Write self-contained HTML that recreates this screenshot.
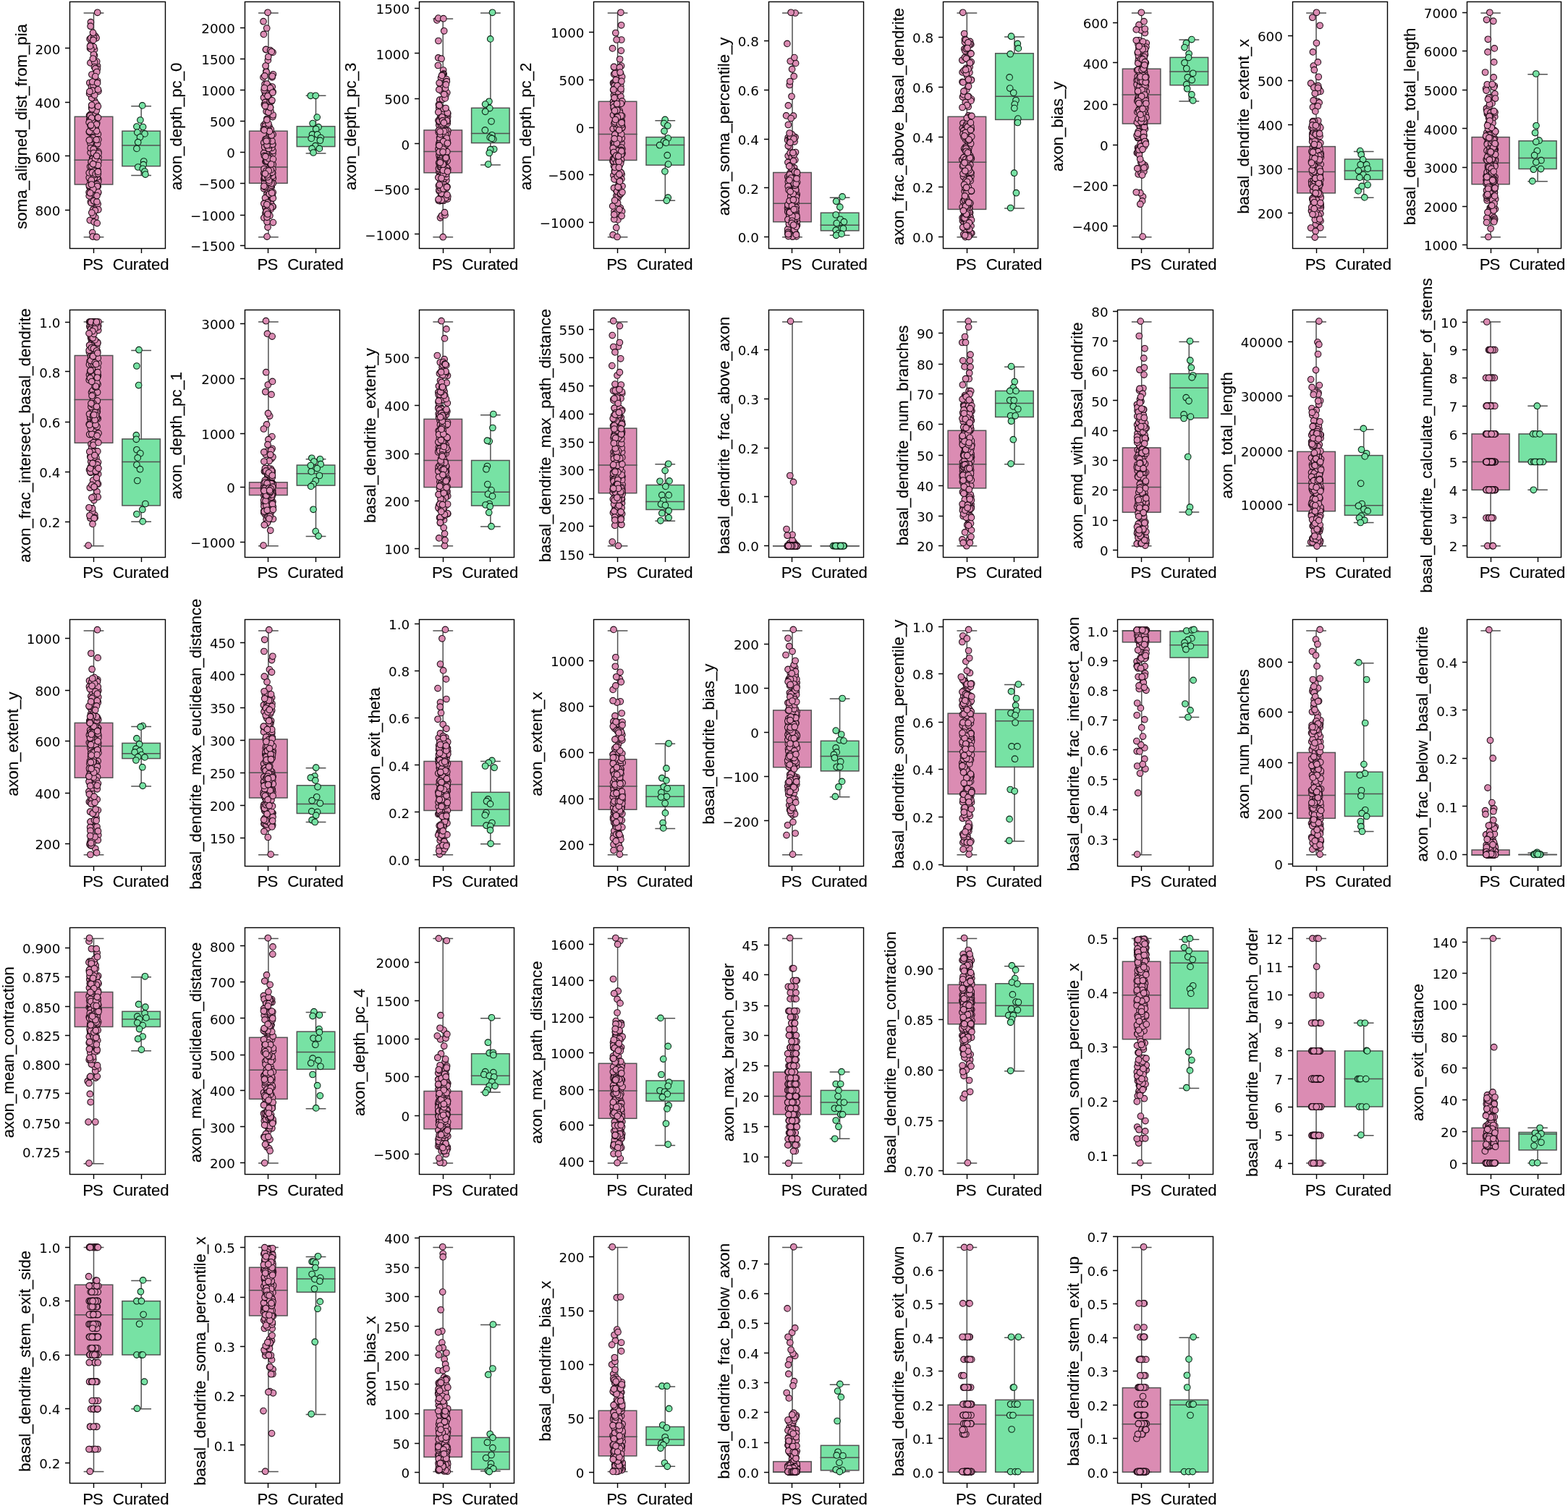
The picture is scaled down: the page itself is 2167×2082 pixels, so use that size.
<!DOCTYPE html><html><head><meta charset="utf-8"><title>Feature comparison: PS vs Curated</title>
<style>html,body{margin:0;padding:0;background:#fff}svg{display:block}.t{font-family:"DejaVu Sans","Liberation Sans",sans-serif;font-size:18.3px;fill:#000;text-anchor:end}.x{font-family:"Liberation Sans",Arial,sans-serif;font-size:22.2px;fill:#000;text-anchor:middle;stroke:#000;stroke-width:.12px}.b{stroke:#525252;stroke-width:1.5;stroke-linecap:square}.s{fill:none;stroke:#000;stroke-width:1.4}.k{stroke:#000;stroke-width:1.4;fill:none}.m{fill:none;stroke:none}.mp{marker-start:url(#mp);marker-mid:url(#mp);marker-end:url(#mp)}.mg{marker-start:url(#mg);marker-mid:url(#mg);marker-end:url(#mg)}</style></head><body>
<svg width="2167" height="2082" viewBox="0 0 2167 2082">
<defs>
<marker id="mp" markerUnits="userSpaceOnUse" markerWidth="12.6" markerHeight="12.6" refX="6.3" refY="6.3" overflow="visible"><circle cx="6.3" cy="6.3" r="4.3" fill="#db8cb3" stroke="#24101a" stroke-width="1.1"/></marker>
<marker id="mg" markerUnits="userSpaceOnUse" markerWidth="12.6" markerHeight="12.6" refX="6.3" refY="6.3" overflow="visible"><circle cx="6.3" cy="6.3" r="4.3" fill="#77e2a4" stroke="#0c2617" stroke-width="1.1"/></marker>
</defs>
<rect width="2167" height="2082" fill="#fff"/>
<g><rect class="b" x="103.3" y="161.3" width="52.5" height="93.7" fill="#db8cb3"/><path class="b" fill="none" d="M103.3 221.2H155.8M129.5 161.3V18M129.5 255V327.7M116.4 18H142.7M116.4 327.7H142.7"/><rect class="b" x="168.9" y="181.2" width="52.5" height="48.5" fill="#77e2a4"/><path class="b" fill="none" d="M168.9 201.1H221.4M195.2 181.2V146.8M195.2 229.7V242.6M182 146.8H208.3M182 242.6H208.3"/><polyline class="m mp" points="125.9,181.1 125.7,249.1 128.6,49.6 126.2,61.8 123.8,114.5 132.9,98.7 127.3,221.8 127.7,218.5 133.6,212.4 136,217.4 125.4,30.7 132.7,257.6 135.8,247.9 133.5,150.6 134.6,91.3 124.9,198.1 128.5,230 126.4,253.1 128,255 123.8,165.1 125.9,61.1 133.3,240 124.9,158.3 134.8,247.7 133.5,286.7 133.5,200.4 124.9,86.9 134.5,111.8 129.8,232.2 125.1,210.9 123.7,258.4 129.9,238.2 135.2,192.9 128.2,118 129,47.6 136,126.1 127.7,321.6 133.5,221.3 128.8,218.6 127.8,177 135.2,282.1 124.7,249.6 132,157.9 129.7,242.3 129,233.2 127.6,268.9 130.5,76.7 128.2,184.8 129.8,174.9 135.3,257.6 131.3,167.5 126.4,224.7 129.3,189.2 127.1,227.8 129.6,263.5 135.9,289.8 130.2,182.3 129.2,227 133.1,171.3 125.1,259.2 134.4,235.9 124.5,183.1 126.9,103 132.1,176.9 126.4,119.4 134.4,95.3 133.8,170.1 124.8,243.5 130.5,139.2 126.7,135.4 123.2,245.6 128.8,252.1 132.4,226.4 135.9,209.9 135.4,185.4 133.7,85 129,268.1 124.9,161.4 123.5,159.8 134.8,198.7 124.5,160.1 124.6,230.3 124.3,304.5 124.3,166.5 132.1,213 131.8,223.7 124.1,53.9 135.7,251.1 132.1,238.5 125.6,256.7 134.9,225.6 127.4,276.6 124.9,168.9 129.6,247.3 135.8,192.9 135.6,266.6 128.2,258.4 126.7,149 124.6,256.9 128.2,219.5 123.2,256.4 128.2,327.1 133.9,254.7 125.9,174.5 125.2,204.7 128.7,239.9 133.2,222.5 125.3,236.1 130.7,85.7 134.5,244.8 131.7,49.9 132.7,210.3 134,258.1 123.6,129.4 128.6,129.9 133,240.2 125.3,279.1 123.3,182.6 126.1,280.6 130.6,68.5 129.2,206.2 132.2,52.7 126.4,181.8 130.3,245.7 130.8,131.6 129.6,273.3 133.6,327.7 127.5,273.9 125.1,266.2 129.6,277.7 128.9,118.3 131.6,166.4 135,235.4 128.8,225.3 129.6,241.9 129.4,234.7 130.7,229.3 130.2,292.5 133.5,181.2 134.5,162.9 125.6,52.6 129.4,64.8 135.1,226.2 135,235.5 130.3,224.8 131.1,110.6 128.5,289.9 134.2,258.1 127.8,125.2 133.1,52.5 129.2,262.9 134.3,257.4 126.8,229.7 131.6,220 127.7,167.4 127.8,113.1 133.2,153 124.5,66.9 135.9,223.4 126.6,229.6 130,236.5 133.9,278.9 127,269 126.3,248.9 126.1,267.5 123.6,181.7 135.5,162.7 123.2,238.9 123.9,126.5 134.3,145 129.3,75.3 134.9,240.9 133.2,193.2 126,67.9 131.8,300.7 126.1,223.6 135.7,265.6 127.1,150.7 134.6,114.7 127.4,238.6 124.9,193 130.1,306.9 132.2,142.4 131.3,290.9 123.2,270.9 128.6,297.6 134.2,308.6 130.4,92.6 123.3,193.8 133.9,270.6 128.4,81.1 131.8,94.7 133.8,99.5 129.3,211.6 126.8,294 126.7,145.3 123.1,265.9 126.6,163 133.3,172 128.8,261.4 129.6,52.4 132.2,240.5 136,212.1 123.1,169.2 127.5,176.4 124.5,63.8 133.3,215.8 135.4,123.8 124.6,266.8 131.7,105.6 126.4,255.1 135.5,228.6 125.1,173.8 131.5,219.4 134.7,17.3 135.4,240.1 128.5,45.2 125.6,173.1 125.1,36.2 133.6,215.5 128.9,55.4 135.4,237.4 128.6,226.7 135.4,147.1"/><polyline class="m mg" points="196.7,145.9 193.9,166 188.9,175.1 197.6,175.5 189.8,183.1 200,184.9 193.5,189.6 190.7,196.7 188.9,205.4 198.7,223 198.1,227.7 190.7,231 197.2,233.3 200,237 200.9,241.1"/><rect class="s" x="96.5" y="2.5" width="132" height="341"/><path class="k" d="M96.5 66.5h-6.5M96.5 141.5h-6.5M96.5 215.5h-6.5M96.5 290.5h-6.5M129.5 343.5v6.5M195.5 343.5v6.5"/><text class="t" x="83.4" y="74.5">200</text><text class="t" x="83.4" y="149.2">400</text><text class="t" x="83.4" y="223.6">600</text><text class="t" x="83.4" y="297.9">800</text><text class="x" style="letter-spacing:-1px" x="128" y="372.5">PS</text><text class="x" style="letter-spacing:-.2px" x="194.6" y="372.5">Curated</text><text class="x" transform="translate(36.5 174.9) rotate(-90)">soma_aligned_dist_from_pia</text></g>
<g><rect class="b" x="344.6" y="181.2" width="52.5" height="72.1" fill="#db8cb3"/><path class="b" fill="none" d="M344.6 231H397.1M370.9 181.2V18M370.9 253.3V327.7M357.8 18H384M357.8 327.7H384"/><rect class="b" x="410.3" y="174.7" width="52.5" height="27.9" fill="#77e2a4"/><path class="b" fill="none" d="M410.3 189.6H462.8M436.5 174.7V132.3M436.5 202.6V211.9M423.4 132.3H449.7M423.4 211.9H449.7"/><polyline class="m mp" points="367.6,281.7 365.8,242.6 377.1,185.9 375.6,227 372.2,221.7 369.1,213.8 366.3,128.3 370.9,249.7 364.7,239.8 376.5,251 372.3,185.8 364.8,197.2 364.5,135 369,327.1 373,279.8 376.9,199.7 366.9,223.4 374,278.8 370.7,255.4 366.1,116.4 370,126.5 375,249.5 376.1,106.9 373.6,148.6 369.2,267.5 369.8,144.7 370,199.4 375.2,248.1 371.9,235.2 365.4,144.4 375.3,140.1 368.1,173.4 368.1,251.9 366.9,192.5 373.4,263.2 368.3,277.9 370.5,272.7 377.2,266 364.7,173 365.7,203.5 372.8,218.3 373.4,137.6 372.9,224.3 368.1,154.1 376.3,270.7 370.3,83.4 376.8,161.6 373.3,223.2 377.2,285.9 367.1,170.4 377.4,307.6 371.2,122.3 374,243.4 367.4,254.3 373.9,203.1 369.1,201.7 367.4,68.6 365.1,248 376.9,212.4 368.9,247.1 364.6,211.7 368.6,239 377.2,208.5 369.1,268.1 373.4,269.9 368.9,164.3 371,150.1 374.7,229.3 373.9,227.9 366.6,174.1 364,29.7 371.9,140.7 372.2,247.2 374.1,289.4 367.7,279.1 370,314.1 377.2,159 365.6,248.5 372.5,119.4 371.2,263.6 369.9,199.3 367.6,218.5 366.9,294.7 366.5,141.4 377.3,246.5 376.8,239.3 366.6,285.5 369.1,262.4 370.8,78.5 375.8,204.3 372.3,188 371,256.6 364.7,260.8 372.7,278.7 364,106.9 367.8,223 374.4,128.6 372.9,280 372.9,148.1 370.9,281.4 376.5,226.3 370,17.3 367.6,234.6 367.2,288.1 372,174.7 374.8,220.1 374.7,282.3 367.3,284.8 370.2,293.5 373.4,261.2 376.6,243.6 371.1,223.6 371.3,205.6 368.8,116 373.6,217.3 377.1,127 376.8,285.5 372.9,298.2 373,140.1 375.2,258.6 377.2,227.4 372.9,200.6 377,233.9 371.3,249.9 366,145.1 376.6,253.3 368.2,220.2 365.4,215.4 369.7,130.5 368.6,234 370.5,216.9 370.6,247.5 376.7,199.6 371.2,192.7 373.7,258.4 370.9,221.3 370,239.7 374.8,256.3 376.2,120 377.2,253.4 374,184.6 366,241.7 371.3,252.7 372.6,240.5 373.9,153.4 367.6,68.4 372.4,195.7 370.8,155.2 367.8,98.8 368.9,283.2 368.2,192.4 373.3,237.9 368.1,99.4 372.3,222.1 365.7,252.6 372,250.8 375,253.6 374.3,178.9 373.5,238.8 365.3,246.4 368.2,238.2 373.5,148.7 371.9,251.9 371.5,269.2 366.5,273.7 368.4,295.2 365,233.5 376,195 374.1,226.5 375.2,187.1 377.3,274 374.9,139 365.8,104.9 370.7,177.7 367,91.1 364.8,301.1 374.4,124.1 369.6,280 372,123.3 367.1,286 367.5,129.8 365.9,245.5 369,306.7 369,200.8 366.2,244.9 373.4,121.7 364.8,281.4 369.8,194.7 374,286.9 371.9,180.6 369.2,290.7 372.2,268.2 372.4,181.6 371.7,249.4 366.2,258.6 373.6,69.6 377,72.4 368.2,236 369.9,132.8 375.9,238.3 375.6,266.7 365.1,124.6 368.1,292.5 377.4,102.8 364.3,178.9 365.4,121.5 369.8,244.7 374.2,235 364.4,47.4 368.1,194.9 364.8,257.3 365.1,179.9 368.4,223.4 369.1,222.6 370.9,218.9 377.4,220.1 366.3,146.5 368.8,282.7 376.8,128 375.2,71.4 375.9,138.8 368.7,39 369.1,242 369,300.3 370.9,170.9 371.2,235.9 376.2,105.3 366.5,240.1 366.9,216.4 368.8,165.7 374.7,227.1 369.9,296"/><polyline class="m mg" points="429.3,132.3 436.2,132.3 438.2,162.1 432.1,170.6 440.1,175.7 436.7,178.4 431.5,185.9 438.6,185.9 430.2,191.4 443.2,190.5 442.3,194.2 435.8,201.7 431.1,205.4 441.4,205.4 433,211"/><rect class="s" x="338.5" y="2.5" width="131" height="341"/><path class="k" d="M338.5 38.5h-6.5M338.5 81.5h-6.5M338.5 124.5h-6.5M338.5 167.5h-6.5M338.5 210.5h-6.5M338.5 253.5h-6.5M338.5 297.5h-6.5M338.5 339.5h-6.5M370.5 343.5v6.5M436.5 343.5v6.5"/><text class="t" x="324.8" y="45.7">2000</text><text class="t" x="324.8" y="89">1500</text><text class="t" x="324.8" y="131.9">1000</text><text class="t" x="324.8" y="175.4">500</text><text class="t" x="324.8" y="218.4">0</text><text class="t" x="324.8" y="260.9">−500</text><text class="t" x="324.8" y="304.6">−1000</text><text class="t" x="324.8" y="347.4">−1500</text><text class="x" style="letter-spacing:-1px" x="369.4" y="372.5">PS</text><text class="x" style="letter-spacing:-.2px" x="435.9" y="372.5">Curated</text><text class="x" transform="translate(250.9 174.9) rotate(-90)">axon_depth_pc_0</text></g>
<g><rect class="b" x="586" y="179.9" width="52.5" height="58.9" fill="#db8cb3"/><path class="b" fill="none" d="M586 209.5H638.5M612.2 179.9V26M612.2 238.8V327.7M599.1 26H625.4M599.1 327.7H625.4"/><rect class="b" x="651.6" y="149.3" width="52.5" height="48.3" fill="#77e2a4"/><path class="b" fill="none" d="M651.6 184.4H704.2M677.9 149.3V18M677.9 197.6V227.9M664.8 18H691M664.8 227.9H691"/><polyline class="m mp" points="610.3,181.8 616.6,219 616,189.8 607.9,199.7 607.5,190.4 607.5,228.8 609.4,271.2 608.5,301.1 608.6,203 609.9,221.3 616.9,249.3 607.5,217.5 610.9,270.1 610.8,186.1 607.9,277.7 617.8,235.2 606.9,237.9 618.2,180.2 608.1,277.4 605.7,79.9 612.8,198.9 615.9,244.6 610.5,275.9 617.8,128.1 612.2,173.9 607.2,179.9 613,193.4 606.8,172.9 612.5,277.2 606.7,145.3 618.5,197.4 607.9,206.1 608.9,218.8 616.8,260.2 618.8,233.7 612.7,193.8 608.9,170.9 610.1,227.8 616.9,216.9 617.1,159.5 618.5,181.4 618.2,170.7 610.1,225.4 615.6,236.2 607.7,138.2 614,220.3 613,182.5 612.6,97 611,239.7 616,238.1 615.2,188.8 614,244.3 612.6,263.9 606.9,168.6 610,81.2 613.2,102.2 612,248.3 605.9,56.5 606.9,214.3 612.8,151.3 608,197.9 616.7,219.7 614,255.4 611.6,268.9 618.1,195.7 607.5,196.5 611.2,264.7 608.5,162.2 613.7,247.1 608.4,116.2 608.3,260.3 609.2,220 603.9,27.9 611.7,217.6 614.9,193.3 606.2,277.2 607.9,166.8 606.8,149.2 618.7,161.3 617.3,231.8 606.5,206.8 608.3,239.1 605.7,25.1 607.2,183.2 610.6,161.2 606.6,225.1 609.6,242.7 608.3,245.7 607.6,167.6 607.9,195.6 608,180.3 613.7,209.1 606.1,205.8 610.9,277 606.3,182.9 609.9,262.7 609.5,107.6 618.8,180.8 607.5,244.2 613.7,42.8 606.9,264 615.9,132.1 612.2,327.7 614.1,194.4 617.1,109.6 612.8,214.5 617.3,112.7 607.9,191.4 612.3,102.6 617.8,164.2 610,173.7 616.5,186.8 617.1,223.3 612.8,206.2 616.8,244.4 606.8,198.5 613.2,235 615.8,201.1 613.7,214.8 614.7,209.8 607.6,210.7 610.2,267.5 606.5,200.5 606.4,233 618.1,185 610.7,243.4 606.9,262.6 605.9,166.6 616,151.9 614,151.5 618.1,222.4 609,216.4 608.4,242.8 610.4,298.3 610.6,126 610.3,241.2 611.3,103.5 610.9,228.5 613,277.2 613.7,197.6 615.1,275.9 618.4,275.1 612.1,121.8 615.9,180.7 614.6,222.7 609.3,211.2 610.5,205.3 618,258.2 608.3,260 613.9,201.5 608.4,231 611.6,137.2 615.2,135.9 611.3,171.7 615,297.4 614.5,293.7 618.3,167.7 606.4,256.7 613.7,222.6 610.5,150 618.8,271.8 614.5,258.5 613.1,227.4 612.8,261.1 613.7,156.1 608.4,221.2 610.7,218.9 609.4,230.5 617.9,236 618.8,157.1 615.4,220.4 616.6,209.1 612.5,223.2 610.2,183.1 616.9,240.3 617.5,166.8 610.7,202.5 613.8,130.4 606.8,123.9 618.1,194.2 608.6,185.6 605.4,90.5 615,215 613,150.4 607.2,167.3 605.8,155 612.6,240.4 615.8,273.7 615.9,186.8 615.5,122.1 614.6,234.9 613.6,181.5 609.1,204.8 611.6,200.6 612.9,210 608.6,249.3 612.3,235.6 611,200 616.3,116.9 608.1,222.4 618.5,237 607.3,255.4 609.9,162.6 610.2,276.5 610.9,161.8 617.6,258.7 614.8,213.4 605.8,245.4 608.6,227.3 606.4,180.3 607,210.1 612.1,227.2 617.2,191 607,224.6 612.8,25.7 611.6,166.9 610,246.3 617.8,269.3 617.8,209.8 612.7,195.4 606.4,144.6 607.1,145.7 612.2,205.9 612,210.1 618.4,198 618.4,155.9 606,275.6 608.1,182 616.2,218.3 616,149.5 613.4,169.7 608.3,224.7 607.1,114.7 607,201.2 610.6,104.4"/><polyline class="m mg" points="680.5,17.3 677.7,53.9 675.9,140.3 670.6,144.1 676.8,149.6 670.6,154.3 679,167.8 670.3,179.9 679.9,186.8 677.2,190 681.8,192.4 679.6,191.4 682.7,206.3 677.7,206.7 676.2,211.5 674.7,227.1"/><rect class="s" x="579.5" y="2.5" width="131" height="341"/><path class="k" d="M579.5 11.5h-6.5M579.5 73.5h-6.5M579.5 136.5h-6.5M579.5 198.5h-6.5M579.5 261.5h-6.5M579.5 323.5h-6.5M612.5 343.5v6.5M677.5 343.5v6.5"/><text class="t" x="566.1" y="19.1">1500</text><text class="t" x="566.1" y="81.6">1000</text><text class="t" x="566.1" y="144.2">500</text><text class="t" x="566.1" y="206.5">0</text><text class="t" x="566.1" y="269.1">−500</text><text class="t" x="566.1" y="331.6">−1000</text><text class="x" style="letter-spacing:-1px" x="610.7" y="372.5">PS</text><text class="x" style="letter-spacing:-.2px" x="677.3" y="372.5">Curated</text><text class="x" transform="translate(492.2 174.9) rotate(-90)">axon_depth_pc_3</text></g>
<g><rect class="b" x="827.3" y="140.3" width="52.5" height="81.2" fill="#db8cb3"/><path class="b" fill="none" d="M827.3 185.5H879.9M853.6 140.3V18M853.6 221.6V327.7M840.5 18H866.7M840.5 327.7H866.7"/><rect class="b" x="893" y="189.6" width="52.5" height="38.7" fill="#77e2a4"/><path class="b" fill="none" d="M893 200.4H945.5M919.3 189.6V166.7M919.3 228.3V277.3M906.1 166.7H932.4M906.1 277.3H932.4"/><polyline class="m mp" points="856.5,189.4 847.4,221.6 848.3,149.7 850.8,196.7 852.1,228.7 855.1,173.8 848.5,123.9 855.3,174.6 857.3,287.4 848.6,220.1 848.2,142.6 855,207.8 851.1,187.4 858.4,190.7 847.5,159.1 848.3,131.8 851.7,263.2 850.7,113.1 847.6,124.4 850.2,114.7 859.1,142.4 847.2,178.1 854.9,199.8 847.5,114.6 847.6,140.3 855.4,191.9 847.9,242.4 852.4,191.4 859.1,167.2 849,292.1 855.3,156.8 847.6,219.7 854.3,245.5 852.7,222.4 855.2,107.6 847.7,219.8 852.6,206.5 849.6,143.9 851,138.5 858.8,55 858.6,91.1 855.1,211 859.7,175 854.3,109.6 851.6,149 860,211.6 852.5,261.1 851.4,247.8 851.3,155.1 851.9,270.7 858.1,222.6 855.7,127.8 853.9,137.4 847.7,199.1 852.9,163 855.6,251.3 859.7,176.8 857.9,191.8 853.3,177.8 852.3,206.3 853.9,171.7 852.4,176.5 857.8,118.8 852.9,97.3 857.9,17.3 853,127.3 856.5,185.2 847.7,144.4 847.9,115.8 852.6,171.9 858.5,220.7 848.5,259.9 855.8,159.5 852.8,161.1 846.5,66.9 851,233.8 851.7,193.4 856.2,153.1 848.4,229.6 852.8,206.1 848.6,102.5 853.1,205.7 853.5,230.4 854.1,140.5 859,198 858.4,205.9 859.6,213.1 849,247.9 850.3,235.7 854.3,273.2 852.7,192.5 847.7,210.5 853.4,185.2 858.6,213.5 859.4,176 847.6,197.3 850.1,147.3 853.9,105.8 848.3,147.9 855,135.4 854.8,169.4 856.3,228.5 859.8,160.3 859.9,206.1 852.7,207.1 848.8,93.2 854.7,256.8 847.1,223.3 847.7,223.1 852.1,55 849.2,116.8 851.2,294.4 852.7,122.4 857.7,101.9 853.9,303.9 852.9,162.1 850.8,45.5 858.9,173.1 850,101.4 850.8,184.7 853,145.2 847.1,324.7 859.6,106.3 851.6,206.3 853.2,212.6 857.8,238.1 853,151.8 858.6,191.7 853.7,163.2 854,270.9 853,327.5 857.8,126.1 855.4,254.5 848.4,92.4 858.3,70.1 856.4,93.2 853.3,131.9 852.7,264.7 848.9,170.6 859.6,292.2 856.8,193.4 857.2,268.8 859.1,240.9 855.9,191.2 851.3,120 849.5,219.8 853.9,226.1 852.7,111.3 855.9,289.4 848.2,199.6 856.6,81.8 852.6,114.1 855.9,135.8 849.6,198 848.7,303 859.7,176.2 859.3,191 851.2,110.5 855,257.9 859.1,298.6 853.8,218.7 849.7,186.1 852,224.6 856.6,155.8 857.7,204.4 852.8,152.2 854.1,123.1 858.7,185.5 849.5,198.5 858.8,204 858.7,172.8 858.9,247.4 852.7,138.7 855,223.2 846.7,284.9 857.1,100.1 857.7,267.7 852.2,123 858.4,207.4 849.5,153.1 857.9,133.5 849.3,236.8 855.6,179.7 860,257.4 857.7,225.8 859.9,265.7 851.7,314.7 853.6,280.7 855.2,259.4 855.4,192.3 858.2,238.7 849.5,277 853.3,208.5 848.7,296.7 858.8,208.9 849.2,118.5 849.8,168.7 847.2,204.7 849.8,237.3 859.8,139.9 858.2,143.3 852.3,198.1 856.4,249.5 855.3,223.5 858.9,112.3 849.1,126.3 851.8,214.1 848.3,210.5 853.2,243.9 856.8,161.3 855.8,241 856.1,168.3 854.1,258.6 858.6,167.9 858.6,34.8 851.9,122.2 849.7,231.4 849.1,191.7 858.3,160 854,126.5 855.3,231.6 856.5,171.5 853.3,161.9 849.7,122.8 856.4,250.7 853.1,118.5 851.5,215.2 858.1,123.1 849,135.2 852.6,143.5 859,169.7 854.6,216.1 850.5,165.4 847.8,123.9"/><polyline class="m mg" points="919.1,165.4 917.6,170.6 922.8,173.8 918,181.2 923.2,191.1 917.6,195.5 920.4,197.4 911.6,200.7 922.2,214.7 923.5,227.1 918.9,237 923.2,273.2 921.3,277.3"/><rect class="s" x="820.5" y="2.5" width="132" height="341"/><path class="k" d="M820.5 44.5h-6.5M820.5 110.5h-6.5M820.5 176.5h-6.5M820.5 241.5h-6.5M820.5 307.5h-6.5M853.5 343.5v6.5M919.5 343.5v6.5"/><text class="t" x="807.5" y="52.2">1000</text><text class="t" x="807.5" y="117.6">500</text><text class="t" x="807.5" y="183.8">0</text><text class="t" x="807.5" y="249.2">−500</text><text class="t" x="807.5" y="315.2">−1000</text><text class="x" style="letter-spacing:-1px" x="852.1" y="372.5">PS</text><text class="x" style="letter-spacing:-.2px" x="918.7" y="372.5">Curated</text><text class="x" transform="translate(733.6 174.9) rotate(-90)">axon_depth_pc_2</text></g>
<g><rect class="b" x="1068.7" y="238.5" width="52.5" height="68.2" fill="#db8cb3"/><path class="b" fill="none" d="M1068.7 281.2H1121.2M1095 238.5V18M1095 306.7V327.7M1081.8 18H1108.1M1081.8 327.7H1108.1"/><rect class="b" x="1134.4" y="294.2" width="52.5" height="24.7" fill="#77e2a4"/><path class="b" fill="none" d="M1134.4 311.3H1186.9M1160.6 294.2V273.2M1160.6 319V325.3M1147.5 273.2H1173.7M1147.5 325.3H1173.7"/><polyline class="m mp" points="1090.6,286.4 1089.4,145.9 1095.3,311.3 1092.9,288.2 1088.9,224.5 1093.8,318 1098,259.1 1097.7,231.9 1090.6,288.3 1093,324.7 1088.5,287.7 1101.5,311.3 1092.2,264 1093.4,313.2 1100.8,270.1 1099.5,210.5 1088.8,244.5 1095.3,320.1 1096.4,263.4 1096.1,214.4 1096,269.9 1096.4,324.6 1097.3,288.9 1100.5,296.9 1099.4,257.3 1090.7,299.4 1100,280.9 1099,237.5 1093.7,228.2 1099.1,189.7 1096.5,310.7 1096.8,215 1089.2,190.3 1090.1,325.3 1089,284.8 1096.8,275 1091.2,117.5 1094.6,95.7 1098.8,294.9 1101.1,240.1 1093.9,191.2 1098.3,296.9 1095.2,299 1099.8,263 1094.3,254.4 1089.5,304.3 1089.2,215.5 1096.8,241.9 1093.5,269.6 1095.9,275.4 1094.8,279.5 1097.5,324.3 1101.3,306.2 1088.7,319.4 1090.2,281.7 1096.1,242.3 1091.9,228.9 1096.5,160.2 1100.6,326.8 1099.6,87.4 1092.2,84.6 1091,298.7 1094.3,306.2 1093.8,286.7 1099.6,302.5 1094.3,297.2 1095.9,299.3 1099.1,18 1101.4,242.8 1097.8,79.6 1100,251.5 1093.4,265.2 1091,312 1089.7,256.5 1092.7,271.5 1093.1,17.3 1098,311.7 1094.9,297.2 1100.1,292.5 1098,312.8 1094.6,312.3 1091.4,203.2 1098.8,221.1 1090.4,246.3 1094.1,286.3 1101.1,268.4 1091.8,247.6 1095.6,241.7 1099.6,262.4 1099.5,237.1 1098.8,289.1 1088.7,292.8 1096.8,239.4 1100.4,301.8 1100.2,270 1086.6,159.9 1088.8,283.1 1093.1,163.6 1093.6,237.9 1098.8,256.3 1096.3,282 1095.9,290.8 1100.5,313.3 1092,211.5 1094.5,235.7 1089.3,251.1 1089.2,257.5 1092,292.7 1093.8,314.6 1096.3,248.9 1097,297.3 1098.9,303.6 1096.7,188.6 1094.8,318.5 1089.3,201.7 1097.7,248.7 1090.7,293.3 1088.6,193.8 1091.4,310.8 1095.1,195.4 1097.8,297.6 1093.6,247.5 1091.6,195.7 1094.1,317.8 1096.5,314.2 1094.6,235.1 1092.5,325.7 1094.9,284.7 1091.6,191.3 1101.1,237.9 1099.2,277.3 1094.3,217.3 1098.9,315.1 1097.7,270 1091.9,239.2 1100.4,272.4 1094,133.3 1097.9,305 1101.6,252.1 1097.1,213.9 1088.7,323.1 1097,280.4 1091.5,302.4 1089.4,172.5 1099.2,299.6 1090.5,317.8 1094.6,281.5 1092.6,321.1 1100.4,297.2 1096.1,268 1098.3,283.4 1097.9,246 1090.1,326.1 1092.4,189.9 1099.2,249.5 1097.4,253.5 1098,195.8 1101,301.8 1092.6,316.7 1087.9,60.4 1096.5,222.4 1094.5,185.9 1095.1,309.3 1094.9,326.6 1095.3,327 1098,308.9 1100.3,323.8 1095.4,320.1 1092.8,189.4 1098.8,313.7 1098.8,291.2 1095.8,324.4 1091.4,241.4 1094.1,309.4 1092.5,296.1 1091.1,297.8 1099.1,322.3 1100.4,239.2 1100.1,254 1091,318.7 1095,317.9 1091.8,112.5 1093.5,232.2 1088.7,316.9 1093.4,303.6 1090.1,262.9 1100.2,286.7 1099.4,289.3 1089.2,321.2 1091.4,324.7 1096.9,192.1 1098.4,237.3 1091.1,277.7 1095.2,327.1 1089.5,326.6 1099.6,311.1 1098.5,318.2 1090.6,323.5 1090.3,309.6 1097.1,304.3 1093.2,246 1100.9,299.3 1089.2,323.7 1090.7,229.8 1092.1,264.7 1088.9,303.5 1101.5,238.4 1094.9,299 1097.2,105.4 1091.9,197.1 1094.4,284.5 1097.9,317.5 1091.4,293.5 1100.4,313.4 1094.5,305.3 1094.2,308.4 1095.8,211.2 1096.7,311 1091.1,184 1100.3,324.4 1099.9,277 1090.9,249.1 1100.9,246.9 1097.2,289.6 1096.3,276.2"/><polyline class="m mg" points="1164.1,271.9 1155.6,278.3 1160.8,286.2 1155.2,297 1161.2,303.3 1156.2,308.6 1166.4,306.7 1162.7,316 1155.2,318.2 1165.4,316 1158.9,322.5 1155.6,325.3 1163,323.4"/><rect class="s" x="1062.5" y="2.5" width="131" height="341"/><path class="k" d="M1062.5 56.5h-6.5M1062.5 124.5h-6.5M1062.5 192.5h-6.5M1062.5 259.5h-6.5M1062.5 327.5h-6.5M1094.5 343.5v6.5M1160.5 343.5v6.5"/><text class="t" x="1048.8" y="63.9">0.8</text><text class="t" x="1048.8" y="131.8">0.6</text><text class="t" x="1048.8" y="199.6">0.4</text><text class="t" x="1048.8" y="267.5">0.2</text><text class="t" x="1048.8" y="335.3">0.0</text><text class="x" style="letter-spacing:-1px" x="1093.5" y="372.5">PS</text><text class="x" style="letter-spacing:-.2px" x="1160" y="372.5">Curated</text><text class="x" transform="translate(1007.7 174.9) rotate(-90)">axon_soma_percentile_y</text></g>
<g><rect class="b" x="1310.1" y="161.3" width="52.5" height="128.1" fill="#db8cb3"/><path class="b" fill="none" d="M1310.1 224.3H1362.6M1336.3 161.3V18M1336.3 289.4V327.7M1323.2 18H1349.5M1323.2 327.7H1349.5"/><rect class="b" x="1375.7" y="73.8" width="52.5" height="91.6" fill="#77e2a4"/><path class="b" fill="none" d="M1375.7 133.3H1428.2M1402 73.8V51.1M1402 165.4V287.9M1388.8 51.1H1415.1M1388.8 287.9H1415.1"/><polyline class="m mp" points="1332.7,295 1332.6,46.5 1342.2,178.9 1330.4,305.3 1338,196.6 1341.9,243.7 1341.7,73.7 1335.1,252.1 1329.8,83.2 1329.8,220.8 1332.8,67.8 1340.9,199.6 1333.8,183.6 1334.3,204.2 1342.5,264.4 1340.4,299 1333.3,54.7 1336,123.4 1340.7,294.1 1336.8,169.2 1338.5,203.8 1340.8,300.2 1331.9,217.7 1339.7,321 1337.9,314.8 1334.5,192.8 1330.9,170.3 1336.5,304.6 1335.8,177.1 1334.5,307.2 1340.6,57.4 1330.3,177.2 1335.3,321.4 1338.7,286.6 1333.4,184 1337.6,310.4 1342.8,322.4 1334.9,265.6 1335.3,273.6 1337.9,195.5 1338.5,159.9 1335.2,275.4 1338.8,231.7 1341.8,61.4 1334.4,301.3 1332,276.9 1335.9,171.6 1339.8,288.5 1340.8,227.8 1338.9,204.4 1342.4,110.3 1330.1,301.1 1336.5,97.4 1331.4,278.9 1332.1,189.3 1333.2,264.5 1335.1,176.8 1338.4,209.2 1339.5,293.3 1337.8,304.2 1332,225.2 1335.8,60.3 1338,110.4 1336.6,105.1 1333.4,58.4 1333.8,225.9 1339.6,286.8 1336.3,317.2 1332.3,308 1337,222.6 1338.3,258.7 1339.7,263.9 1334.8,302.4 1332.8,303.3 1334.7,55.2 1338.1,313.8 1330.4,134.1 1334.2,203.4 1333.1,179.3 1334.6,220.2 1340.2,323.5 1331.7,324 1339.9,100.3 1338.9,181 1338.9,75.6 1340.1,195 1334.9,325.3 1339.1,162.4 1334.7,311.5 1330,113.3 1330.9,113.9 1336.7,298.6 1341.9,175.2 1333.1,237.7 1337.6,285.3 1338.8,231 1333.4,79.3 1331.1,315.1 1337.7,280.4 1334,176.4 1341.2,249.7 1332.6,205.7 1337.2,207.7 1335.4,174 1334.3,303.5 1332.2,243.6 1341.6,198.4 1342.3,110.8 1340.5,61.1 1338.8,63.1 1336.2,163.2 1338.2,147.5 1330.1,286.1 1338.4,302.1 1338.6,263.4 1341.7,322.3 1336.7,81.7 1338.6,133.4 1335.8,326.1 1331.5,244.2 1334,282.7 1334.7,250.8 1331.6,130.9 1342.4,219.3 1335.1,94.4 1330.1,99.9 1335.9,265.7 1335,249.4 1336.8,175.7 1342.5,137.1 1335.5,71.7 1340.7,215.2 1337.9,58.8 1332.2,97.5 1342,312.4 1334.4,316.8 1331.5,180.7 1334.9,209.3 1335.2,299.1 1342.3,263.8 1335.3,101.7 1338.4,110.1 1342.2,85.7 1334.1,327.6 1336.2,303.9 1338.9,193.8 1342,239.2 1332,313.6 1341.7,217.9 1333.5,276.6 1333.9,70.4 1338.8,220.2 1335.3,67.7 1336.6,287.5 1338.8,181.7 1341.3,238.1 1339.2,235 1330.5,229.8 1339.6,325.9 1336.4,276.4 1331.2,228.4 1337,66.5 1332.7,289.9 1333.9,259.7 1336.9,294.3 1342.7,188.8 1335.8,308.6 1330.9,240.1 1331,185.2 1330.7,17.3 1339.6,316.8 1340.1,92.7 1340.6,281.2 1339.4,247.7 1332.3,298.3 1340.5,74.8 1335.4,80.9 1334,297.3 1342.5,304.3 1330.7,314.2 1336.9,175.6 1336.5,251.3 1337.8,279.2 1340.7,280.6 1334.6,183.2 1338.6,327.3 1331.8,301.2 1338.9,192.9 1336.2,284.5 1333.1,301.4 1334,207.5 1336.8,313.3 1335,296 1338.2,232.5 1341.8,139.4 1333.6,325.3 1335.5,296 1342.2,160.6 1339.4,307.9 1332.5,255.3 1340.3,218.3 1341.3,179.7 1338.5,119.3 1335.6,259.2 1333.8,236.3 1334.5,285.1 1334.9,205.5 1332.9,187.8 1331.3,291.3 1334.2,141.6 1336.3,145.4 1335.2,209.3 1340.4,87 1337.4,211.1 1341.9,74.3 1338.1,95.2 1341.4,169.6 1337.7,133.5 1333.4,270.9 1331.9,126.2 1333,224.9 1342.9,160.4 1334.5,96.6 1330,148.5 1336,312 1338.8,280"/><polyline class="m mg" points="1397.5,50.2 1406.3,60.4 1407.4,66.9 1396.2,74.7 1395.1,106.9 1395.7,122.1 1400.7,128.3 1404,138.5 1402.2,144.1 1401.8,149.6 1406.8,164.1 1406.4,169.5 1401.6,239.2 1404.4,266.7 1396.6,287.5"/><rect class="s" x="1303.5" y="2.5" width="131" height="341"/><path class="k" d="M1303.5 51.5h-6.5M1303.5 120.5h-6.5M1303.5 189.5h-6.5M1303.5 258.5h-6.5M1303.5 327.5h-6.5M1336.5 343.5v6.5M1401.5 343.5v6.5"/><text class="t" x="1290.2" y="58.7">0.8</text><text class="t" x="1290.2" y="127.9">0.6</text><text class="t" x="1290.2" y="197">0.4</text><text class="t" x="1290.2" y="266.2">0.2</text><text class="t" x="1290.2" y="335.3">0.0</text><text class="x" style="letter-spacing:-1px" x="1334.8" y="372.5">PS</text><text class="x" style="letter-spacing:-.2px" x="1401.4" y="372.5">Curated</text><text class="x" transform="translate(1249.1 174.9) rotate(-90)">axon_frac_above_basal_dendrite</text></g>
<g><rect class="b" x="1551.4" y="95.2" width="52.5" height="75.8" fill="#db8cb3"/><path class="b" fill="none" d="M1551.4 131H1603.9M1577.7 95.2V18M1577.7 171V327.7M1564.6 18H1590.8M1564.6 327.7H1590.8"/><rect class="b" x="1617.1" y="79.4" width="52.5" height="38.3" fill="#77e2a4"/><path class="b" fill="none" d="M1617.1 98.9H1669.6M1643.3 79.4V55M1643.3 117.7V140.1M1630.2 55H1656.5M1630.2 140.1H1656.5"/><polyline class="m mp" points="1579.1,90.8 1571.3,211.4 1576.8,238.6 1573.6,122.9 1576.7,157 1579.5,271.9 1583.5,107.1 1577,207.5 1572.7,114.7 1581.1,170.7 1581.7,92.2 1572.3,73.2 1580.6,82.9 1576.3,96.5 1580.6,102.8 1572.4,138.2 1573.2,240.9 1574,34.4 1575.8,266.7 1583.1,157.9 1575.1,154.6 1581.3,151.5 1572.5,121.2 1571.1,111.3 1580.1,66.1 1580.7,73.8 1574.2,69 1576.1,166.1 1570.3,265.8 1578,194.1 1574.7,60.1 1576.8,224.4 1581.4,104.8 1580.1,69.9 1579.6,62.3 1572.5,204.3 1577.7,96.3 1577,131.4 1571.1,116.7 1576.9,61.1 1572.8,135.6 1577.6,205.3 1573.4,205.9 1576.5,153.9 1573,61.2 1580.3,171.7 1572.2,210.6 1582.3,45.5 1579.3,173.4 1579.9,159.8 1577.4,134.1 1573.1,209.1 1571.5,97 1580.9,90.4 1575.5,181.4 1575.4,136.9 1578.7,183.6 1574.9,103.9 1578.1,100.1 1578,67.7 1574.5,168 1574.5,150.4 1584.1,162.4 1584.2,126.6 1582.5,120.9 1578.6,277.9 1576.9,108.1 1576.1,198.6 1575.2,99.1 1581.5,171.9 1574.4,214.1 1572.6,127.4 1574,124.7 1582.1,228.4 1575,73.1 1583.2,135.1 1576.5,148.9 1574.4,95.3 1573.1,126.3 1576.8,41.8 1577.1,237.7 1573.1,181.9 1573.9,134.2 1574.1,173.2 1572.2,105.9 1578.1,140.8 1573,165.5 1579.7,175.3 1580.4,200.4 1576.2,133.7 1578.4,225.5 1581,81.1 1578.5,233.6 1581.7,107.5 1578.7,202.4 1581.6,90.2 1581.7,99.8 1582.6,65.4 1578.5,204.1 1573.9,80.2 1572.9,110.8 1576.3,82.9 1579.7,62.5 1582.1,151.9 1576.2,94.1 1576.8,74 1573.2,84.1 1581.9,132.4 1577.3,130.9 1583.4,86.9 1583.8,105.9 1580.8,127.8 1582.5,75.8 1575.8,116.3 1577.6,166.4 1582.4,178.2 1576.9,239 1580.9,139.6 1578,171.1 1581.1,105.6 1572.8,87.4 1575,119.2 1579,70.3 1582.3,69.8 1577.3,62.6 1577.3,113.7 1572.5,190.7 1580,65 1575.7,220 1576.6,165.2 1574.5,125.6 1574,207.1 1574,55.8 1574.3,189.8 1584.3,59.6 1579.3,110.4 1581.6,175.5 1577.3,17.3 1576.8,71.3 1572.9,189.8 1579.2,327.1 1583,149.5 1575.5,95.4 1575.5,169.1 1574.1,65.4 1573.4,77 1575.7,102.5 1574.5,96.2 1581,187.2 1576.7,186.2 1579.5,57.6 1573.6,232.6 1583.9,65 1581.1,98.3 1574.1,67 1581.8,147.6 1581,153.6 1572.3,170 1582.3,104 1580.7,136.4 1583.4,119.1 1580.5,125.1 1571.1,187.2 1582.1,89.8 1575.1,64.4 1575.6,161.4 1583.1,195.7 1580.5,74.4 1581.9,168.3 1571.8,154.9 1578.6,138.7 1581.6,94 1577.4,146 1581,29.7 1575.9,67.3 1573.6,152.5 1583,231 1580.9,167.6 1583.4,139.3 1571.8,232.9 1582.1,74.1 1582.4,67.7 1580.9,237.2 1575.8,282.2 1578.5,242.1 1571.4,169.4 1571.8,139.9 1581.1,78.6 1578.3,81.1 1581.6,202.3 1578.7,111 1572.8,96.4 1582.2,117.4 1582.7,196.2 1576,112.3 1577.6,64.8 1570.3,55.8 1580.5,183.5 1576.7,202.5 1578.1,96.7 1579,206.6 1576.7,159 1577.1,69.7 1576.8,81.4 1578.1,124.3 1581.8,131 1574.9,107.1 1572.6,72 1580.2,94.9 1578.4,112.4 1583.9,143 1577.7,133.2 1578.9,82 1580.1,104.4 1573.2,139.5 1570.3,40.9 1579.2,68 1576.2,106 1580.5,189.7 1582.3,85.7 1579.1,156.7 1574.5,154.6 1583.9,113 1573.1,164.6 1573.8,142.8 1581.9,195.6 1574.1,64 1580.1,164.3 1583.2,113.8 1581.7,89.9 1582.3,40 1577,168.3 1577.7,163.6 1579.1,150.5 1582.9,106.7 1572.4,184.6 1572.6,126.1 1576,158.4 1583.5,199.1 1581,232"/><polyline class="m mg" points="1646.9,54.6 1639.4,59.5 1637,65.6 1643.1,74.3 1642.6,79.6 1637,86.8 1639.8,94.8 1648.7,101.3 1641.3,106.9 1647.2,110.6 1639.8,116.7 1640.7,122.7 1646.9,130.7 1648.7,139"/><rect class="s" x="1544.5" y="2.5" width="132" height="341"/><path class="k" d="M1544.5 31.5h-6.5M1544.5 86.5h-6.5M1544.5 144.5h-6.5M1544.5 200.5h-6.5M1544.5 256.5h-6.5M1544.5 312.5h-6.5M1577.5 343.5v6.5M1643.5 343.5v6.5"/><text class="t" x="1531.6" y="38.6">600</text><text class="t" x="1531.6" y="94.6">400</text><text class="t" x="1531.6" y="151.7">200</text><text class="t" x="1531.6" y="207.8">0</text><text class="t" x="1531.6" y="264.1">−200</text><text class="t" x="1531.6" y="320.4">−400</text><text class="x" style="letter-spacing:-1px" x="1576.2" y="372.5">PS</text><text class="x" style="letter-spacing:-.2px" x="1642.7" y="372.5">Curated</text><text class="x" transform="translate(1469.3 174.9) rotate(-90)">axon_bias_y</text></g>
<g><rect class="b" x="1792.8" y="202.6" width="52.5" height="64.3" fill="#db8cb3"/><path class="b" fill="none" d="M1792.8 237.4H1845.3M1819 202.6V18M1819 266.9V327.7M1805.9 18H1832.2M1805.9 327.7H1832.2"/><rect class="b" x="1858.4" y="220.1" width="52.5" height="28.1" fill="#77e2a4"/><path class="b" fill="none" d="M1858.4 236.1H1911M1884.7 220.1V209.5M1884.7 248.1V273.2M1871.6 209.5H1897.8M1871.6 273.2H1897.8"/><polyline class="m mp" points="1812.6,250.7 1815.6,279.1 1821.5,252.8 1817.8,204.2 1818.4,310 1823.8,235 1825.4,286.5 1820.8,251.7 1817.4,268.8 1822.8,282.5 1816.5,261.8 1823.3,277.4 1824.8,197.7 1816.9,139.6 1823.2,247.8 1815.3,273.2 1825.1,248.3 1823.3,239.6 1819.8,262.6 1823.1,273.9 1823,174.3 1824.8,211.2 1820,191.9 1819.4,219.8 1813.9,191.3 1824.8,176.6 1823.8,241.2 1822.5,260.1 1815.9,198 1823.1,235.8 1821.7,167 1811.6,315.1 1814.5,253.1 1816.5,287 1815.4,206.8 1820.8,274.3 1823.9,240 1825,305.4 1815.3,91.1 1821,140.3 1818.6,211.9 1819.1,238.1 1815.5,274.6 1820.3,186.7 1814.4,148.1 1818.4,245.4 1820.4,248.7 1820.7,259.4 1818,292.7 1823.7,240.7 1821.6,248.4 1821.4,217.3 1817.3,211.5 1814.4,71.9 1815.9,207.5 1813.8,211.7 1815.6,280.7 1822.7,122.8 1824.5,295.1 1815.8,210.8 1824.9,282.2 1821.1,225.1 1819.8,225.4 1816.6,167.6 1816.9,263.9 1820.5,234.4 1819.6,218.2 1822.3,239.7 1820.8,242.6 1824.4,254.8 1812.6,291.3 1814.1,276.3 1823,242.5 1821.2,239.3 1822.4,251.3 1814.4,167.6 1815.8,179.3 1816.5,230.2 1822.2,290.3 1817.6,175.6 1818.2,205 1822.7,256.6 1817.5,278.7 1818.7,232.6 1820,282.4 1818.3,216.4 1817.1,247.7 1814.3,203.6 1815.7,277.4 1824.9,126.2 1815.7,276.1 1815.4,118.9 1818,296.3 1824.8,314.8 1820.4,251.4 1824.9,288.3 1824.9,271.6 1825.2,273.6 1821.4,211.2 1813.9,254.9 1813.9,193.2 1812.5,291.8 1813,256.1 1821.8,280.8 1819.2,198.1 1815.6,261.6 1822.2,106.3 1815.5,173.6 1822.3,305.3 1819.5,276.8 1811.6,115.2 1812.5,223.1 1816.3,96.7 1820.2,202 1818.2,202.3 1824.8,295.5 1825.3,212.9 1818,236.2 1819,301.9 1818.6,189.1 1819.8,240 1823.1,141.9 1817.4,207.3 1812.8,209.5 1815.4,225.8 1814.1,217.4 1815.7,232.5 1821.7,118.7 1821.5,257.3 1813.6,196 1821.5,183.8 1820,179 1819.5,248.5 1824.8,214.9 1813.8,274.4 1819.8,294.3 1821.2,146.8 1822.7,266.1 1824.3,244.2 1825.2,227.1 1817.3,194 1824.3,218 1817.8,153.9 1814.8,279.9 1815.1,138.9 1812.8,253.9 1820.4,175.4 1821.1,127.3 1812.8,176.5 1817.3,303.6 1816.7,296.6 1820.8,187.7 1813.8,184.5 1825,283.9 1814.7,276 1821.4,204.8 1822.1,297.6 1813.7,185.4 1813.7,187.9 1813.8,24.2 1824.1,35.3 1816.6,229.5 1819.3,216.1 1814.9,177.3 1825.4,217.4 1823.8,303.1 1817.6,244 1823.4,255.9 1815.6,183.6 1824.5,282.3 1823.8,241.3 1818.1,319.7 1815.4,249.9 1816.5,237.8 1817.2,266.1 1822.8,218.2 1824.1,268.4 1821.3,85.9 1818,200.6 1818.2,296.1 1814.2,239.3 1821.6,283.4 1819.6,235.1 1818.2,183.9 1814.3,168.8 1817.2,328.1 1823.9,206 1823.7,233.9 1822.2,267.2 1819.4,59.5 1821.6,209.6 1815.2,254.8 1817.5,251.3 1824.8,214.6 1819.4,17.3 1818.7,240.5 1822.4,200.5 1813.7,172.9 1812.8,286.4 1814.7,263.9 1815.9,200.4 1818.5,185.7 1817.2,129.2 1814.9,258.2 1822.9,222.7 1819.7,236 1815.8,121.1 1821.5,121.5 1816.3,279.8 1824.8,280.5 1814,296.2 1822.9,243.2 1823.4,233 1815.6,237.2 1813.3,235 1816.3,199.6 1822.8,215.8 1824,188.4 1819,247.7 1817.5,215.3 1822.4,253.3 1818.4,173.4 1814.4,210.3 1818.2,260.3 1817.8,246.5 1814.4,227.8 1816.2,288.4 1823.5,220.8 1816.9,218.9 1824.7,237 1812.5,225.1 1818.2,266.9 1824.4,245.5 1823.6,184.8"/><polyline class="m mg" points="1879.7,208.6 1881.2,213.8 1883.6,220.6 1880.2,227.7 1888.6,227.7 1890.1,233.3 1877.4,236.1 1884,241.6 1878.9,245.4 1889.5,245.4 1890.1,255.6 1882.1,257.4 1877.1,263.9 1885.8,272.9"/><rect class="s" x="1786.5" y="2.5" width="131" height="341"/><path class="k" d="M1786.5 49.5h-6.5M1786.5 111.5h-6.5M1786.5 172.5h-6.5M1786.5 233.5h-6.5M1786.5 294.5h-6.5M1819.5 343.5v6.5M1884.5 343.5v6.5"/><text class="t" x="1772.9" y="57.4">600</text><text class="t" x="1772.9" y="118.8">500</text><text class="t" x="1772.9" y="179.9">400</text><text class="t" x="1772.9" y="240.9">300</text><text class="t" x="1772.9" y="302.2">200</text><text class="x" style="letter-spacing:-1px" x="1817.5" y="372.5">PS</text><text class="x" style="letter-spacing:-.2px" x="1884.1" y="372.5">Curated</text><text class="x" transform="translate(1726 174.9) rotate(-90)">basal_dendrite_extent_x</text></g>
<g><rect class="b" x="2034.1" y="189.6" width="52" height="65.1" fill="#db8cb3"/><path class="b" fill="none" d="M2034.1 225.3H2086.1M2060.1 189.6V18M2060.1 254.6V327.7M2047.1 18H2073.1M2047.1 327.7H2073.1"/><rect class="b" x="2099.1" y="194.8" width="52" height="38.7" fill="#77e2a4"/><path class="b" fill="none" d="M2099.1 218.6H2151.1M2125.1 194.8V102.8M2125.1 233.5V250.7M2112.1 102.8H2138.1M2112.1 250.7H2138.1"/><polyline class="m mp" points="2062.4,196.9 2058.3,296.4 2053.6,122.5 2065.4,266.1 2062.7,244.6 2065.4,266.4 2054.8,183.5 2063.1,280.4 2062.1,296.2 2061.4,206.3 2058.5,252.6 2065.9,129.8 2054.8,301.5 2062.7,276.3 2058.4,155.5 2064.5,285.7 2061.9,204.1 2062.1,235.9 2064.7,85.9 2055.3,116.8 2058.8,17.3 2062.6,289.6 2055.1,277 2064.9,230.4 2057.9,184.6 2055.2,273.8 2062,259.7 2065.6,191.7 2055.4,240 2056.4,54.3 2065.6,227.2 2063,217.9 2055.7,221.7 2058.7,248.5 2066.3,206.7 2060,139.2 2057.9,135.3 2054.5,151.5 2054.1,243.6 2066.5,220.5 2060.2,247.6 2065.4,206.9 2054.5,149.8 2065,181.7 2056.6,230.7 2059.5,134.7 2062,193.1 2066.4,222.6 2063.8,29.2 2054.1,253.7 2065.8,161.4 2059.7,206.7 2056.6,232.8 2060.7,215.9 2054.1,125.1 2056.5,229.1 2056.4,197.2 2064.8,300.8 2055.1,264.4 2055.1,238.1 2065.2,208.7 2063.8,214.5 2065.3,66.9 2059,244 2066,244.6 2064.7,225.5 2060,232.6 2063.2,286.2 2065.7,303 2066.5,136.1 2058.5,234.7 2059.3,287.3 2059.4,223.6 2058.7,235.7 2055,208.2 2059.6,208.5 2066,155.3 2060.2,286.9 2054,249.1 2055.6,197.8 2062.1,254.5 2063.9,242.5 2065.7,180.6 2065.8,248.9 2060.2,185.8 2057.7,245.3 2058.5,254.1 2063.9,206.1 2061.7,289.7 2057.7,179.6 2054.5,27.3 2065.1,304.8 2063.8,189.8 2054.5,307.6 2056.9,170.4 2056.5,245 2065.3,118.8 2062.8,165 2057.2,171.6 2059.1,205 2058.1,229.4 2064.6,120.5 2066,229.7 2064.2,106.9 2061.4,236.7 2064,184.8 2058.7,290.8 2054.2,220.5 2062.5,183.1 2062.6,251.3 2057.6,135 2062,142.9 2058.1,146.7 2063.9,247.9 2055.5,252.4 2055.4,157.5 2062.7,245.6 2055.6,186.9 2060.5,241.7 2063.4,284.8 2059.4,250.6 2055.8,156.2 2058.6,144.1 2064,255.1 2056.4,247.8 2055.8,191.7 2053.7,189.1 2059.3,264.6 2064.7,306.7 2060.3,230 2061.6,237.9 2058,193.1 2057.7,242.5 2063.1,220.3 2055.2,199.3 2059,204.5 2065.5,201.4 2056.6,271.6 2057.3,173.9 2061.4,285.7 2066.6,182.1 2054.4,270.5 2066.4,289.1 2060.1,316 2056.4,177.8 2065.9,260.5 2063.1,273.3 2062.3,116.5 2065.1,253.2 2052.6,100 2058.9,213.2 2057.6,214 2061.1,259.5 2060.3,210 2066.7,199.3 2061.5,201 2056.5,137.3 2062.1,195.1 2058.2,248.9 2058.3,216.4 2055.9,293.4 2058,231 2057.9,210.1 2060.8,197.9 2055,154.1 2064.1,203.5 2054.6,270.8 2057.6,163.3 2055.2,221.5 2062.8,195.2 2059.6,161.4 2059.8,156.1 2058,214.6 2058.8,160.3 2058.2,161 2061.7,246.2 2063,170.3 2061.3,240.5 2056,71.9 2062.1,219.5 2058,217.4 2064,179.4 2064.5,193.5 2066.7,275.2 2054.4,244.6 2065.3,183.9 2064.5,286.7 2063.9,203.6 2062.6,276.3 2066,198.4 2066.7,181.7 2056.9,327.5 2065.7,271.1 2066.7,257 2064.6,251.3 2066.6,213.5 2065.1,281.5 2054.7,249.4 2064.2,291 2061.1,233.2 2058.2,187.1 2061.8,239.1 2055.1,251.8 2059.4,190.7 2064.6,153.7 2058.8,167 2060.7,210.2 2054,188.6 2055.7,216.7 2053.6,188 2057.1,258.5 2059.5,211.4 2061.3,176.4 2054.5,263 2056,270.5 2065.6,261.2 2056.7,244.7 2058.4,220.9 2056.7,261 2057.9,190.4 2063.7,250.8 2055.6,173.5 2064.2,237.1 2062.7,249.2 2066,260 2054.8,244.8 2054.1,270.1 2060.1,209.9 2061.7,284.2 2055.7,268.8"/><polyline class="m mg" points="2122.8,102 2123,173.8 2121.5,183.6 2127.1,194.2 2122.8,196.1 2124.3,208.6 2120.6,214.7 2129.9,221.7 2122.8,224.3 2129.5,233.6 2119.3,234.2 2117.8,250.4"/><rect class="s" x="2027.5" y="2.5" width="130" height="341"/><path class="k" d="M2027.5 17.5h-6.5M2027.5 70.5h-6.5M2027.5 124.5h-6.5M2027.5 177.5h-6.5M2027.5 231.5h-6.5M2027.5 285.5h-6.5M2027.5 338.5h-6.5M2060.5 343.5v6.5M2125.5 343.5v6.5"/><text class="t" x="2014.3" y="24.7">7000</text><text class="t" x="2014.3" y="78.4">6000</text><text class="t" x="2014.3" y="131.9">5000</text><text class="t" x="2014.3" y="185.5">4000</text><text class="t" x="2014.3" y="239.2">3000</text><text class="t" x="2014.3" y="292.7">2000</text><text class="t" x="2014.3" y="346.3">1000</text><text class="x" style="letter-spacing:-1px" x="2058.6" y="372.5">PS</text><text class="x" style="letter-spacing:-.2px" x="2124.5" y="372.5">Curated</text><text class="x" transform="translate(1955.7 174.9) rotate(-90)">basal_dendrite_total_length</text></g>
<g><rect class="b" x="103.3" y="491.5" width="52.5" height="120.8" fill="#db8cb3"/><path class="b" fill="none" d="M103.3 552.5H155.8M129.5 491.5V445M129.5 612.3V754.7M116.4 445H142.7M116.4 754.7H142.7"/><rect class="b" x="168.9" y="606.9" width="52.5" height="92" fill="#77e2a4"/><path class="b" fill="none" d="M168.9 638.5H221.4M195.2 606.9V484.6M195.2 698.9V721.2M182 484.6H208.3M182 721.2H208.3"/><polyline class="m mp" points="135.1,531.2 129.9,572.4 135.4,519.1 132,576.3 129.9,551.6 126.4,445 130.8,711.9 126.5,470.9 129.4,558.7 130.8,445 125.6,494 123.5,649.6 133.1,542.2 134.6,485.7 135.6,669.1 126.5,542.4 135.3,578.7 131,627.5 132.7,627.3 131.6,520.8 129.8,691.5 124.9,579.3 123.6,445 133,445 132.3,562.6 124.6,587.5 124,499.4 123.5,518.3 126.1,499.1 128.3,445 133.2,523.7 133.7,448.7 133.6,637.1 125.2,653.4 127.8,445 124.8,600.7 128.4,621.2 123.9,451.7 124.6,477.4 134.1,577.6 136.1,445 131,515.2 135,507.7 134.4,642.7 132.9,632.8 132.1,528.8 131.4,603.4 126.1,520.2 135.8,501.9 125.9,459.8 129.4,518.4 134.7,521.2 127.8,706.9 129.8,445 123.2,586.4 132,502.5 134.5,564.6 131.4,588.1 127.3,563.2 126.7,485.8 127,505.6 124.6,576.3 133.6,664.7 133.8,554.9 134.8,623.9 132.8,541.6 134,679.7 133.3,578 135.2,687 127.1,636.5 135.6,639.1 134.1,649.9 133.4,445 136.1,598.9 133.3,495 134.4,569.1 134.4,655 132.2,572.9 127.7,646.2 130,574.8 135.3,495.1 126.7,474.6 128.1,540.1 130.3,475 128.2,556.8 132.6,532.6 129.8,582.2 126.4,466.7 128.8,445 123.6,477.3 128.1,452 125.8,498.6 131.2,715.9 124.5,449.2 123.2,525.3 126.7,519 125.6,454.8 126.1,492.3 127.3,510 124.5,522.8 123.4,487.1 132.4,503.1 133.7,570.4 125.7,467.4 126.7,563.4 127.8,593.5 130.4,528.6 123.2,484.3 131.6,535 123.4,504 128.4,566.6 135,514.7 124.8,716.2 133.9,475.1 133.6,479.9 134.1,554.7 131.1,563.7 126.5,448 125.7,638.2 134.1,668.7 123.7,600.5 128.1,494.8 124.6,513.5 129.3,687 129.9,592.4 128.7,553.1 125.9,613.9 135.7,655.4 125.8,463.9 134.6,542.3 129.2,559.4 123.5,572.4 125.5,492.7 126.4,480.8 131,533.9 128.6,576.3 134,529.3 128.6,574.3 134.2,642.4 130.1,445 126.8,600 132.9,450.9 134.1,589.8 129.5,469.7 131.1,457.8 125.4,645.5 126.9,688.1 126.2,587.5 125.4,466.1 124.7,445 127.5,493.2 128.6,664.1 134.6,473.2 135.8,450.6 130.5,447.7 135.8,456.6 135,452 133.1,535 126.8,619.2 129.4,611.7 126.8,527.5 134.7,475 131.5,488.9 124.9,652.5 134.4,554.1 125.3,592.3 126.8,445 128.9,615.3 128.7,585.5 127.6,702.9 123.9,712.8 125.4,631.2 125.1,512.3 123.7,587.3 124.3,674.2 132.1,587.3 134.4,649.9 126.9,503.7 132.6,652.6 128,624.4 132.5,445 129.5,503.7 131.3,570.3 125.7,445 129.3,557.9 132.5,574 130.3,632.1 133.4,660.4 132.6,447.5 129.3,481.8 125.9,562.4 134.8,473.9 128.2,546 132.4,534.1 132.1,651.3 131.1,580.5 129.8,573.5 124.8,631.3 130.1,716.5 131.2,469.9 128.5,559.7 131,454.6 125.9,557.7 123,701.8 123.8,624.5 133.5,562.1 125.3,498.6 126.7,466.6 128.2,467.2 134.4,522 128.5,492.6 129.8,461.6 133.5,485 133.4,445 135.9,611.9 128,724.4 127.8,457.8 134.1,602.4 124.7,647.4 128,640.5 127.1,547.2 126.9,670.4 131.1,501.6 136,647.4 130.4,673.2 130.1,673 123,460.9 134.8,488.1 132.7,503.5 122.1,754.1 125.2,632.3 130.8,629.4"/><polyline class="m mg" points="192,483.7 188.9,506 191.6,532.6 188.3,601.7 188.3,607.3 188.9,621.8 193.9,626.8 190.2,632.9 188.9,642.6 193.5,648.7 189.8,664.5 200.9,696.5 196.8,704.5 188.9,710.8 197.2,720.9"/><rect class="s" x="96.5" y="428.5" width="132" height="342"/><path class="k" d="M96.5 445.5h-6.5M96.5 513.5h-6.5M96.5 583.5h-6.5M96.5 652.5h-6.5M96.5 721.5h-6.5M129.5 770.5v6.5M195.5 770.5v6.5"/><text class="t" x="83.4" y="452.6">1.0</text><text class="t" x="83.4" y="521.6">0.8</text><text class="t" x="83.4" y="590.7">0.6</text><text class="t" x="83.4" y="659.9">0.4</text><text class="t" x="83.4" y="728.8">0.2</text><text class="x" style="letter-spacing:-1px" x="128" y="799.4">PS</text><text class="x" style="letter-spacing:-.2px" x="194.6" y="799.4">Curated</text><text class="x" transform="translate(42.3 602) rotate(-90)">axon_frac_intersect_basal_dendrite</text></g>
<g><rect class="b" x="344.6" y="666.8" width="52.5" height="17.7" fill="#db8cb3"/><path class="b" fill="none" d="M344.6 674.8H397.1M370.9 666.8V445M370.9 684.4V754.7M357.8 445H384M357.8 754.7H384"/><rect class="b" x="410.3" y="643" width="52.5" height="28.1" fill="#77e2a4"/><path class="b" fill="none" d="M410.3 654.7H462.8M436.5 643V634.8M436.5 671.1V741.5M423.4 634.8H449.7M423.4 741.5H449.7"/><polyline class="m mp" points="365.9,681.2 364.9,673 364.9,695.9 371,712.6 368.9,671.6 373.4,700.2 364.9,674.5 372.6,655.2 372.1,671.6 373,681.9 376.1,620.3 365.7,624.9 375.9,603.6 377.1,683.3 374.1,681 370.3,532 371.6,716 376.5,680.3 368.6,706.7 373.2,674 366.9,693.4 367.8,679.4 373.7,668.8 372.5,687 376.2,653.3 373.9,669.5 370.8,701.9 368.8,624.3 366.8,541.7 365.7,688.8 374.4,652.8 370.2,655.3 376,667.2 376.8,669.4 367.2,628.3 364.5,677.6 370.6,672.3 367.1,677.1 369.8,658.1 366.7,672.9 370.4,656.3 372.5,666.9 374.1,676.4 374.5,648.4 366.2,664.1 373.9,664.5 375.2,634.1 366.9,711.8 369.3,667.9 368.3,670.9 376.7,678 367.3,677.8 364.8,708.9 372.2,711.5 368.5,586.9 364.9,700.1 369.9,706.7 368.6,689.8 367.5,443.7 369.6,673.3 376.7,682.8 373.9,676.7 373.6,694.5 376.9,631.7 368.6,670.3 364,754.1 369.9,668.1 369.9,675.3 366.2,679.1 366.5,670.7 373.2,657.9 375.6,681 367,667.8 372.8,680.7 365.1,706.5 368.9,651 376,679.9 377.2,669 376.9,693.7 375.9,697.1 364.5,674 373.3,713.2 371.6,692.1 376.2,651.3 365.4,651.7 373.5,682.5 366.5,675 374,708.6 373.4,677 374.6,717.2 367.8,671.4 369.8,683.6 368.8,709.3 374.7,622.4 369.6,667.6 368,668.9 364.9,685.2 373.6,679.3 372.6,709.4 364.7,706.9 376.3,679.3 369.4,461.4 369.5,669.3 371.2,674.1 368.9,691.1 376.5,527.4 374,672.6 370,675 371.6,718.6 369.6,721.7 366.2,651.3 370.9,676.3 372.6,696.9 365.3,692.4 376.1,704.7 371.6,672.3 369.3,693.1 369.6,692 367.4,668.4 369.2,704.5 377.4,717.5 373.1,676.5 375.4,668.4 372.1,683.1 366.7,674.3 365.8,669.1 370,682.9 365.2,707.1 364.9,668 370.3,681.3 374.1,709.2 372.1,637.3 373.6,682.9 377.3,700.8 368.4,676.2 366.4,684 366.6,689 373.7,733.3 375,545.4 364.4,593 376.2,695.2 371.2,668.7 366.5,688.5 367.7,514.7 372.6,708 370.3,655.3 367.4,676.6 372.6,667 370.9,647.5 370.9,607.7 367.9,698.8 374.8,672.3 371.7,682.1 375.8,686.9 374.9,687.3 368,681.4 368.1,718.3 376.3,659.8 369.2,705.3 372.7,575.1 375.5,667.8 374,674.9 373.8,667.5 377.3,672.4 364.9,638 374.6,673.2 373.3,670.9 376.1,465.1 364.6,691.6 370.3,679.4 367,679.6 372.7,684.7 367.8,668.5 377.3,670.1 369.7,669.3 374.4,681.8 368.4,680.1 370.2,677.6 376.5,696.9 366.4,647.4 373.6,628.5 368,686.1 369.5,722.6 374.4,668.1 376,680.9 375,667.9 369.9,677.8 370.5,571.4 369.8,683.4 375.2,651 374.3,676.6 366.3,667.1 370,676.7 367,692.4 370.4,714.7 373,713.9 366.2,674.4 367.6,650.9 375.6,683.9 370.7,667.2 367.6,672.1 373.1,672.5 371.9,717 364.8,625 370.9,669.2 374.9,668.7 371.4,653.6 376.3,657.3 372.1,682.2 369.1,668.2 366,675.2 368,685 377.4,704.5 372.2,679.9 370,614.7 374,680.2 371.9,674.6 376.7,673.2 374.1,675.7 364.9,678.4 373.3,679.5 372.6,677.9 365.3,725.7"/><polyline class="m mg" points="430.8,633.3 442.3,634.8 433.9,638 429.3,643.5 443.2,641.7 438.2,647.6 430.2,651.9 441.4,657.5 436.3,664.5 433,669.6 429.7,672.4 433,704.3 436.2,734.6 440.1,741.1"/><rect class="s" x="338.5" y="428.5" width="131" height="342"/><path class="k" d="M338.5 447.5h-6.5M338.5 523.5h-6.5M338.5 599.5h-6.5M338.5 673.5h-6.5M338.5 749.5h-6.5M370.5 770.5v6.5M436.5 770.5v6.5"/><text class="t" x="324.8" y="455">3000</text><text class="t" x="324.8" y="530.9">2000</text><text class="t" x="324.8" y="606.9">1000</text><text class="t" x="324.8" y="681.3">0</text><text class="t" x="324.8" y="756.7">−1000</text><text class="x" style="letter-spacing:-1px" x="369.4" y="799.4">PS</text><text class="x" style="letter-spacing:-.2px" x="435.9" y="799.4">Curated</text><text class="x" transform="translate(250.9 602) rotate(-90)">axon_depth_pc_1</text></g>
<g><rect class="b" x="586" y="579.4" width="52.5" height="94.2" fill="#db8cb3"/><path class="b" fill="none" d="M586 636.5H638.5M612.2 579.4V445M612.2 673.7V754.7M599.1 445H625.4M599.1 754.7H625.4"/><rect class="b" x="651.6" y="636.5" width="52.5" height="62.6" fill="#77e2a4"/><path class="b" fill="none" d="M651.6 680.2H704.2M677.9 636.5V573.8M677.9 699.1V728.1M664.8 573.8H691M664.8 728.1H691"/><polyline class="m mp" points="606.1,648.8 618.3,710.5 616.8,645.3 607,703.2 606.2,595.5 618.5,519.3 614,672 606.7,698.8 609.5,669.8 606.1,563 611.6,649.3 610.5,585.7 612.2,595.5 616.7,651.4 605.8,542.3 608.5,723 614.4,609.7 608.6,682 608.5,684.2 616.3,665.9 607.8,675.1 606.4,683.6 616.4,516.1 614.1,541.2 608,581.5 615.3,708.6 612.6,536 609.4,586 616.9,679.3 614.1,667.8 611.1,507.7 614.7,669.3 611.5,666.1 605.8,564.6 617.7,681.1 609.5,653.1 606.3,618.6 617.2,529.2 610.5,659 607.4,516.4 616.4,584 606.9,574.9 615.8,699.4 609.8,564.4 611,565.7 609.5,596.8 610.3,626.3 607.8,666.2 611.9,580.2 615.7,572.6 607.5,548.9 614.4,575.7 615,638 618.5,584 607.5,715.7 609.8,703 613.5,718.9 614.5,518.9 606.4,533.8 612.8,537.3 612.4,644.7 609.4,693.8 608.4,587.4 610.9,658.6 607.4,650.6 612.1,673.7 609.1,613.2 606.3,623 607.4,675.6 616.2,615.3 606.1,545.6 609.2,654.5 609.7,633.6 618.3,557.2 615.2,712.4 615.1,671.5 612.2,552.6 618.4,662.2 606.5,576.9 606.1,645.2 608.5,526 611,648.9 608.7,617 614.1,496.7 616.6,573.2 616.2,626.9 614.5,754.5 618.7,685.8 615.8,646.3 608.1,545.5 610,443.7 609.7,637.9 614.8,546.8 614.6,648.5 612.7,671.4 607.4,567 610.1,528.6 615.9,687.4 609.3,716.1 613.5,627.2 616.9,454.9 617.9,605.5 618.8,710.4 615.4,679.6 608.8,671.9 610.5,690.1 616.4,551.4 615.6,684.2 616.6,588 611.4,653.1 616.5,644 615.6,604.1 618,679.2 609.5,595.8 607.3,605.8 609.2,514.1 617.9,568.7 613.7,546.8 613,613.4 612.6,680.2 615.9,709.5 613.3,683.4 618.6,697 607.7,620.4 606.1,555.7 618.4,709.8 609.8,591.6 609.9,542.1 614.6,658.3 605.7,625 612.9,633.7 610.6,714.7 610.3,596.7 616.9,660.1 611.9,640 618.2,586.6 606.4,556.8 607.9,643.1 604.3,491.5 607.6,623.5 612.5,663.6 616.7,567.7 617.2,620.4 609.7,667.8 611.9,712.4 610,599.9 608.7,541.7 616.3,653.7 613,642.9 608.3,501 614.5,737.8 615.9,514.5 611.9,610.6 611,661.4 615.7,687.4 607.2,596 615,673.7 612.1,504.5 612.3,659.4 612.9,623 605.9,651.7 605.8,611.2 611.6,587.4 611.6,709.6 605.9,702 613.5,569.2 615,639.4 618.1,672.9 615.4,618.1 615.5,568.8 614.5,467.9 608.5,715.1 618.4,621.2 606.6,600.5 616.3,678.8 609.5,689.6 610.7,591.5 609.6,639.2 606.2,572.3 613.7,620.5 612.5,500.6 616.7,663.4 617.5,663.7 616.2,603.5 609.5,647.2 610.9,692.7 606.7,743.9 607.5,573.9 609,636.9 611.7,691.4 611.2,582 612,670.6 611.8,518.4 610.1,703.6 610.7,535.4 609,689.7 616,513.5 614.2,679.7 606.6,659.4 606.1,683.5 611.6,535 615,746.7 615.3,651.8 608.5,671 609.6,514.4 612.5,703.1 616.7,618.9 611.8,623 613.4,617.4 608.4,722.4 611.7,649.2 610,571.2 612.8,575.1 609.4,608.6 613.2,729.6 616.8,504.9 610.9,628.9 607.8,696.8 612.1,674.4 613.3,649.2 611.2,630.9 611.3,574.4 613.2,681.8 614.4,711.2 609.7,707.3 617.9,604.7 611.5,697.7 611.9,656.4 617,673.9 616.9,566.1 616.3,665.1 612.7,599.9 606.2,554.2 614.8,502.9 615.5,503.7 608.6,576.7 609.9,593.4 607.7,672.2"/><polyline class="m mg" points="681.8,572.5 680.9,591.5 676.2,610.1 673.4,609.2 673.4,644.5 671.9,648.7 673.8,669.6 679,677.6 674.4,683.1 680.5,685.9 676.2,696.5 671,698 677.2,700.2 675.7,708.6 679,727.7"/><rect class="s" x="579.5" y="428.5" width="131" height="342"/><path class="k" d="M579.5 494.5h-6.5M579.5 560.5h-6.5M579.5 627.5h-6.5M579.5 692.5h-6.5M579.5 758.5h-6.5M612.5 770.5v6.5M677.5 770.5v6.5"/><text class="t" x="566.1" y="501.7">500</text><text class="t" x="566.1" y="568.1">400</text><text class="t" x="566.1" y="634.8">300</text><text class="t" x="566.1" y="700">200</text><text class="t" x="566.1" y="766">100</text><text class="x" style="letter-spacing:-1px" x="610.7" y="799.4">PS</text><text class="x" style="letter-spacing:-.2px" x="677.3" y="799.4">Curated</text><text class="x" transform="translate(519.2 602) rotate(-90)">basal_dendrite_extent_y</text></g>
<g><rect class="b" x="827.3" y="592.1" width="52.5" height="89.6" fill="#db8cb3"/><path class="b" fill="none" d="M827.3 643H879.9M853.6 592.1V445M853.6 681.6V754.7M840.5 445H866.7M840.5 754.7H866.7"/><rect class="b" x="893" y="670.5" width="52.5" height="34" fill="#77e2a4"/><path class="b" fill="none" d="M893 693.4H945.5M919.3 670.5V641.7M919.3 704.5V720.3M906.1 641.7H932.4M906.1 720.3H932.4"/><polyline class="m mp" points="858.7,598.9 855,626.9 855.9,653.5 852.6,681.4 845.8,505.6 858.5,541.8 847.6,653.3 853.9,681.1 848.1,625.3 851.4,678.4 851.7,662 859.5,652.1 859.8,632.4 851.1,617.2 849.4,541 854.4,621.8 856.9,595.8 849.2,564.3 850.6,695.5 858.6,725.1 859.4,583.3 851,601.3 850.3,672.7 847.8,552.3 849.9,584.5 853,539.7 853.8,607.5 850.4,701.7 853.3,547.4 853.5,554.6 849.9,531.1 850.3,601.8 852,676.9 847.9,644.4 859.7,543.9 857.4,592 854,543.2 853,519 848.6,688.5 854.7,614.6 850.8,692.5 848.2,630.4 859.5,690.1 848.5,574.5 854.5,577.6 854,608.2 851,642.7 859.6,597.2 855.4,551.4 853.7,568.5 851.5,702.4 852.8,567.1 850,592.7 849.9,599 849.2,564.2 852.6,685.8 856.2,723.3 854.9,663.4 851.7,721.1 859.9,658.9 852.9,539.4 851.2,663.1 859.6,624.9 859.6,710.2 854.2,540.2 859.2,619.2 859.9,586.8 858.3,577.1 854.3,658.9 855.4,682.9 858.4,701.5 848.4,580.1 854,552.9 858.5,586 859.8,677 859.3,682.4 856.6,574.7 850.8,570.8 848.7,601.9 854.5,479 852.6,617.4 855.3,575 856.9,708.6 858.8,585.1 856.5,611.6 860,681.5 855.1,712.5 855.9,686.5 847.4,708.9 852.2,722.1 857.5,662.3 854.5,603.3 849.6,658.4 849.7,726.4 851.2,705.2 850.9,599.9 859.8,566.9 853,647.3 850.8,675.2 847.4,658.9 856,612.5 852.5,694.7 858.8,613.3 858.3,532 852.4,706.2 847.6,540.1 857.3,647.4 856.4,450.6 854.5,754.5 851.3,709.1 848.1,553.4 855.1,662.4 858.9,606.7 847.5,663 852.8,696.3 848.1,605.6 846.2,749.1 855,690.4 859.5,695.8 853.6,626.4 850.3,625.7 847.2,680.9 851.3,691.5 847.8,654.5 850.2,703.3 851.2,660.6 852,632.4 857.2,684.3 854.6,592 848.2,590.5 858.8,594.3 859.5,658.4 856.5,686 848.6,663.4 860.1,669.9 856.4,514.7 847.7,673 859.3,689.9 857.7,495.8 858.8,725.3 850.1,590.4 853.8,601 854.7,680.7 855,604 848.8,706.7 852.6,699.8 858,550.9 847.7,443.7 848.4,634.2 859,688.7 853.3,553 856.6,699.4 859.7,663.4 858,718.2 848.1,665.5 852.7,550.1 854.6,623.6 849.3,688.1 859.7,674.1 858.4,716.7 851.5,649.4 854.6,660.5 856.4,473.5 856.6,564.4 848.5,697.1 853.5,629.1 859,568.2 859.1,656.6 847.7,479.6 848.7,603.6 859.3,599.8 853.8,578.8 854.1,700.8 851,623.2 846.2,463.6 850.9,640.3 855.5,718.2 858.1,676.2 858.4,674.9 859.1,702.2 854.2,674.1 847.5,588.7 853.9,652.7 851.9,582.2 855.4,698.9 851.3,670.6 853.8,663.5 853.4,643.4 854.1,557.6 858,707.7 854.7,690 847.3,690.1 851.8,669.8 859.2,586.4 854.8,691.1 849.6,715 857.2,602.4 860,683.6 849,579 853.7,674.2 850.4,680.4 853.1,596.4 852.7,669.4 852,624.7 859.5,679.1 850.3,619.9 849.7,718.9 849.1,691.6 858.1,718.1 857.1,682.7 856.8,633.7 847.2,676.6 850,652.2 849.9,486.9 847.7,642.6 854.2,595.6 856.7,592 854.9,605.1 848.8,588.3 850.6,605.6 847.2,578.7 854.5,573.6 859.8,641.8 848.9,550.9 853.5,669.5 850.2,573.2 855.4,570.2 848.3,612.8 858.5,600.2 857.6,680.1 858.3,592.7 848.8,593.1 854.5,675.3 850.2,539.9 852.8,688 847.7,675.2 852.5,632.4 859.4,541.6 855.9,538.5"/><polyline class="m mg" points="923.7,641.3 919.1,650.6 912,665.3 925,664.9 919.8,672.4 914.8,684.4 924.1,684.4 916.7,691.9 913.5,697.1 919.4,698.4 924.1,706.2 914.8,709.5 924.1,715.7 912.9,719.8"/><rect class="s" x="820.5" y="428.5" width="132" height="342"/><path class="k" d="M820.5 455.5h-6.5M820.5 494.5h-6.5M820.5 533.5h-6.5M820.5 572.5h-6.5M820.5 611.5h-6.5M820.5 649.5h-6.5M820.5 689.5h-6.5M820.5 727.5h-6.5M820.5 766.5h-6.5M853.5 770.5v6.5M919.5 770.5v6.5"/><text class="t" x="807.5" y="463">550</text><text class="t" x="807.5" y="501.9">500</text><text class="t" x="807.5" y="541.5">450</text><text class="t" x="807.5" y="580.1">400</text><text class="t" x="807.5" y="618.6">350</text><text class="t" x="807.5" y="657.1">300</text><text class="t" x="807.5" y="697.1">250</text><text class="t" x="807.5" y="735.3">200</text><text class="t" x="807.5" y="774.4">150</text><text class="x" style="letter-spacing:-1px" x="852.1" y="799.4">PS</text><text class="x" style="letter-spacing:-.2px" x="918.7" y="799.4">Curated</text><text class="x" transform="translate(760.5 602) rotate(-90)">basal_dendrite_max_path_distance</text></g>
<g><path class="b" d="M1068.7 754.7H1121.2"/><path class="b" fill="none" d="M1068.7 754.7H1121.2M1095 754.7V445M1081.8 445H1108.1M1081.8 754.7H1108.1"/><path class="b" d="M1134.4 754.7H1186.9"/><path class="b" fill="none" d="M1134.4 754.7H1186.9M1147.5 754.7H1173.7M1147.5 754.7H1173.7"/><polyline class="m mp" points="1098.1,754.7 1095.9,754.7 1100,754.7 1091.4,754.7 1089.6,754.7 1100.7,754.7 1096.5,666.4 1088.4,754.7 1096.2,754.7 1090.1,754.7 1099.8,754.7 1089.1,754.7 1091.8,657.5 1091.2,754.7 1089.5,754.7 1100.1,754.7 1099.8,754.7 1095,754.7 1092.5,444.1 1101.2,754.7 1098.1,754.7 1092.7,754.7 1092,754.7 1094.3,754.7 1093.8,754.7 1089.9,754.7 1101.4,754.7 1099.1,754.7 1095.9,754.7 1089.2,754.7 1094.3,754.7 1094.9,754.7 1090.7,754.7 1094.2,754.7 1091.5,754.7 1092.5,754.7 1094.1,754.7 1099.1,754.7 1090.9,754.7 1089.6,754.7 1090.4,754.7 1099.4,754.7 1100,754.7 1093,754.7 1094.1,754.7 1090.7,754.7 1091.2,751.3 1099.3,754.7 1099.2,754.7 1094.2,754.7 1097.8,754.7 1090.4,754.7 1091.8,754.7 1094,754.7 1094.3,754.7 1089.3,754.7 1096,754.7 1098.9,754.7 1101.3,754.7 1088.4,754.7 1089.3,754.7 1090.4,754.7 1093.1,754.7 1100.1,754.7 1095.5,754.7 1095,754.7 1096.3,754.7 1100.1,754.7 1099.8,754.7 1088.7,754.7 1090.3,754.7 1088.6,754.7 1094.6,754.7 1093.4,754.7 1099.4,754.7 1099.5,754.7 1097.8,754.7 1093.4,754.7 1091.7,754.7 1092.9,754.7 1099.5,754.7 1089,754.7 1090.8,754.7 1098.1,754.7 1092.1,754.7 1092.6,754.7 1093.6,754.7 1090.2,754.7 1093.2,754.7 1096.5,754.7 1095.1,754.7 1096.8,749.5 1095.3,754.7 1099.4,754.7 1089.8,754.7 1098.4,754.7 1098.2,754.7 1098.5,754.7 1098.6,754.7 1097.8,754.7 1097.4,754.7 1094.8,754.7 1090.6,754.7 1092.4,754.7 1097.7,754.7 1094.2,754.7 1088.8,754.7 1095.4,754.7 1092.3,754.7 1088.6,754.7 1097.2,754.7 1098.7,752.3 1095.2,754.7 1092.3,754.7 1101.3,754.7 1100,754.7 1098.5,754.7 1095,746.7 1093.3,754.7 1096.2,754.7 1093.6,754.7 1091.9,754.7 1097.4,754.7 1096.6,754.7 1094.8,754.7 1101.3,754.7 1089.1,754.7 1099.3,754.7 1088.9,754.7 1090.8,754.7 1096.7,754.7 1094.7,754.7 1096.7,754.7 1093.6,754.7 1100,754.7 1094.2,754.7 1094.8,754.7 1090.4,754.7 1099.6,754.7 1098.5,754.7 1091.2,754.7 1092.9,754.7 1090.9,754.7 1091.7,754.7 1101.1,754.7 1094.3,754.7 1089.2,754.7 1090.1,754.7 1093.3,754.7 1092.3,754.7 1097.8,754.7 1091.6,754.7 1092.6,754.7 1089.6,754.7 1095.5,754.7 1100.4,754.7 1088.9,754.7 1088.8,754.7 1092.3,754.7 1091,754.7 1093.8,754.7 1090.3,754.7 1094.7,754.7 1101,754.7 1091.2,754.7 1095.2,754.7 1092.6,754.7 1090.1,754.7 1091.8,754.7 1094.2,754.7 1091,754.7 1090,754.7 1095,739.3 1090,754.7 1090.6,754.7 1092,754.7 1090.8,754.7 1094.2,754.7 1096.2,754.7 1095.9,754.7 1099.7,754.7 1093.3,754.7 1091.6,754.7 1087,731.5 1096.2,754.7 1090.2,754.7 1088.5,754.7 1100.9,754.7 1092.2,754.7 1098.7,754.7 1099.3,754.7 1092.5,754.7 1092.6,754.7 1093.2,754.7 1099.3,754.7 1100.8,754.7 1101.1,754.7 1093.8,754.7 1092.8,754.7 1096.9,754.7 1090.4,754.7 1098.5,754.7 1091.6,754.7 1089.4,754.7 1098.9,754.7 1092.5,754.7 1088.1,740.2 1095.4,754.7 1089.6,754.7 1096.7,754.7 1095.4,754.7 1093.4,754.7 1092.5,754.7 1098.8,754.7 1090.7,754.7 1094.5,754.7 1090.5,754.7 1089.4,754.7 1092.7,754.7 1089.7,754.7"/><polyline class="m mg" points="1151.5,754.7 1153.7,754.7 1156.2,754.7 1158.9,754.7 1160.8,754.7 1162.7,754.7 1164.5,754.7 1166.4,754.7 1157.1,754.7 1159.9,754.7 1163.6,754.7 1165.4,754.7 1154.9,754.7 1161.7,754.7"/><rect class="s" x="1062.5" y="428.5" width="131" height="342"/><path class="k" d="M1062.5 483.5h-6.5M1062.5 551.5h-6.5M1062.5 619.5h-6.5M1062.5 686.5h-6.5M1062.5 754.5h-6.5M1094.5 770.5v6.5M1160.5 770.5v6.5"/><text class="t" x="1048.8" y="490.9">0.4</text><text class="t" x="1048.8" y="558.8">0.3</text><text class="t" x="1048.8" y="626.6">0.2</text><text class="t" x="1048.8" y="694.5">0.1</text><text class="t" x="1048.8" y="762.3">0.0</text><text class="x" style="letter-spacing:-1px" x="1093.5" y="799.4">PS</text><text class="x" style="letter-spacing:-.2px" x="1160" y="799.4">Curated</text><text class="x" transform="translate(1007.7 602) rotate(-90)">basal_dendrite_frac_above_axon</text></g>
<g><rect class="b" x="1310.1" y="595.2" width="52.5" height="79.7" fill="#db8cb3"/><path class="b" fill="none" d="M1310.1 641.7H1362.6M1336.3 595.2V445M1336.3 675V754.7M1323.2 445H1349.5M1323.2 754.7H1349.5"/><rect class="b" x="1375.7" y="540.4" width="52.5" height="36.1" fill="#77e2a4"/><path class="b" fill="none" d="M1375.7 557.5H1428.2M1402 540.4V507.3M1402 576.4V641.7M1388.8 507.3H1415.1M1388.8 641.7H1415.1"/><polyline class="m mp" points="1336.8,605.6 1333.5,623.7 1339.1,540.4 1332.1,607.3 1330.3,645.2 1332.4,655.1 1342,637.4 1337.3,657.5 1337.4,581.3 1341.7,650.1 1339.8,641.6 1342.3,701.5 1339.3,576.6 1335.1,570.6 1341.1,645.7 1330.3,611.1 1332.7,594.4 1331.7,576.7 1331.4,573.2 1333.7,613.2 1339.3,626.2 1342.1,627.5 1330.5,651.4 1333.8,668.6 1338.5,729.4 1333.2,628.1 1335.6,648.2 1339.5,693.7 1332.4,671.1 1340.6,687.5 1331.6,560 1330.9,702.1 1336.5,591.7 1331.5,698.9 1342,697.3 1340.1,704.8 1336.7,655.2 1332.7,625.1 1338.8,708.7 1340.9,595.2 1335.4,640.4 1330.9,680.2 1338,679.6 1338.2,574.2 1336.4,623.9 1339.6,659.6 1330.4,639.1 1331.1,582.8 1341.6,593.5 1337.4,629.9 1341.9,563.7 1341.8,686.4 1333.5,465.5 1342.5,732.9 1331.9,561.3 1334.4,642 1340.3,699 1337.6,660.5 1342.9,615 1333.1,597.7 1331.6,680.6 1342.4,609.4 1333.5,735.9 1340.1,668.6 1341.6,592.6 1341.5,692.7 1341,588.8 1339.1,523.7 1330.3,659.8 1330.3,666.1 1337.8,653.2 1342.2,702.7 1341.4,576.2 1331.9,609.4 1341.2,569.9 1333.5,546.6 1342.9,568.1 1338.2,444.1 1332.7,591.6 1338.1,620.9 1334.1,566.5 1331,615.7 1336.1,620.3 1339,721.8 1330.5,614.1 1336.1,637.9 1338.1,723.6 1333.7,548.8 1339.7,745.9 1335.8,754.7 1337.8,705.4 1340.4,498.6 1338.8,667.6 1333.3,690.6 1338.4,711.1 1332.4,671.4 1335.4,666.3 1336.4,622.6 1337,725.4 1330,607 1329.9,578.6 1336.6,575.9 1332.1,600.3 1338.3,717.1 1336.1,593.7 1341,554.9 1330.5,647.9 1341,717 1339,596.2 1340.1,687.5 1331.2,713.5 1331.9,646.3 1342.4,581.5 1330.4,532 1331.7,590.4 1341.7,540.7 1335.5,654.5 1330.1,696.9 1336.4,553 1339.1,657.2 1331.5,642.1 1340.2,544.7 1341.2,683.8 1340.9,693.5 1341.5,723.6 1332.4,561.6 1333,506.9 1335.8,647.7 1342.5,631.9 1336.3,637.8 1333.1,669 1338.3,642.4 1337.1,667.8 1330.4,680.3 1342,620.5 1333.7,621.2 1339,586 1336.7,660.1 1338.7,610.7 1337.9,641.5 1341,507.3 1330.9,666.6 1330.1,551.9 1337,600.3 1335.2,675.5 1340,650.4 1341.5,568.3 1338.7,712.3 1339.8,687.3 1337.3,698.3 1339.5,575.1 1336.9,590.2 1341.3,632.2 1341.6,671.5 1331.9,664.8 1331.7,628.4 1331.8,682.2 1335.3,652.8 1341.4,713.8 1330.2,614.6 1339,594.4 1334.9,578.7 1340,615.9 1341,624.7 1335.1,591.6 1342.4,691.4 1329.8,473.5 1342.3,663.7 1331.6,629.8 1336,565.6 1333.1,636.3 1330,603.1 1335.3,715.3 1338.5,653 1340.9,581 1330.4,705.7 1330.7,570.4 1331.8,644.9 1342.4,715.4 1341.9,742 1340.2,690 1330.1,656.6 1341,657.7 1340.4,750.4 1335.7,670.9 1329.9,745.9 1338,621 1339.8,572.2 1338.6,561 1340.4,703.6 1335.2,548.4 1338.5,644.4 1332,642.6 1339,641.2 1334.5,523.7 1331.7,710.4 1335,641.8 1332,566.7 1338.6,660.9 1338.6,452.1 1341,490.2 1336.3,630.4 1333.8,705.5 1331.1,662.7 1332.6,629.7 1342.5,617 1340.2,605.1 1334.6,621.2 1338.5,614.8 1341.5,654.3 1332.9,610.1 1336.9,577.6 1330.2,602.6 1340.2,633.6 1333.5,642.4 1332.3,571.6 1334.2,579.5 1336.9,647.2 1339.7,515.7 1342.8,560.9 1334.5,473.5 1336.7,725.9 1331,657 1337.1,648 1331.1,750.4 1337.1,702.1 1340.6,564.7 1332.3,672.9 1339.7,647.6 1336.7,629.7 1339.3,676.7 1331,664.1 1338.1,657.1 1339.3,553 1340.1,584.5 1339.1,612.1 1340,661.3 1330.7,498.6 1338.5,726.4"/><polyline class="m mg" points="1397.5,506.6 1402.2,527.7 1400.3,535.7 1395.7,540.4 1404,540.4 1395.7,553.4 1401.2,553.4 1400.3,561.8 1406.8,565.5 1396.6,574.8 1403.1,574.8 1397.5,582.2 1400.3,607.7 1397,641.1"/><rect class="s" x="1303.5" y="428.5" width="131" height="342"/><path class="k" d="M1303.5 460.5h-6.5M1303.5 503.5h-6.5M1303.5 544.5h-6.5M1303.5 586.5h-6.5M1303.5 629.5h-6.5M1303.5 671.5h-6.5M1303.5 713.5h-6.5M1303.5 754.5h-6.5M1336.5 770.5v6.5M1401.5 770.5v6.5"/><text class="t" x="1290.2" y="468.4">90</text><text class="t" x="1290.2" y="510.8">80</text><text class="t" x="1290.2" y="552.1">70</text><text class="t" x="1290.2" y="594.5">60</text><text class="t" x="1290.2" y="636.8">50</text><text class="t" x="1290.2" y="678.7">40</text><text class="t" x="1290.2" y="720.8">30</text><text class="t" x="1290.2" y="762.3">20</text><text class="x" style="letter-spacing:-1px" x="1334.8" y="799.4">PS</text><text class="x" style="letter-spacing:-.2px" x="1401.4" y="799.4">Curated</text><text class="x" transform="translate(1254.9 602) rotate(-90)">basal_dendrite_num_branches</text></g>
<g><rect class="b" x="1551.4" y="619" width="52.5" height="89.2" fill="#db8cb3"/><path class="b" fill="none" d="M1551.4 673.5H1603.9M1577.7 619V445M1577.7 708.2V754.7M1564.6 445H1590.8M1564.6 754.7H1590.8"/><rect class="b" x="1617.1" y="516.6" width="52.5" height="61.2" fill="#77e2a4"/><path class="b" fill="none" d="M1617.1 536.3H1669.6M1643.3 516.6V472.5M1643.3 577.7V708M1630.2 472.5H1656.5M1630.2 708H1656.5"/><polyline class="m mp" points="1575.3,722.8 1577.5,633.6 1577.7,689.1 1572,599.1 1580,696.3 1575.9,649.9 1582.3,704.5 1572.5,604.9 1583.1,697.4 1576.6,643.6 1571.8,575.5 1578.8,694.1 1576.7,665 1572.2,622 1574.2,632.9 1583.4,606.8 1575.4,694.1 1581.1,673.6 1572.9,728.2 1574.3,632.1 1572.4,658.8 1579.5,697 1571.6,587.3 1576.5,723.2 1573.6,695.9 1580.1,595.3 1580.7,726.3 1578,713.9 1581.7,734.7 1583.5,692.3 1572.1,734.2 1578.6,649.9 1577.4,741.2 1572.5,750.4 1573,690.2 1578.8,738.2 1571.2,751.8 1573.9,642.2 1573,699.8 1583.8,751.1 1581.2,630.5 1576.6,682.3 1582.4,742.1 1580.5,685.4 1579.6,718.9 1582,681.8 1575.2,729.3 1583.2,693 1577.1,607 1577.4,578.5 1579.1,733.8 1574.6,623.3 1576.3,698.8 1577.5,669 1583.7,626.8 1581,518.1 1580.9,656.2 1579.1,696.8 1579.9,536.8 1574.4,680.5 1579,645.3 1578.5,680.2 1575.6,712.8 1579.3,731.5 1580.8,591 1574,706.4 1571.5,632.1 1574.5,648.2 1582.4,694.5 1584.1,591.7 1581.4,595.4 1572.2,650.9 1577.4,734.8 1574.9,616.3 1574.3,464.5 1581,700 1582.2,601.8 1582,750.1 1581.7,728.1 1572.6,592.6 1578.1,700.4 1576.8,597.2 1577.1,667.7 1580.7,695.1 1584,696.4 1572.5,698.8 1578.5,634.8 1571.6,700.7 1582.9,721.8 1578.7,587.5 1577.1,620.3 1584.1,697.6 1577.7,591.7 1583.8,694.3 1575.7,725.9 1581,737.9 1578.6,749.6 1571.9,642.5 1573.8,680.7 1582.5,686.4 1578.7,623.1 1580.3,714.7 1578.1,592.2 1572,567.7 1573.3,629.2 1578.2,685.6 1573.2,724.2 1580.8,716.9 1583.3,749 1578.6,701.2 1579.1,694.3 1582.5,641.2 1579.4,684.8 1576.7,704.6 1578.8,745.4 1571.4,559.3 1573.4,633.3 1579.5,597 1573,697.2 1573.2,693.3 1579.4,730.6 1573.3,592.2 1582.9,703.9 1580.8,579.3 1583.7,746.4 1577.9,644.3 1574.2,705.3 1583.5,653.1 1575.2,669.3 1576.8,698.9 1580.7,566.2 1577.5,627.3 1572.1,563.3 1575.5,616.4 1579.1,647.1 1577.4,673.3 1578.1,646.8 1580.1,660.8 1583.6,702.7 1577,555 1583.2,742.4 1583,666.7 1582.5,728.1 1578.3,620.5 1573,709.7 1581.8,723 1577.3,653.6 1581.2,653.4 1578.9,621.2 1575.2,654.9 1582.8,674.9 1578.8,681.5 1582.7,585.1 1579.4,652.7 1574.9,511.2 1576.8,751.6 1577.6,703.2 1571.7,611.5 1572.9,730.8 1573.5,584 1572.4,687.9 1571.2,646 1583.1,702.5 1573.9,741.2 1582.7,754.1 1580.4,638.6 1582.8,591.5 1574.9,634.6 1580.8,495.2 1572.9,659.4 1583.4,665.1 1582,481.8 1575.4,579.6 1577.4,741.4 1575.9,639.9 1580.3,648.4 1575.2,696.5 1575.4,552.1 1571.5,737.4 1582.4,605.8 1575.2,674.3 1583.9,735.3 1573.1,646.5 1580.7,714 1573,739.7 1580.3,573.9 1582.4,688.1 1583.8,747.3 1583.6,622.9 1579.6,733.1 1581.7,613.2 1571.5,604 1576.5,690.5 1571.5,608.3 1573.2,569.6 1581.4,508.2 1571.5,728.4 1580.1,566.2 1577.6,751 1574.5,539.6 1579.9,731.6 1580,647.6 1580,709.4 1578.3,582.4 1573,743.4 1580.1,708.7 1575,537.4 1578.1,626.2 1579.1,544.2 1577.7,565.1 1575.1,677.3 1581,589.4 1573.6,713.9 1573.5,691.1 1574.8,576 1574.8,702.1 1576.2,741.1 1576.2,444.1 1583.3,623.7 1573.9,737.6 1574.1,732.7 1575.4,556.8 1575.5,655.9 1583.8,688.8 1581.7,746.8 1581.2,577.5 1575.2,640.5 1576.5,548.7 1576.8,589.6"/><polyline class="m mg" points="1644.5,471.6 1644.8,498.2 1646.3,508.2 1648.7,519 1647.2,521.8 1639.2,549.7 1643,554.3 1636.1,572.9 1645.4,576.1 1636.1,578.5 1641.7,631.5 1644.5,701.2 1643,708"/><rect class="s" x="1544.5" y="428.5" width="132" height="342"/><path class="k" d="M1544.5 430.5h-6.5M1544.5 471.5h-6.5M1544.5 512.5h-6.5M1544.5 553.5h-6.5M1544.5 595.5h-6.5M1544.5 636.5h-6.5M1544.5 677.5h-6.5M1544.5 719.5h-6.5M1544.5 760.5h-6.5M1577.5 770.5v6.5M1643.5 770.5v6.5"/><text class="t" x="1531.6" y="437.8">80</text><text class="t" x="1531.6" y="479">70</text><text class="t" x="1531.6" y="520.3">60</text><text class="t" x="1531.6" y="561.6">50</text><text class="t" x="1531.6" y="602.8">40</text><text class="t" x="1531.6" y="644.1">30</text><text class="t" x="1531.6" y="685.3">20</text><text class="t" x="1531.6" y="726.6">10</text><text class="t" x="1531.6" y="767.9">0</text><text class="x" style="letter-spacing:-1px" x="1576.2" y="799.4">PS</text><text class="x" style="letter-spacing:-.2px" x="1642.7" y="799.4">Curated</text><text class="x" transform="translate(1496.3 602) rotate(-90)">axon_emd_with_basal_dendrite</text></g>
<g><rect class="b" x="1792.8" y="624.4" width="52.5" height="82.3" fill="#db8cb3"/><path class="b" fill="none" d="M1792.8 668.3H1845.3M1819 624.4V445M1819 706.7V754.7M1805.9 445H1832.2M1805.9 754.7H1832.2"/><rect class="b" x="1858.4" y="629.6" width="52.5" height="82.7" fill="#77e2a4"/><path class="b" fill="none" d="M1858.4 698.7H1911M1884.7 629.6V593.7M1884.7 712.3V722.5M1871.6 593.7H1897.8M1871.6 722.5H1897.8"/><polyline class="m mp" points="1821.1,670.9 1821.4,669.7 1818,668.3 1823.8,751.1 1818,608.9 1817.3,589.7 1814.9,688.8 1817.1,673.2 1819.8,695.1 1825.2,601.2 1813.1,676.1 1812.9,564.6 1817.1,576.9 1815.7,598.1 1822.2,691.4 1822.6,639.6 1814.3,678.4 1814.8,601.6 1821.1,728.7 1814.2,727.2 1814.2,598.4 1823.5,751.2 1819.7,598 1825.6,705.8 1820.8,726.8 1815.1,708.3 1821.1,746.9 1823.9,688.9 1812.5,653.2 1819.2,567.2 1822.9,649.2 1811.6,749.5 1825,605.7 1823.7,734 1820.4,737.2 1818.6,659.5 1817.8,681.8 1823.2,734.8 1814.4,660.6 1823.3,614.7 1814.1,617.5 1813.4,694 1816.4,630.4 1817.8,659.5 1813.4,668.6 1820.9,473.1 1816.6,703.2 1820.6,638.4 1822,638 1818.3,597.1 1823.4,729.6 1813.4,642.5 1817.3,737.9 1819.2,719.3 1818.1,696.8 1812.5,697.1 1815,727.4 1816.9,680.2 1824.4,730.7 1812.5,633 1823.5,638.1 1815.4,669.4 1818.8,626.4 1814.7,673.7 1813.9,744.7 1813.4,696.7 1820.9,664.9 1824.7,747.9 1822.8,690.6 1822.7,681.9 1818.3,652.3 1814.1,749.8 1821.2,661.5 1823,593.5 1823.5,656 1823.3,532.6 1812.7,614.3 1816.2,694.9 1812.6,610.7 1821.5,679.5 1813.8,644.7 1824.8,701.1 1821,605.1 1812.5,711 1814.5,657.4 1814.4,679.2 1818.3,612.2 1824.6,554 1815.4,721.7 1822.7,559.2 1824.5,653.2 1822.4,588.5 1812.7,601.5 1825,701.5 1825.5,634.7 1820.7,593.4 1818.4,708.6 1816.2,654.1 1817.5,613.6 1820.3,596.5 1822.5,629.5 1819.5,694.1 1816.3,627.7 1819.8,659.1 1821.6,617.5 1812.6,659.2 1822.8,444.1 1815.4,664.6 1817.3,663.7 1814.7,689.5 1814.2,743.9 1816.3,616.1 1818.1,642.5 1813.8,574.1 1824.7,600.7 1815.8,708.5 1819.5,631.5 1822.3,731.2 1814.5,598.9 1816.4,642.9 1813.1,666.8 1820.5,735.5 1823.4,656.8 1815.7,581.6 1824.4,664 1822.2,711.8 1824,667.6 1814.9,744.7 1825.1,647.5 1819.8,604.6 1814.6,675.8 1818.7,730.6 1820.9,666.6 1823.2,746.8 1820.2,727.5 1813.6,708.2 1821.7,602.3 1822,719.7 1819.4,682 1820.6,719.8 1825.4,675.8 1824.3,706.6 1815.6,570.1 1822.2,631.7 1821.5,730.5 1820.9,624.8 1814.8,588.9 1823.1,725.4 1818.9,698.6 1818.8,735.7 1820.8,676.2 1813,611.9 1816.3,719.3 1819.4,599.5 1824,662.4 1822.3,696.6 1821.3,672.6 1821.5,489.6 1820.3,608.7 1818.1,540.8 1818.5,574 1820.3,730.1 1814.4,676.6 1825,673.1 1821,648.1 1817.6,738.3 1812.4,713.2 1817.9,629.1 1819.2,633.5 1819,735.1 1816.9,701.6 1822,542.9 1824.9,712.8 1824.8,623.5 1821.8,545 1821.9,600.1 1814.2,699 1816.3,733.9 1814.8,719 1819.9,599.3 1823.9,582.8 1815.6,664.6 1816.2,725.9 1823.7,714.9 1822.8,476.3 1813.6,718.5 1813.3,570.3 1814.9,605.7 1816.4,637.2 1811.6,524.6 1824.2,725.6 1816.1,542 1820.2,670.5 1820.1,731.7 1816.6,678 1819.4,629.2 1821.1,748.4 1818.7,745.6 1819.7,717.5 1819.7,636.3 1823.3,675 1822,673 1822.1,606.9 1815.2,545.6 1817.4,723.5 1821.8,742.4 1823.5,687.8 1824.8,678.9 1816.8,741 1819.9,702.8 1820.9,644 1817.2,643.4 1813,695.7 1813.1,672.3 1820.7,624.1 1816.3,626.1 1822.7,719.4 1818.6,634.2 1825.6,649.5 1824.1,639.8 1815.1,615.5 1814.6,697.2 1814.1,589.6 1819.1,673.8 1813.3,613.9 1817.7,698.8 1821.7,554.3 1820,755.1 1821.5,664.4 1817.7,690.2 1817.3,706.7 1818.5,511.6 1813.1,535.4 1824.6,638.4 1823.4,663.2"/><polyline class="m mg" points="1884.3,592.4 1881.5,621.6 1888.6,626.8 1886.2,630.9 1880.6,668.3 1882.1,696.5 1877.4,699.3 1884.9,704 1890.1,706.4 1881.2,713.2 1878.4,716 1885.8,719.2 1880.2,722.5"/><rect class="s" x="1786.5" y="428.5" width="131" height="342"/><path class="k" d="M1786.5 472.5h-6.5M1786.5 547.5h-6.5M1786.5 623.5h-6.5M1786.5 697.5h-6.5M1819.5 770.5v6.5M1884.5 770.5v6.5"/><text class="t" x="1772.9" y="480.1">40000</text><text class="t" x="1772.9" y="555.4">30000</text><text class="t" x="1772.9" y="630.7">20000</text><text class="t" x="1772.9" y="705">10000</text><text class="x" style="letter-spacing:-1px" x="1817.5" y="799.4">PS</text><text class="x" style="letter-spacing:-.2px" x="1884.1" y="799.4">Curated</text><text class="x" transform="translate(1702.7 602) rotate(-90)">axon_total_length</text></g>
<g><rect class="b" x="2034.1" y="599.9" width="52" height="77.4" fill="#db8cb3"/><path class="b" fill="none" d="M2034.1 638.5H2086.1M2060.1 599.9V445M2060.1 677.3V754.7M2047.1 445H2073.1M2047.1 754.7H2073.1"/><rect class="b" x="2099.1" y="599.9" width="52" height="38.7" fill="#77e2a4"/><path class="b" fill="none" d="M2099.1 638.5H2151.1M2125.1 599.9V561.2M2125.1 638.5V677.3M2112.1 561.2H2138.1M2112.1 677.3H2138.1"/><polyline class="m mp" points="2055.9,599.9 2062.3,716 2061,599.9 2060.4,599.9 2065,638.5 2054.1,561.2 2063.5,483.7 2058.9,561.2 2055.8,638.5 2061.5,561.2 2059.3,638.5 2055.2,599.9 2058.6,599.9 2057.5,483.7 2056.7,599.9 2055.9,677.3 2063.6,638.5 2053.6,599.9 2057,638.5 2053.6,522.4 2059.5,677.3 2061.3,638.5 2057.3,677.3 2055.5,638.5 2061.2,677.3 2056.7,716 2055.9,638.5 2056.2,677.3 2066.4,677.3 2061.3,599.9 2060,638.5 2060.7,677.3 2054,716 2053.8,638.5 2059.1,599.9 2063.2,677.3 2061.5,638.5 2061.5,599.9 2061.9,716 2060.5,638.5 2053.9,677.3 2065.8,483.7 2063.3,638.5 2065.1,638.5 2062,561.2 2065.5,677.3 2055.4,599.9 2055.8,754.7 2061.5,638.5 2066.3,677.3 2061.4,677.3 2058.8,483.7 2053.6,638.5 2054.4,599.9 2064,599.9 2057.8,638.5 2062.7,638.5 2062.2,638.5 2063.6,677.3 2057.4,677.3 2061.3,561.2 2053.9,599.9 2056.2,638.5 2063.3,677.3 2060.6,716 2065.8,561.2 2058.2,677.3 2062.9,754.7 2065.3,638.5 2061.7,677.3 2065.4,677.3 2059.9,638.5 2065.7,599.9 2055.2,638.5 2059.1,638.5 2066.6,599.9 2060.5,599.9 2057.6,716 2057.8,561.2 2057.9,638.5 2057.4,677.3 2057.3,638.5 2063.2,522.4 2066.2,677.3 2059.9,677.3 2057.8,638.5 2064.7,677.3 2055.7,638.5 2056.6,638.5 2058.3,638.5 2055.7,677.3 2064.8,599.9 2062,638.5 2058.9,638.5 2062.2,522.4 2056.5,561.2 2055.8,677.3 2054.6,638.5 2054.3,599.9 2057.8,599.9 2066.3,638.5 2065.2,638.5 2065.4,522.4 2058.9,561.2 2061.2,638.5 2065.7,638.5 2063,483.7 2062.6,677.3 2055.7,638.5 2056.9,677.3 2056.4,599.9 2061.7,522.4 2065.6,638.5 2065.5,677.3 2059.7,599.9 2058.4,677.3 2056.5,561.2 2063.4,638.5 2061.9,677.3 2062.9,638.5 2057,638.5 2060,638.5 2059.9,483.7 2063.3,754.7 2057.2,638.5 2055,677.3 2056.2,599.9 2063.1,677.3 2059.2,599.9 2056,638.5 2059.2,522.4 2060,561.2 2060.3,599.9 2062.3,638.5 2061.8,716 2065.9,599.9 2061.3,638.5 2062.3,677.3 2061.8,638.5 2054.2,677.3 2064,599.9 2058,599.9 2054.8,445 2054.9,561.2 2060.4,638.5 2058.2,716 2056.2,599.9 2054.9,599.9 2061.3,638.5 2057.8,677.3 2063.3,716 2063,599.9 2054.1,638.5 2054.4,638.5 2063.6,599.9 2057.5,522.4 2065.1,599.9 2061.2,599.9 2061.2,716"/><polyline class="m mg" points="2124.3,561.2 2118.6,599.9 2122.1,599.9 2127.9,599.9 2116.2,638.5 2119.7,638.5 2123.2,638.5 2126.8,638.5 2130.1,638.5 2132.5,638.5 2121.5,638.5 2128.2,638.5 2119.3,677.3"/><rect class="s" x="2027.5" y="428.5" width="130" height="342"/><path class="k" d="M2027.5 445.5h-6.5M2027.5 483.5h-6.5M2027.5 522.5h-6.5M2027.5 561.5h-6.5M2027.5 599.5h-6.5M2027.5 638.5h-6.5M2027.5 677.5h-6.5M2027.5 715.5h-6.5M2027.5 754.5h-6.5M2060.5 770.5v6.5M2125.5 770.5v6.5"/><text class="t" x="2014.3" y="452.6">10</text><text class="t" x="2014.3" y="491.3">9</text><text class="t" x="2014.3" y="530">8</text><text class="t" x="2014.3" y="568.8">7</text><text class="t" x="2014.3" y="607.5">6</text><text class="t" x="2014.3" y="646.1">5</text><text class="t" x="2014.3" y="684.9">4</text><text class="t" x="2014.3" y="723.6">3</text><text class="t" x="2014.3" y="762.3">2</text><text class="x" style="letter-spacing:-1px" x="2058.6" y="799.4">PS</text><text class="x" style="letter-spacing:-.2px" x="2124.5" y="799.4">Curated</text><text class="x" transform="translate(1979 602) rotate(-90)">basal_dendrite_calculate_number_of_stems</text></g>
<g><rect class="b" x="103.3" y="999.4" width="52.5" height="75.8" fill="#db8cb3"/><path class="b" fill="none" d="M103.3 1031.5H155.8M129.5 999.4V872M129.5 1075.2V1181.7M116.4 872H142.7M116.4 1181.7H142.7"/><rect class="b" x="168.9" y="1027.4" width="52.5" height="21.2" fill="#77e2a4"/><path class="b" fill="none" d="M168.9 1041.7H221.4M195.2 1027.4V1004.6M195.2 1048.6V1086.9M182 1004.6H208.3M182 1086.9H208.3"/><polyline class="m mp" points="129.5,1026.8 131.8,1024.7 133.5,1052.4 132.4,1018.2 123.3,1108.5 123.7,1082.1 131,992.5 135.2,1052.3 133,1130.6 135.8,1006.6 135.4,1120.1 125.7,962.6 124.6,1122.2 127.8,1070.8 135.9,1016.7 124.3,1013.9 128.7,951.8 126.7,1095.5 124.6,1009.4 123.5,941 124.2,1065 126.9,1021.1 128.4,1015.6 130.7,1079 129.4,938.8 129.4,1077.8 131.6,1081.6 129,1026 130.5,1024.6 134.8,993.1 130.9,1073.1 125.3,1136.1 128,1111.5 132.5,1125.6 127.1,925.2 133.5,1003.1 127.1,1027 133.2,940.5 133.9,1060.9 127.6,983.5 125.9,952.3 125.5,987.1 133.2,1087.8 135.6,1027.8 124.7,1164.5 127.3,1058.2 131.8,1173.3 133.5,991.7 135.8,995 130.6,1021.3 134.4,1031.9 133.3,1016.6 125.1,1070 133.9,1038.9 129.7,1064.4 125,1136.1 123.8,996.4 131,1143.4 125.3,1031.7 123,1073.7 123.3,1026.6 131.3,1037 133.6,1178.9 134.2,1105.2 126.9,1033.5 135.8,1154.5 130.2,1017.8 128.7,1124.1 135.1,909.4 134.8,939.7 131.7,997.2 125.1,1108.9 128.2,973.8 125.8,980 128.1,1124.6 134.6,1074.4 133.4,941.2 127.6,977.5 122.9,1094.2 128.6,1006.4 135.4,1037.1 125.7,1103.3 131.1,1063.2 133.8,1011.5 128.9,1002 123.4,949.2 127.6,1065.2 135.5,1031.2 127.8,1015.5 125,1034.5 126.3,1030.2 127.2,956.6 135.2,1006.4 128.1,1089.5 135.2,970.3 131.7,950.4 134.5,942.4 128.2,987.2 125.3,973.8 134,1009.6 128.4,1030.1 123.4,976.8 124.3,1073.5 126,1151.3 123.9,1070.7 130.6,1043.2 135.9,1020.1 130.5,1027.1 135.8,963.7 127.2,1105.6 135.9,1040.9 125.2,1084.4 128,1021.5 135.3,971.2 133.6,996.3 134.4,991.9 133.3,990.7 135.9,954.8 124.3,1052.3 126,991.8 130.2,1022.1 134.2,956.3 133.6,1057 131.3,960.5 127.8,1052.6 134,1143 135.6,1026.8 127.1,1015.8 127.9,1043.3 128.2,1023.6 123.9,1055.9 135,1009.9 130.5,1133.9 125.3,999.7 132.2,1055.2 135.3,949.4 126.2,1111.2 123.4,1097.9 123.6,1078.8 135.3,1161.5 126,1072.7 125.9,1037.6 131.1,1109.6 128.3,989.6 123,1080.5 129.5,1052.8 127,965.3 134.2,968.8 125,990.1 123,976.1 125.8,903.3 125.5,1046 124.6,1143.7 133.1,1134.4 133.5,1061.7 131.7,955.9 135.3,1014.1 133.2,1079 128.8,1020.8 126.1,995.6 131.5,1004 130.1,1101.2 126.7,942.6 130.7,1085.2 129.2,1074.7 131.7,1058.8 132.1,1119 134.3,1090.8 129.2,1027.9 125.6,1041.8 125.6,969.9 124.7,1086.4 130.7,944.9 133.5,975.9 123.4,1016.3 129.2,1043.8 132.1,1040.4 135.5,1148.9 134.5,870.7 128.9,1039.2 132,1029.6 125.5,1012.4 125.4,1026.2 132.8,1023.3 128,1166.1 127,1024.7 130.3,1039.9 130.1,1065.3 131.7,981.7 124.9,1148.5 125.7,1160.2 127.7,1013.2 129,1050 135.5,1083.1 126.3,1020.3 124.5,1020.3 130.5,936.6 122.9,1073.3 126.2,1015.2 134.6,1036.7 123.5,1062.3 134.3,1086.1 123.9,1167.3 130.3,1057 124.2,997.5 134.5,1059.9 127.2,1160.8 124,999.5 125.2,1168.9 126,1168.5 134.4,959.1 124.7,990.7 129.7,1004.2 133.1,1065.2 135.1,1024.8 133.9,1043.6 126.2,1044.1 131.1,1157.1 127.7,938 128.6,1053.2 125.3,1053.9 124.3,952.6 134.6,1010.7 124.2,999.6 127.1,948.3 124.9,1181.5 125.7,1165.6 129.7,1068 125.5,1029.6 124.6,1155.6 126,1062.7"/><polyline class="m mg" points="197.2,1003.6 194.1,1004.9 188.9,1020.9 192.6,1028.7 187.9,1035.2 193.1,1038 186.1,1039.9 195.4,1043.6 190.7,1046.4 200,1046.9 187.9,1051 196.8,1060.7 197.2,1086.3"/><rect class="s" x="96.5" y="856.5" width="132" height="341"/><path class="k" d="M96.5 882.5h-6.5M96.5 954.5h-6.5M96.5 1024.5h-6.5M96.5 1096.5h-6.5M96.5 1166.5h-6.5M129.5 1197.5v6.5M195.5 1197.5v6.5"/><text class="t" x="83.4" y="890">1000</text><text class="t" x="83.4" y="962">800</text><text class="t" x="83.4" y="1032">600</text><text class="t" x="83.4" y="1103.8">400</text><text class="t" x="83.4" y="1174.4">200</text><text class="x" style="letter-spacing:-1px" x="128" y="1226.3">PS</text><text class="x" style="letter-spacing:-.2px" x="194.6" y="1226.3">Curated</text><text class="x" transform="translate(24.8 1028.7) rotate(-90)">axon_extent_y</text></g>
<g><rect class="b" x="344.6" y="1022" width="52.5" height="81" fill="#db8cb3"/><path class="b" fill="none" d="M344.6 1068.3H397.1M370.9 1022V872M370.9 1103.1V1181.7M357.8 872H384M357.8 1181.7H384"/><rect class="b" x="410.3" y="1085.8" width="52.5" height="38.7" fill="#77e2a4"/><path class="b" fill="none" d="M410.3 1111.4H462.8M436.5 1085.8V1061.8M436.5 1124.4V1136.5M423.4 1061.8H449.7M423.4 1136.5H449.7"/><polyline class="m mp" points="375.7,1014.1 374.7,965.1 375.5,912.6 376.8,1095.3 376.7,1038.8 372.9,963.9 364.9,1138.9 365.7,1120.7 368.2,1144.2 375.9,1100.1 364.3,1005.4 375.7,1066.9 377,1124.1 371,1025.3 375.7,982.3 374.2,998 366.3,959.4 366.9,1104.3 375.6,1135 364.4,974.7 368.1,991.3 372.8,1059.4 369.6,1030.3 368.9,973.8 366,1093.4 371.4,1138.2 368.7,1071.4 375.9,972.8 364.5,1081.2 368.8,1064.5 366.2,1096.9 376.1,1141.9 376.3,1091.3 370.1,1078.5 374.9,1033.9 374.8,1090.5 366.9,1079.8 374.6,996.4 374.9,1137.6 372.2,1047.6 374.8,1115.5 370.8,1037.3 366,1139.1 368.1,956.3 375.7,1070.5 366.8,1101.5 365.1,1112.3 369,942.8 377,1037.7 374.9,1137.1 367.2,1034.4 371,1126.8 368.3,1135 367.8,1088.3 369.6,1110.8 374.3,1103.5 365.1,1133 373.8,1000.8 366,1089.2 376.6,1078.8 369.6,1052.7 372.5,1070.3 370.7,1123.2 372.2,1122.3 375.6,964.4 365.7,884.3 376.9,1040.4 372.8,1124.3 373.6,986.8 371.5,1016.8 373.1,1051.8 367,1021.6 364.7,1113.1 374.5,1129.5 374,1065.6 368.3,1099.5 375.5,1043 372.5,999.9 373.8,1051.9 365.8,1101.9 370,1082.3 367.4,1073 371,1092.1 375.6,1100.2 377.3,1083.7 375,1070.6 373.1,970.4 376.7,1140.8 370.1,1097.6 372.7,1108.9 369.2,993.5 375.3,1029.9 366.8,1043 364.5,1011.9 374.8,1092.6 372.3,959.6 371,1036.2 377.2,1073.8 372.8,968.5 371.4,1008 367.9,1031.5 376.2,1048 364.9,1080.2 365.3,935.2 364.3,1115.8 371,1052.3 371.4,1037.3 366.6,1094.6 364.3,1098 372.3,1042.3 364.8,1073.9 375.4,1139 374.9,1096.8 370.1,1144.6 368,983.4 373.6,1035.1 366.3,981.2 373.9,1124.3 370.3,1039 369.9,975.8 370.9,1002.7 373,1072.9 364.9,1149.5 367.6,1039.1 373.1,1105.7 370.1,1087.4 367,1039.6 368.7,1127.6 373,1070.3 365,983.9 365.1,1062.4 368.8,1050.5 369.2,958.1 376.2,1123.6 377.3,1031.4 374.1,984.6 365.1,1063.2 364.6,1055.9 374.9,1134.2 368.1,1116.7 372.3,1132.2 366.1,1131 366.9,1089.3 368.1,1139.8 370.3,1021.7 374.3,1047.1 365.3,1118.4 371.8,996.1 371.8,975.1 372.4,925.6 376.1,1127 371.4,1084 366.1,1061.8 364.4,1095.3 375.1,1121.6 371.8,1081 370.9,1062.5 370.7,1079.1 373.6,968.2 367.6,1076 375.8,976.6 369.7,1135.8 366.3,1085.3 373.7,1050.3 371.8,951.6 370.6,980.4 367.1,1065.4 367.4,1052.2 367.9,1105.6 367.5,1045 367.2,988.9 369,1125.2 374.8,1018 376.5,1043.5 369.9,1031 370,1045.6 375.6,1011.7 365.5,1117.4 376.5,1114.4 373.3,1092.7 374.5,959.8 374.2,1181.1 371.6,996.5 364.9,900.5 375,1106 367.7,1018.9 370,1044.3 365.8,1090.8 371.3,1069.6 375.7,1008.4 368.9,1074.9 368,1046.4 371.5,968.3 369.9,1073.3 371,1076 373.6,1138.5 365.1,955.8 371.3,1022.7 377,1129.5 367.7,1112.7 367.4,979 376.4,1019.8 376.8,907.3 372.3,1078.1 364.5,1098.6 369.5,1037.9 370.3,1157.5 375.8,1143 374.2,1044.6 371.8,870.7 367.5,1006.6 374,1042.7 366.4,1100.2 367.2,1134.6 376.6,1074.9 370,984.4 364.7,1133.2 376.2,1021.2 370.5,1076.7 377.1,1100.3 368.3,1050.4 374.3,1027.5 370.2,1111.1 364.4,1004.2 375.5,929.3 365,1086.4 370.6,1084.8 372.6,1034.7 376.6,1134.8 369.4,1008.4 372.3,981.3 374.4,1049.7 370.1,1105.6 367.9,1025.3 371.6,1060 365.7,965.8 372.1,1113.8"/><polyline class="m mg" points="436.7,1061.2 434.9,1073 429.3,1075.2 435.8,1078.9 439,1087.8 437.7,1101.8 431.1,1106.8 442.3,1110.5 430.8,1121.7 438.6,1122.6 436.7,1127.2 431.1,1133.7 435.2,1136.5"/><rect class="s" x="338.5" y="856.5" width="131" height="341"/><path class="k" d="M338.5 888.5h-6.5M338.5 932.5h-6.5M338.5 978.5h-6.5M338.5 1023.5h-6.5M338.5 1068.5h-6.5M338.5 1113.5h-6.5M338.5 1158.5h-6.5M370.5 1197.5v6.5M436.5 1197.5v6.5"/><text class="t" x="324.8" y="896.4">450</text><text class="t" x="324.8" y="940.6">400</text><text class="t" x="324.8" y="985.8">350</text><text class="t" x="324.8" y="1030.7">300</text><text class="t" x="324.8" y="1076.3">250</text><text class="t" x="324.8" y="1121.3">200</text><text class="t" x="324.8" y="1166.4">150</text><text class="x" style="letter-spacing:-1px" x="369.4" y="1226.3">PS</text><text class="x" style="letter-spacing:-.2px" x="435.9" y="1226.3">Curated</text><text class="x" transform="translate(277.8 1028.7) rotate(-90)">basal_dendrite_max_euclidean_distance</text></g>
<g><rect class="b" x="586" y="1052.5" width="52.5" height="68" fill="#db8cb3"/><path class="b" fill="none" d="M586 1084.5H638.5M612.2 1052.5V872M612.2 1120.5V1181.7M599.1 872H625.4M599.1 1181.7H625.4"/><rect class="b" x="651.6" y="1095.3" width="52.5" height="46.5" fill="#77e2a4"/><path class="b" fill="none" d="M651.6 1118.9H704.2M677.9 1095.3V1052.5M677.9 1141.7V1166.8M664.8 1052.5H691M664.8 1166.8H691"/><polyline class="m mp" points="608.7,1087.1 609.2,1027.3 611,1050.7 612.5,1029 612.6,1170.2 612.7,1080.9 605.8,1125.5 614,1134 607.5,1061.1 608.7,1058.2 608.7,1097.8 608.8,1078.1 605.8,1094.9 618,1036.9 616.9,1153.7 607.2,1150.6 614.4,1091 610.6,1109.3 616.5,1132.1 612.1,1097.5 617.1,1071.4 608.4,1121 607.6,1181.1 614.6,1065.4 612.8,1060 609.8,1110.2 617.5,1101.9 609.3,1118.2 605.7,1069.1 613.5,1037.7 617.5,1058.4 612.2,1177 611.1,1153.6 613.7,1099.2 618.3,1093.6 607,1124.8 613,1072.3 613.8,1072.4 610.4,1075.5 618.8,1038.7 618.8,1080.3 611.4,1076.8 609.2,1069 617.3,1065.7 613.1,1043.1 616.5,1138.4 607.1,1141.6 616.6,1082.8 615.2,1153.7 612.6,926.9 615.2,1073.8 609.3,1172.9 606.9,1152.6 618.5,1034.4 606.4,1054 610,1153.9 615.9,1109.8 606.2,1020.1 612.5,1034 617.5,1034.6 612.2,1138.2 618.4,1055.2 609.4,1038.7 607.8,1120.8 608.5,971.1 613.1,1041.7 617.3,1047.6 615.8,1019.5 612.7,1121.7 609.2,1143.9 610.2,1056.6 610.7,1095.6 613.5,1040.7 605.9,1049.3 606.6,1050.7 606.8,1110 613.4,1117 618.3,1092 617.1,1167.5 609.5,985.6 606.4,1043.2 612.2,1052.4 608.5,1057.6 611.2,1080.2 612.8,1044.2 608.2,1162.1 610.2,1062.2 612,1069 611.1,1121 611.9,1067.8 615.5,1132 607.2,1105.7 608.5,1013.9 611.7,1094.7 611.8,1063.6 614.9,1172.7 615.8,1038.8 607.3,1062.1 618.2,1086.1 607.1,1084.1 607.6,1113.6 614.5,1087.1 612.4,1017.7 608.5,918.1 607.6,1054.7 612.4,1070.2 615.1,1083.2 617.4,1028.3 613.6,1097.5 617.1,1114.1 605.7,1154.6 612.2,1001.4 607.9,1062.5 617.9,1138 615.2,1068.1 607.1,1171.6 611.9,1039.5 609.6,1061.5 613.5,1157 606.5,1036.4 605,994.3 611.7,1084.2 618.4,1120.6 609.2,1158.4 609.4,1113.5 616,1092.8 614.3,1112.3 615.2,1129.9 610.9,882.8 606.6,1054.8 609.1,1146.5 610.2,1151.3 613.3,1142.9 607.3,1079.9 616.6,1126 614.7,1092.3 608,1124.7 617,1037.7 615.1,1033.6 606.2,1115.2 607.2,1057.8 615.2,1031.2 615.3,1114.2 611.9,1073.2 618.2,1083.5 617,1043.9 616.2,1108.8 617.4,1099.6 615.2,1046.2 612,1115.6 612.5,1053.1 610.7,1094.7 606,1109.1 616.4,1053.3 610,1148.7 606.7,1176.5 614.4,1173.4 606.4,1099.7 610.5,1062.6 618.4,1043.1 612.4,1140.9 613.8,1055.2 618.8,1042.4 613.5,1045 618,1104.2 615.4,870.4 611.1,1099.7 607.4,1120.8 608.9,1068.1 616.5,938.9 616.9,1007.3 617,1100.1 609.5,1109.4 615.4,1055.4 611.7,1091.8 615.6,1092.9 617.9,1153.9 608.2,977.2 610.8,1113.8 610.1,1115 606.6,1030.6 618.7,1025.7 607.8,1050.7 618.1,1036.5 617.7,1067.1 612.9,1043.5 614,1029.8 613.8,1163.3 610.9,1054.7 614.6,1053 608.4,1038 608.8,1095.1 613.5,1162.8 617.1,1077.8 615.5,1065.5 617.5,1090.1 610.1,1126.9 614,1163.4 608.5,1088.9 607,1034 608.7,1106.4 617.4,1076.6 618.2,1109.5 614.7,1135.7 607.8,1025.9 616.7,1037.8 608.2,1078.9 610.4,1105.6 614.2,1028.2 610,1081.4 617.3,1087.2 615.1,1128.2 606.7,1099.1 610.8,1146.2 607.8,1090.3 607.2,1105.6 610.8,1154.3 611.2,1128.7 609.1,1140 613.5,1091.6 608.5,1029.5 611.9,1168.6 607.7,1041 608.7,1141.6 605,951.6 606.2,1096.7 608.9,1089.7 616.8,1169.4 616.9,966.5 608.8,1067.4 612.1,1148.8 616.4,1030.9 616.9,1127.9 612.8,1020.4"/><polyline class="m mg" points="679.9,1051.4 675.3,1054.4 670.6,1059 683.1,1061.2 674.4,1104.9 672.5,1107.7 677.5,1111.4 671.9,1123.5 670.3,1126.9 679.9,1137.5 672.1,1141.2 677.7,1142.1 677.5,1147.7 678.1,1166.3"/><rect class="s" x="579.5" y="856.5" width="131" height="341"/><path class="k" d="M579.5 862.5h-6.5M579.5 927.5h-6.5M579.5 992.5h-6.5M579.5 1057.5h-6.5M579.5 1122.5h-6.5M579.5 1188.5h-6.5M612.5 1197.5v6.5M677.5 1197.5v6.5"/><text class="t" x="566.1" y="870">1.0</text><text class="t" x="566.1" y="935.4">0.8</text><text class="t" x="566.1" y="1000.3">0.6</text><text class="t" x="566.1" y="1065.5">0.4</text><text class="t" x="566.1" y="1130.6">0.2</text><text class="t" x="566.1" y="1195.8">0.0</text><text class="x" style="letter-spacing:-1px" x="610.7" y="1226.3">PS</text><text class="x" style="letter-spacing:-.2px" x="677.3" y="1226.3">Curated</text><text class="x" transform="translate(525 1028.7) rotate(-90)">axon_exit_theta</text></g>
<g><rect class="b" x="827.3" y="1049.7" width="52.5" height="69.5" fill="#db8cb3"/><path class="b" fill="none" d="M827.3 1086.9H879.9M853.6 1049.7V872M853.6 1119.2V1181.7M840.5 872H866.7M840.5 1181.7H866.7"/><rect class="b" x="893" y="1085.8" width="52.5" height="29.6" fill="#77e2a4"/><path class="b" fill="none" d="M893 1101.2H945.5M919.3 1085.8V1028.3M919.3 1115.3V1145.4M906.1 1028.3H932.4M906.1 1145.4H932.4"/><polyline class="m mp" points="858.4,1013.1 854.5,1117.6 855.7,1100.4 855,1027.7 854,1022.7 860.2,1054.6 850.6,1064.7 847.8,1087.8 847.6,1067.5 850.8,908.8 850,1063.2 855.6,999 856.5,1003.3 847.7,1100.6 855.2,1151.7 857.4,1048.1 853.6,1020.4 858.1,1064 853.5,1043.1 855.1,1018.5 849.7,1034.7 848.4,1123.4 859.3,1115.5 850.6,1074.7 850.8,1049.2 848.3,1097 849.5,1107.2 859.8,1041.8 855.9,1123 853.7,1132.3 855,1113.1 853.8,1097.3 848.7,1092.9 857,929.3 848.9,1091.6 854.7,1011.5 848.8,1136.5 847.2,1042.9 854,1049.8 850.9,1136.3 858.6,1118.1 856.9,1156.5 853.1,1055.1 847.1,953.4 853.5,1130.2 854.7,1134.5 855.5,1154 850,1040.7 853.3,1059.9 855.1,1097.7 850.8,1142.1 849.4,1080.6 853.1,1144.6 849.2,1121 848.9,1081.8 848.3,1154.1 856.7,1077.6 852.9,1159.6 849.9,1104 852,1105.4 854.2,1065.7 854.6,1101 857.3,969.8 849,1134.5 849,1100.8 848.2,1056.4 853.2,1090.7 848.2,998.9 855.9,1055.3 855.7,1162.8 850.5,1131.4 855.1,1115.3 857.3,1069.7 853.7,1065.1 857.8,1005.4 855.2,1106.8 854.7,1048.2 858,1069.9 848,1167.5 850.6,1116.8 848.4,1092.3 847.7,1116.6 851.3,1102.7 849.9,989.7 855.5,1072.4 848.4,1005.5 852.7,1043.7 847.6,1064.9 851.7,1112 859.5,1105.7 853.1,1164.6 856.4,938.6 859.3,1134.1 854.1,1083.6 853.5,1100.5 848.3,1052.5 851.7,1054.9 852.7,971.1 853.4,1005.4 853,1065.8 856.6,1156 858.3,942.8 853.6,1032.5 849.5,1070.8 852,1089.3 850.3,921.3 851.7,1111 852,1106.2 847.7,1110.2 850,1076.4 854.3,1011.3 855.9,1048.5 850.8,947.9 851.1,1043.4 847.4,1158.8 848,1175.6 854.2,1061.2 855,1152.9 857.9,1022.5 847.2,1043.3 860.1,1098.7 859.8,1015.8 855.3,1168.8 857.1,1056.3 857.6,1062.6 848,870.4 858.9,1101.3 855.7,1110 848.4,1091 857.5,1051.3 851.9,1008 855.7,1092.9 859.8,1143.6 854.7,1083.6 849.2,1053.7 847.1,968.7 852.9,1122.3 847.6,1082 848.2,1053 848.8,1051.2 847.2,1101.5 856.7,1122.4 853.7,1124.9 847.9,997.4 859.2,986 857.7,1085.8 856.6,1121.9 852.6,1004.2 849.2,1070.8 853,998.3 847.9,1130.3 848.9,1107.8 858.2,1106.7 849.7,1001.5 850.4,1086.6 859.4,1094.3 854.2,1004.8 850.8,1057.2 857.3,1156.7 848.8,1148.6 849.9,1022.2 859.8,1125 851.1,1095.6 851.1,1004.8 857.9,1160.6 849.8,1128.6 850.1,1046.8 849.5,1077.1 859.9,1023.1 855.7,1009 851.7,1153.4 860,1106 852,1074.6 856.8,1037.9 857.3,1122.6 851.5,1032.7 855.3,1104.2 853.7,1011 849.2,1051.6 847.9,1097.2 851.7,935.8 847.5,1129.9 860,998.1 847.5,1132.6 860.1,1082.4 853.3,1064.9 849.8,1007.4 855.8,1085.7 847.3,1004.1 851.4,1126.8 851,1047.9 854.4,1070.3 857,1008.5 856.5,1078.8 847.4,1047.3 851.9,1096.6 856.6,1074.8 852.5,1009.5 851.6,1143.1 848.7,1137.3 858.6,1012.3 857.2,1111.3 859.5,1048.3 859.1,1108.1 855.4,1063.5 850.9,1125.5 859.8,1110.8 857,1172.8 856.4,1181.1 851.6,1118 856.5,1133.5 854.2,1143.6 849.6,1084.4 855.1,1152.7 860,1002.4 854.2,1010.7 848.9,1131.5 855.7,1069.9 851.2,997.9 847.3,1055.5 854.5,1120 850.1,1120.6 850.4,1137.9 857,1083.4 856.4,1120.7 857.4,1067.7 854.7,1108.5 858.8,1102.9 852.6,1070.9 858.9,1020.6 854.5,1107.9 851.7,1136.8 852.3,1060.9 851.1,1117.8 855.2,1114.6 856.8,1107.8 851.4,1127.6 856,1153.6 855,1013.1 851.2,1162.8 860.1,1101.8"/><polyline class="m mg" points="924.1,1027.8 920.9,1062.2 914.8,1075.7 920.9,1078.9 917.2,1087.8 922.2,1090.1 913.9,1095.6 921.3,1101.2 913.5,1102.1 919.1,1110.5 919.4,1123.9 916.1,1137.5 916.7,1144.9"/><rect class="s" x="820.5" y="856.5" width="132" height="341"/><path class="k" d="M820.5 913.5h-6.5M820.5 976.5h-6.5M820.5 1040.5h-6.5M820.5 1104.5h-6.5M820.5 1167.5h-6.5M853.5 1197.5v6.5M919.5 1197.5v6.5"/><text class="t" x="807.5" y="920.7">1000</text><text class="t" x="807.5" y="984.3">800</text><text class="t" x="807.5" y="1048">600</text><text class="t" x="807.5" y="1112">400</text><text class="t" x="807.5" y="1174.8">200</text><text class="x" style="letter-spacing:-1px" x="852.1" y="1226.3">PS</text><text class="x" style="letter-spacing:-.2px" x="918.7" y="1226.3">Curated</text><text class="x" transform="translate(748.9 1028.7) rotate(-90)">axon_extent_x</text></g>
<g><rect class="b" x="1068.7" y="981.9" width="52.5" height="78.8" fill="#db8cb3"/><path class="b" fill="none" d="M1068.7 1025.9H1121.2M1095 981.9V872M1095 1060.7V1181.7M1081.8 872H1108.1M1081.8 1181.7H1108.1"/><rect class="b" x="1134.4" y="1024.3" width="52.5" height="41.6" fill="#77e2a4"/><path class="b" fill="none" d="M1134.4 1045.4H1186.9M1160.6 1024.3V966.1M1160.6 1065.9V1101.8M1147.5 966.1H1173.7M1147.5 1101.8H1173.7"/><polyline class="m mp" points="1094.9,1084.2 1092.7,1104.5 1092.8,1036.4 1096.4,1009.1 1097.4,1023.5 1092.8,1030.4 1092.9,1055.3 1095.3,1126.6 1097.7,1038.9 1093.9,1089.8 1097.5,1081.5 1090.1,1013.7 1094.8,983.5 1092,1054.8 1091.5,996.7 1101.1,984.1 1094.2,1013.5 1094.3,1064.6 1089.4,982.2 1095.1,1098.4 1099.1,1152 1101.1,1074.6 1100.9,989.5 1089,882.3 1092.2,1047.2 1098.6,923 1093.3,929.6 1100.5,1059.2 1093.5,1021.9 1095.6,976.9 1098.7,998.3 1090,939.3 1100.4,956.4 1094,1039.8 1095.9,1056.9 1095.6,1031.1 1096.6,931.7 1088.8,971.6 1098.1,958 1095.8,968.1 1093.8,1073.6 1093.9,981.8 1095.9,1052.8 1098.7,994.7 1099.6,989.7 1096.3,870.4 1098.7,1037.7 1094.2,1060.9 1099.4,980.4 1091.8,1057.5 1099.3,989 1087,1154.6 1096.4,978.2 1086,905.5 1092.2,930.3 1091.3,937.2 1093.2,1012.6 1098.5,1041.7 1092,1083.2 1092.5,1119.4 1096.8,1121.4 1090.7,893.4 1093.9,981.5 1091.6,976.1 1096.5,946 1098.2,1056.7 1095,1057.3 1101,1015.9 1098,1029.2 1096.9,942.7 1100.7,1019.3 1088.9,1015.7 1091.3,957.8 1100.8,944.2 1093.9,1079.1 1094.1,1106.2 1099.2,1035.9 1091.2,1057.8 1089.8,1098.4 1098.5,1125.2 1093.9,1084.7 1100.8,1084.6 1095,900.5 1096,960.5 1098.7,1104.4 1098.5,1050.4 1095.3,1028 1098.1,1056.7 1097,950.2 1091.2,945.3 1091.9,1016.9 1090.7,1113.1 1093,1124.1 1100.3,1014.4 1091.5,947.9 1100.7,1054 1099.3,933.9 1090.9,939.8 1101,943.4 1090.4,1011.7 1091.9,1008.3 1089,925.4 1095.3,1025.6 1095.7,957.8 1100.8,939 1091.5,1119.8 1092.4,1120.5 1089.8,1008.3 1092.7,1094.2 1096,1008.9 1095.8,923 1100.2,1076.3 1088.5,1140.8 1095.9,1136.5 1092.9,998 1096.9,1039.7 1098.1,1042.7 1093.9,1079.3 1089.8,1023.1 1094.9,1084.7 1097.7,997.3 1098.9,933.2 1097.3,1096.4 1094.2,1034.2 1089.5,1035.5 1100,999.8 1100.9,949 1092.1,1078.9 1097.2,1087 1096.4,981.9 1096.3,1060.6 1101.3,1017 1100.6,1031.1 1099.9,986.8 1097.1,947.6 1089.4,1028.5 1094.1,1033.2 1095.4,983.4 1099.5,928.4 1093.6,976.3 1098.8,1052.1 1090.4,1060.4 1099.6,1000 1099.4,1091.4 1098,1039.7 1097.4,980.1 1088.8,1022.6 1097.2,939 1095.7,1060 1089.1,1055.6 1094.2,1008.1 1089.7,993.4 1101.4,1034.2 1097,1043.5 1088.6,1087.1 1097.7,974.4 1090.6,1018.7 1088.6,1051.3 1089.2,1091.8 1094.1,1047.2 1098.6,991.9 1089.8,1038.8 1096.9,1072.6 1099.9,1028.8 1096.4,963.1 1092.4,939.3 1097.2,919.1 1093.7,1033.3 1089.5,1000 1095.1,1085.2 1090.8,977.4 1095.5,1181.1 1091.6,1033.6 1098.7,1084.3 1090.8,971.5 1089.1,942.4 1100.6,960.5 1091.7,1070.7 1091.8,1095.1 1096.1,1104.4 1089.5,1094.3 1094.3,1047 1094.1,1000 1097.8,1037.9 1099.1,1077.3 1094.2,1112.7 1099.1,913.5 1096.9,963.6 1098.9,954.3 1097,1087.1 1093.9,1020.9 1091.1,1106.8 1096.9,1088.2 1098.9,1020.4 1096.8,1001.7 1095.2,1047.4 1094.7,1069 1090.1,981.9 1091.3,1057.2 1093,959.6 1099.8,992.5 1091.8,1094.8 1093.3,1069.9 1091.7,1075 1099,1018.3 1088.6,1005.6 1095.1,1012.5 1097.3,945.8 1097.5,1063 1092.2,946.5 1092.1,1008.9 1091.9,1028 1092.9,991.1 1100.9,951 1097.8,966.8 1100.7,1080.7 1100.7,970.3 1090.4,1044.1 1089.8,1047 1088.8,996.9 1094.2,930.9 1089.3,1082 1092,995.7 1092.5,1043 1092.3,1005.7 1097.2,1043.7 1098.2,1004.8 1099.7,1109.4 1097.2,1020.7 1092.3,1078.7 1091.8,963.4 1094.9,969 1095,1116.8 1097.2,1047.7 1099.9,1042.8 1091.6,1045.3 1090.4,1080.7"/><polyline class="m mg" points="1164.1,965.5 1155.2,1010.1 1162.7,1015.3 1160.4,1023.1 1166,1024.1 1155.2,1033.9 1156.2,1039.9 1152.4,1043.2 1153.4,1047.7 1161.7,1052.9 1156.2,1060.3 1160.8,1060.3 1163.6,1080.4 1158.9,1087.8 1154.3,1101.2"/><rect class="s" x="1062.5" y="856.5" width="131" height="341"/><path class="k" d="M1062.5 890.5h-6.5M1062.5 951.5h-6.5M1062.5 1012.5h-6.5M1062.5 1073.5h-6.5M1062.5 1134.5h-6.5M1094.5 1197.5v6.5M1160.5 1197.5v6.5"/><text class="t" x="1048.8" y="897.8">200</text><text class="t" x="1048.8" y="959">100</text><text class="t" x="1048.8" y="1020.2">0</text><text class="t" x="1048.8" y="1081.3">−100</text><text class="t" x="1048.8" y="1142.5">−200</text><text class="x" style="letter-spacing:-1px" x="1093.5" y="1226.3">PS</text><text class="x" style="letter-spacing:-.2px" x="1160" y="1226.3">Curated</text><text class="x" transform="translate(986.6 1028.7) rotate(-90)">basal_dendrite_bias_y</text></g>
<g><rect class="b" x="1310.1" y="986.2" width="52.5" height="111.5" fill="#db8cb3"/><path class="b" fill="none" d="M1310.1 1039.3H1362.6M1336.3 986.2V872M1336.3 1097.7V1181.7M1323.2 872H1349.5M1323.2 1181.7H1349.5"/><rect class="b" x="1375.7" y="981" width="52.5" height="79.4" fill="#77e2a4"/><path class="b" fill="none" d="M1375.7 996.8H1428.2M1402 981V946.4M1402 1060.3V1163.1M1388.8 946.4H1415.1M1388.8 1163.1H1415.1"/><polyline class="m mp" points="1335.1,1056.4 1341.8,1074.1 1330.7,1097.9 1341.9,1099.7 1340.1,983.1 1341,989 1339.7,1173.3 1335.6,947.6 1335.9,1144.9 1332.4,1045.7 1330.4,987.8 1339.4,1010.9 1335,1024.6 1338.1,1000.4 1330.7,879.1 1331.6,978.6 1336.1,1154.3 1338.2,1098.7 1332.2,1117.8 1331.9,954.9 1342.6,1023.1 1332.4,1005.4 1342.2,1013.7 1329.8,887.5 1330.6,1153.1 1335,967.6 1334,983 1330.5,1028.9 1336.7,1091.5 1334,1052 1332.2,1019.8 1335.1,1168.2 1339.4,1026.6 1338,980.3 1331.1,1174.1 1339.9,966.7 1330.6,1109.1 1342.7,945.2 1332,1057 1330.6,976 1340.1,1099.4 1341.4,1050.7 1334.4,1100 1341,971 1331.4,998.5 1338.8,981.4 1338.6,899.5 1331.3,1060.8 1339.5,1144.4 1336.1,1019.2 1336,1062.8 1335.2,1092.6 1337.9,1067 1342.5,1025.3 1341.4,999.8 1331.4,974.1 1339.8,1141.6 1334.3,998.7 1333.5,1032 1342.4,1019.6 1338.4,991.4 1336,1048.3 1333.1,985.4 1338.7,1123.3 1335.5,1012.1 1339.1,1181.1 1334.2,1097.7 1331.4,975.5 1336.7,952.6 1333.4,941.4 1334.1,1083.6 1337.9,1023 1338,968.6 1332.3,1023.6 1337.5,994.7 1336.5,1154.4 1330.8,1164.9 1337.1,1157.2 1333.3,979.7 1334.8,914.4 1331.7,1025.7 1334.1,996.8 1341.5,1020.1 1333.6,958.4 1341,968.5 1330.3,1000.9 1335.5,1042.1 1341.7,1073.7 1336.5,1093 1338.4,1094.8 1336.3,1098.4 1330.3,1131.2 1336.9,1018.2 1335.6,1131 1334.5,1085.3 1334.9,1099.8 1338.6,870.4 1341.5,1070.5 1334.7,1022.2 1340.3,1118.5 1335.9,1121.6 1338.9,1122.1 1341.9,1162.9 1331.1,1063.2 1338.8,1149.2 1338.5,1144.4 1336.2,1051.7 1330,968 1337,1147.9 1335.7,1098.1 1340.4,930.2 1337.9,960.2 1334.1,966.2 1335.9,1105.9 1340.4,961.8 1342.3,969.1 1342.5,1092.7 1335.9,1065.6 1331.7,962.2 1340.3,1127.7 1336.1,1093.8 1334.1,1083.7 1331.5,978.7 1336.3,927.4 1342.5,1043.7 1334.3,1055 1339.7,909.8 1329.8,1054.7 1334.3,1058.5 1330.4,1017 1337.3,1021.7 1342.5,1109.3 1333.3,1058.4 1341.7,1071.3 1331.6,1056.3 1332.4,1163 1329.9,956.6 1331.4,1049.5 1339,1124.6 1339.1,996.9 1334.5,944.6 1339.7,1055.9 1341.3,1016.9 1341.5,1080.4 1339.4,1081.6 1336.4,1159.9 1336.3,882.8 1338.4,951.2 1341.8,1014.3 1330.2,1061.2 1332,941.2 1338.9,1040.8 1340,1049.8 1334.4,977.6 1330.3,1002.9 1334.3,1005 1340.2,1099.7 1330.4,974.2 1337.9,987.2 1335.9,947.4 1341.4,949.2 1339.5,1111.2 1334.4,959.2 1338.9,1025.8 1339.6,1072.3 1332.1,1012.1 1330,975.2 1332.8,1060.2 1338.6,1002.5 1331.9,1156.7 1339.6,980.5 1333.3,1116.4 1335.4,977.6 1331.4,1045.1 1331.8,1154.3 1341.9,1105.9 1330.9,1105.5 1339,979.5 1330.8,999 1337.5,971.9 1337.2,1090.2 1340.6,1032.1 1330.5,939.7 1330.1,1025.9 1341.5,1030.8 1340.1,1075.5 1333,974.4 1341.7,983.5 1335.2,969.5 1331.6,972.5 1330.7,1039.4 1332.7,1126.6 1338.8,983.5 1336.6,989.5 1331.5,1067.8 1338.9,1138.1 1334,965.7 1336.4,945.7 1342.3,1118.5 1335.2,1017.5 1338.2,1104 1332.2,987 1337.1,1148.1 1337.4,1075 1336.3,1164.6 1338,1143.2 1335.7,1048.7 1336.2,960.9 1342.9,1094.3 1331.7,1098.2 1342.1,983.7 1340.9,986.7 1334,1150 1341.4,1070 1335.7,1028.4 1342,995.2 1335.8,1075.5 1339.6,1103 1332.2,1082.5 1338,1102.2 1329.8,1058.8 1333,1020.4 1340.8,1164.7 1332.5,1044.2 1334.7,1028.3 1328.3,935.8 1338,999.6 1342.7,1095.5 1342.6,1035.3 1342.8,962.9 1336.5,981.2 1338.9,1108.8 1330,1013.3 1333.7,968.4 1341.6,945.4 1334.2,1035.5 1332.2,1122.8"/><polyline class="m mg" points="1407.4,946 1397.5,955.9 1404.6,965.5 1403.6,975.2 1404.9,982.3 1397,986 1403.1,988.8 1403.1,999 1398.1,1031.9 1405.9,1031.9 1402.5,1049.2 1396.2,1091.5 1402.2,1093.8 1395.1,1132.4 1394.7,1162.2"/><rect class="s" x="1303.5" y="856.5" width="131" height="341"/><path class="k" d="M1303.5 866.5h-6.5M1303.5 931.5h-6.5M1303.5 998.5h-6.5M1303.5 1063.5h-6.5M1303.5 1129.5h-6.5M1303.5 1195.5h-6.5M1336.5 1197.5v6.5M1401.5 1197.5v6.5"/><text class="t" x="1290.2" y="874.1">1.0</text><text class="t" x="1290.2" y="939.3">0.8</text><text class="t" x="1290.2" y="1005.7">0.6</text><text class="t" x="1290.2" y="1071.1">0.4</text><text class="t" x="1290.2" y="1137.1">0.2</text><text class="t" x="1290.2" y="1202.9">0.0</text><text class="x" style="letter-spacing:-1px" x="1334.8" y="1226.3">PS</text><text class="x" style="letter-spacing:-.2px" x="1401.4" y="1226.3">Curated</text><text class="x" transform="translate(1249.1 1028.7) rotate(-90)">basal_dendrite_soma_percentile_y</text></g>
<g><rect class="b" x="1551.4" y="872" width="52.5" height="15.8" fill="#db8cb3"/><path class="b" fill="none" d="M1551.4 872H1603.9M1577.7 887.8V1181.7M1564.6 872H1590.8M1564.6 1181.7H1590.8"/><rect class="b" x="1617.1" y="873" width="52.5" height="36.1" fill="#77e2a4"/><path class="b" fill="none" d="M1617.1 891.7H1669.6M1643.3 873V872M1643.3 909V991.5M1630.2 872H1656.5M1630.2 991.5H1656.5"/><polyline class="m mp" points="1580.7,871.1 1576.8,871.1 1578.7,882.9 1578,880.1 1572,871.1 1580.7,892.6 1582.6,930.9 1576.2,884 1574.3,952.4 1579.3,907.7 1576.5,880.1 1583.3,871.1 1571.1,914.5 1571.6,1181.1 1573,871.1 1577.2,901.7 1581.6,878.4 1579.1,871.1 1573.6,871.1 1577.3,871.1 1574.8,891.3 1574.3,871.1 1581.7,871.1 1584.3,871.1 1574,883.5 1584.1,898.1 1573.7,871.1 1577.7,871.1 1581.1,871.1 1581.8,1033.9 1583.3,909.2 1573.8,874.4 1578.3,871.1 1575.5,874 1578.3,871.1 1574.4,872.2 1582.9,881.9 1578.5,880.8 1575,876.3 1582.6,881.9 1578.1,871.1 1580.2,871.1 1574.5,871.1 1577.8,882.7 1582.8,953 1578.2,945.6 1573.2,871.1 1582.6,871.1 1576.5,871.1 1583.8,886.8 1583.2,871.1 1580.2,884.9 1578,908.9 1582,873.3 1572.8,871.1 1581.8,994.7 1579.6,881.9 1578.8,885.2 1582.1,934.6 1580.8,871.1 1575.3,872.9 1583.4,871.1 1579.5,1018.1 1575.2,912.3 1582.4,905.5 1579.6,942.3 1581,871.1 1582.8,871.1 1580.3,887 1584.2,871.1 1577.7,883.8 1576.4,871.1 1576.4,978.9 1583.1,871.1 1571.2,1038.6 1581,871.1 1571.9,871.1 1576.3,909.4 1575.8,871.1 1583,871.1 1583,881.2 1582.1,910.6 1580,871.1 1572.8,923.8 1574.9,871.1 1579.7,891.3 1577.7,1005.9 1574.7,871.1 1576.8,1029.7 1572.1,871.1 1572.7,898.7 1578.4,883.1 1582.6,871.1 1577.9,883.1 1573.1,935.6 1574.6,871.1 1577.2,910.1 1571.8,878.7 1583.8,871.1 1577.6,871.1 1581.2,871.1 1583,878.4 1572.2,871.1 1583.4,871.1 1573.2,874.2 1576.6,871.1 1572.8,884.4 1581.6,871.1 1583.5,871.1 1572.7,885.3 1579.2,871.1 1573.2,876.4 1582.2,921.2 1580.8,871.1 1580.3,887 1571.6,920.6 1580.3,943.7 1573.5,876.4 1574.3,885.5 1579.7,871.1 1576.5,871.1 1574.2,871.1 1571.7,1059 1577.5,871.1 1571.4,871.1 1573.3,880.2 1574.8,871.1 1579,871.1 1571.7,972 1574.7,871.1 1574.4,871.1 1571.2,871.1 1582.9,1063.1 1573.8,871.1 1577.6,877.9 1582.6,886.6 1581.6,878.2 1575.1,871.1 1582.1,903.4 1579.1,889.5 1581.8,1049.2 1571.1,871.1 1579,893.8 1578.2,935.8 1574.7,871.1 1578.4,871.1 1576.7,871.1 1583.6,871.1 1575.9,871.1 1571.2,920.8 1574.9,1038.9 1582.5,871.1 1577.1,887.6 1584,954.3 1583.8,871.1 1571.2,988.8 1584,903.1 1580.8,871.1 1583.2,871.1 1574,947.9 1575.5,1069.1 1576.3,872.9 1575.3,871.1 1581.3,950.2 1581.7,871.1 1582.9,884 1578.3,871.1 1582.9,890.8 1571.7,921.7 1574.3,884.1 1570.8,1024.6 1583,906.3 1580.6,871.1 1576.6,923.7 1575,871.1 1572.4,871.1 1579.2,1056.6 1571.5,873.4 1582.9,884.1 1572.7,1096.2 1582.9,872.7 1577.2,871.1 1581.5,890.9 1571.2,871.1 1578.7,871.1"/><polyline class="m mg" points="1639.8,872 1647.2,871.1 1650,870.4 1646.9,882.4 1641.7,884.7 1637,888.4 1645.4,893 1637.6,893 1638.9,897.7 1649.1,940.4 1637.9,973 1645,981.9 1642,991.5"/><rect class="s" x="1544.5" y="856.5" width="132" height="341"/><path class="k" d="M1544.5 872.5h-6.5M1544.5 913.5h-6.5M1544.5 954.5h-6.5M1544.5 995.5h-6.5M1544.5 1036.5h-6.5M1544.5 1077.5h-6.5M1544.5 1119.5h-6.5M1544.5 1160.5h-6.5M1577.5 1197.5v6.5M1643.5 1197.5v6.5"/><text class="t" x="1531.6" y="879.6">1.0</text><text class="t" x="1531.6" y="920.7">0.9</text><text class="t" x="1531.6" y="962">0.8</text><text class="t" x="1531.6" y="1003.2">0.7</text><text class="t" x="1531.6" y="1044.3">0.6</text><text class="t" x="1531.6" y="1085.6">0.5</text><text class="t" x="1531.6" y="1126.8">0.4</text><text class="t" x="1531.6" y="1167.9">0.3</text><text class="x" style="letter-spacing:-1px" x="1576.2" y="1226.3">PS</text><text class="x" style="letter-spacing:-.2px" x="1642.7" y="1226.3">Curated</text><text class="x" transform="translate(1490.5 1028.7) rotate(-90)">basal_dendrite_frac_intersect_axon</text></g>
<g><rect class="b" x="1792.8" y="1040.4" width="52.5" height="90.9" fill="#db8cb3"/><path class="b" fill="none" d="M1792.8 1099.4H1845.3M1819 1040.4V872M1819 1131.3V1181.7M1805.9 872H1832.2M1805.9 1181.7H1832.2"/><rect class="b" x="1858.4" y="1067.2" width="52.5" height="61.3" fill="#77e2a4"/><path class="b" fill="none" d="M1858.4 1097.5H1911M1884.7 1067.2V916.8M1884.7 1128.5V1149.5M1871.6 916.8H1897.8M1871.6 1149.5H1897.8"/><polyline class="m mp" points="1824.1,1132.6 1822.7,1081.3 1817.1,1110 1822.2,1103.8 1824.6,1025.5 1823.6,1101.6 1817.1,1162.2 1821.4,951.2 1812.5,1138.1 1812.5,1013.1 1825,1068.4 1817.5,1115.8 1820,1105.7 1824.4,1018.3 1822.2,1106.8 1813.6,1140.5 1813.2,1113 1816.3,1166.8 1814.4,1103.6 1819.8,1106.4 1812.7,1049.2 1820.7,1126.5 1819.1,1036.1 1821,987.8 1825.3,1163 1815.8,1120.6 1815.5,1157.4 1821.7,1027.2 1818,1105.6 1819.3,1150.3 1817.8,1128.3 1817.7,944.7 1820,920.9 1822.5,1062.2 1815,1133.2 1823.6,1117.8 1813.5,984 1823.3,1149.6 1818.9,1053.4 1821,1118.6 1821.7,1011.6 1816.4,1126.3 1824.1,1165.6 1818.2,1093.6 1825.5,1090.8 1818.8,984.4 1813.5,1035.4 1816.5,1008.9 1819,1120.6 1813.9,955.7 1816.7,1161.9 1818.2,1061.6 1817.4,1047.3 1814.5,952.6 1818,1163.6 1823.4,1097.7 1813.5,900.5 1817.1,956.3 1824.6,1139.5 1821.2,1046.8 1812.7,1025.4 1818.5,906 1821.7,1152.8 1813.3,1036.8 1822.4,1130.8 1814.5,1160.1 1821.8,1123.5 1815.9,957.5 1821.7,1042 1816.1,1010.5 1822.5,1014.4 1817.6,1039.8 1813.5,1071.8 1823.4,1033.5 1815.2,1097 1814.1,1133.5 1822.7,1111.3 1822.6,1039 1820.3,1100.5 1815.3,1063.2 1824.1,1181.1 1820.2,1089.7 1813.1,1002.6 1816.4,1083.3 1817,1115.5 1819.8,1131.1 1820.6,1157.7 1821.6,1119.6 1825.2,1113.9 1821.9,1097.4 1824.6,1000.7 1819.1,1134.9 1818.5,884.1 1818.1,1106.6 1824.6,1132.3 1814.4,939.5 1819,1137.8 1823.4,1121 1815.7,1108.9 1819.1,1116.3 1812.9,1006.5 1824,1004.9 1822.6,969.2 1820.9,1156.5 1816.1,967 1813.8,1174.1 1822,1026.3 1819.1,1151.9 1816.1,1063.5 1820.1,1121.9 1813,1097.1 1814.7,1162.2 1817.9,1159.5 1819.4,1048.7 1824.4,1142.7 1817.3,1104.8 1823.9,1005.9 1820.2,1149.6 1813.2,1117.5 1812.5,1092.8 1823.6,1145 1821,1162.9 1824.1,938 1820.9,890.6 1815.5,1131.7 1824.9,995.8 1813.7,1059 1820.7,1148.2 1815.7,976.6 1815.3,1108.7 1819.4,1149.3 1818.3,998.1 1813.8,1141.8 1817.3,1003.6 1820.6,1120.7 1820,1073.1 1820.9,992.1 1813.5,1124.5 1824.1,1039.3 1816.1,1138.6 1818.3,1095.4 1817.6,1018.6 1814.2,1022.2 1825.5,1120.2 1822,1171.9 1822.8,1142.6 1825.1,1146 1821.4,1009.4 1824.3,1128.2 1819.8,1008.5 1815.2,1091.2 1817.7,1121.8 1813.3,1114.8 1814.6,1165.4 1818.5,1075.8 1822.4,1105.5 1815,1119.2 1816.7,1076.2 1825,1161 1823,1091.5 1822.9,1118.4 1821.7,1098.9 1820.3,1087.6 1821.5,1074.7 1823.2,1001.8 1818.8,1052.8 1824.8,1172 1812.6,1157.4 1823.9,1066.1 1820.2,1170.1 1818.8,1070.1 1818.9,1125.8 1816.8,1123.5 1816.4,1115 1816.4,1127 1813.4,1091.7 1817.1,1107.7 1822.1,1137.4 1814.2,1165.2 1824.4,1151 1824.7,1053.8 1819.2,997 1814.8,1117.4 1816.3,1112.4 1824.3,1152.9 1819.4,1094.8 1819.1,1085.4 1815.9,972.2 1825.3,1032.5 1824.7,1109.2 1816,1088.9 1816.5,1056.6 1821.9,1096.2 1825.3,1065.7 1822.3,1091.4 1817.9,1079.9 1818.9,1161.1 1815.6,1133 1817.7,1161.1 1817.7,1003.9 1813,1058.3 1818.5,1169.5 1821.5,1000.5 1819,1054.9 1816.1,1150.5 1813.1,1158.9 1815.7,1046 1824,1167.9 1820.4,1107.4 1816.9,981.2 1820.1,1065.9 1821.1,1154.4 1813.4,1014.5 1821.9,1063.7 1817.2,1162.4 1824.1,870.4 1817.7,962.9 1818.1,1033.6 1819.8,1056.6 1825.1,1076.3 1822.5,1097.8 1820.1,1071.7 1815.3,1010.8 1814.4,1074.9 1817.2,1005.4 1821.6,969.6 1815.7,949.1 1813.9,1005 1821.3,1102.7 1823.6,1125.7 1820.1,1147.2 1825.6,1120.6 1815,1031.9 1816.3,1110 1819.7,1094.7 1812.8,1109.7 1817,1027"/><polyline class="m mg" points="1877.8,915.9 1888.6,939.5 1886.7,999.5 1884.9,1056.6 1886.4,1069.2 1879.3,1071.5 1881.5,1092.8 1880.8,1100.3 1886.7,1119.8 1882.1,1124.4 1888.6,1128.5 1880.2,1135.6 1880.8,1142.7 1882.5,1149.5"/><rect class="s" x="1786.5" y="856.5" width="131" height="341"/><path class="k" d="M1786.5 915.5h-6.5M1786.5 984.5h-6.5M1786.5 1054.5h-6.5M1786.5 1124.5h-6.5M1786.5 1194.5h-6.5M1819.5 1197.5v6.5M1884.5 1197.5v6.5"/><text class="t" x="1772.9" y="922.9">800</text><text class="t" x="1772.9" y="992.3">600</text><text class="t" x="1772.9" y="1062.3">400</text><text class="t" x="1772.9" y="1132">200</text><text class="t" x="1772.9" y="1201.7">0</text><text class="x" style="letter-spacing:-1px" x="1817.5" y="1226.3">PS</text><text class="x" style="letter-spacing:-.2px" x="1884.1" y="1226.3">Curated</text><text class="x" transform="translate(1726 1028.7) rotate(-90)">axon_num_branches</text></g>
<g><rect class="b" x="2034.1" y="1175" width="52" height="7.1" fill="#db8cb3"/><path class="b" fill="none" d="M2034.1 1181.7H2086.1M2060.1 1175V872M2047.1 872H2073.1M2047.1 1181.7H2073.1"/><path class="b" d="M2099.1 1181.5H2151.1"/><path class="b" fill="none" d="M2099.1 1181.5H2151.1M2125.1 1181.5V1178.9M2112.1 1178.9H2138.1M2112.1 1181.7H2138.1"/><polyline class="m mp" points="2054.7,1153.8 2060.5,1181.5 2062.6,1181.5 2053.6,1153.9 2058.1,1175.4 2054.7,1171.2 2060.6,1153.7 2061.5,1181.5 2054.8,1175.7 2065.4,1181.5 2064.7,1181.5 2062.9,1159.6 2066.5,1176.8 2055.6,1177.4 2058.7,1165.6 2056,1181.5 2060,1179.2 2065.1,1180.9 2064.2,1181.5 2055.6,1181.5 2063.2,1048.2 2063.6,1168.3 2063.3,1152.8 2064.1,1176.3 2053.7,1181.5 2065.3,1181.5 2065.1,1181.5 2057.9,1181.5 2061.6,1181.5 2057.3,1177.8 2064.7,1117.9 2061,1181.5 2065.1,1180.3 2057.8,870.7 2059.7,1181.5 2060.9,1165.2 2064.4,1168.2 2062,1181.5 2054.9,1179 2057.2,1180.6 2057.7,1178.3 2058.1,1164 2055.8,1181.5 2054.6,1181.5 2056.8,1181.5 2057.1,1181.5 2059.7,1181.5 2061.8,1181.5 2064.5,1174.1 2059.6,1176.2 2059.6,1181.5 2057.8,1180.1 2056.7,1181.5 2064.8,1170.9 2063.7,1181.5 2054.8,1181.5 2060.1,1167.6 2061.9,1109.6 2059.1,1175.1 2063.1,1181.5 2056.6,1181.5 2061.9,1155.7 2065.1,1181.5 2065.9,1181.5 2063.8,1121.7 2065.6,1168.3 2057.8,1176.7 2062.7,1170.2 2056.6,1170.2 2061.7,1177.2 2058.8,1181.5 2057.2,1181.5 2061.1,1181.5 2061.9,1148.2 2064.4,1179.3 2062.1,1181.5 2057.4,1171.3 2063.5,1180.8 2060.3,1181.5 2059.9,1181.5 2054.4,1172.3 2065,1181.5 2056,1181.5 2059.3,1141.2 2058.4,1142.3 2056.6,1158.8 2066.5,1143.1 2054.2,1168.1 2062.5,1181.5 2055.3,1177.6 2060.5,1181.2 2059.1,1181.5 2053.8,1181.5 2062.4,1141.5 2063.8,1181.5 2056.1,1181.5 2056.3,1181.5 2061.1,1181.5 2066.5,1181.5 2061.5,1181.5 2056.3,1181.5 2053.6,1175.9 2055.3,1181.5 2057.9,1181.5 2060.4,1169.3 2065.8,1177.5 2056.3,1181.5 2052.6,1120.7 2054.5,1181.5 2059.1,1160.7 2060.2,1181.5 2065,1181.5 2058.2,1173.8 2065.5,1181.5 2061.9,1178.5 2059.5,1023.5 2062.4,1151.5 2061,1178.3 2058.8,1180.9 2055.9,1177.3 2063.3,1178.7 2063.4,1181.5 2064.2,1167.2 2065.4,1153 2062.5,1167.5 2058.8,1181.5 2055.8,1179.4 2065.8,1178.8 2066.1,1181.5 2057.6,1165.6 2054,1179 2061.8,1180.3 2057,1181.5 2064.5,1164.4 2060.2,1176.7 2062.9,1177.5 2063.9,1141.3 2059,1154.1 2066.4,1171.5 2057.3,1181.5 2065.1,1181.5 2058.6,1149.7 2062.8,1181.5 2056.5,1181.5 2062.8,1181.5 2063.3,1173.6 2057.3,1181.5 2056.2,1161.3 2062.3,1181.5 2055.5,1181.5 2059.3,1177.9 2063.1,1176.1 2065.1,1181.5 2054.5,1181.5 2065.3,1145.2 2055,1171.9 2061.9,1139.2 2066.5,1177 2063.2,1178.1 2066.3,1177.2 2063.8,1181.5 2060.6,1175 2057.9,1181.5 2058.3,1181.5 2059.2,1154.3 2055.5,1181.5 2056,1089.1 2062.6,1181.5 2063.6,1181.5 2064.6,1181.5 2057.4,1141.3 2062.9,1179.4 2063.1,1172.5 2066.6,1181.5 2060.5,1171.7 2062.2,1181.5 2056.1,1160.7 2059.2,1175.2 2060.4,1164.9 2058.6,1171 2055.7,1180.4 2054.3,1171.5 2053,1125.7 2054.3,1177.5 2063.3,1181.5 2063.8,1133.7 2054.7,1181.5 2056.4,1180.2 2054.4,1181.5 2060.7,1180.5 2054,1181.5 2055.2,1160.4 2063,1167.7"/><polyline class="m mg" points="2124.3,1178.3 2119.7,1181.1 2129,1181.1 2124.3,1181.5 2122.1,1180.8 2126.6,1181.1 2120.6,1181.5 2128.1,1181.5 2123.4,1180.2 2125.3,1181.1"/><rect class="s" x="2027.5" y="856.5" width="130" height="341"/><path class="k" d="M2027.5 915.5h-6.5M2027.5 981.5h-6.5M2027.5 1048.5h-6.5M2027.5 1114.5h-6.5M2027.5 1181.5h-6.5M2060.5 1197.5v6.5M2125.5 1197.5v6.5"/><text class="t" x="2014.3" y="922.9">0.4</text><text class="t" x="2014.3" y="989.5">0.3</text><text class="t" x="2014.3" y="1056">0.2</text><text class="t" x="2014.3" y="1122.6">0.1</text><text class="t" x="2014.3" y="1189.3">0.0</text><text class="x" style="letter-spacing:-1px" x="2058.6" y="1226.3">PS</text><text class="x" style="letter-spacing:-.2px" x="2124.5" y="1226.3">Curated</text><text class="x" transform="translate(1973.2 1028.7) rotate(-90)">axon_frac_below_basal_dendrite</text></g>
<g><rect class="b" x="103.3" y="1371.5" width="52.5" height="48" fill="#db8cb3"/><path class="b" fill="none" d="M103.3 1393.1H155.8M129.5 1371.5V1297.4M129.5 1419.5V1608.7M116.4 1297.4H142.7M116.4 1608.7H142.7"/><rect class="b" x="168.9" y="1398.3" width="52.5" height="21.2" fill="#77e2a4"/><path class="b" fill="none" d="M168.9 1408.9H221.4M195.2 1398.3V1350.7M195.2 1419.5V1452.7M182 1350.7H208.3M182 1452.7H208.3"/><polyline class="m mp" points="127,1377.1 127.7,1365 124.8,1415 134,1377.3 135.2,1477.7 123.7,1376.5 123,1608.1 126.6,1383.7 124.2,1378.7 130.2,1408.7 128.4,1413.7 128.2,1401.6 135.8,1389.6 123.2,1465.2 125.5,1420.9 129.6,1362.9 126.4,1395.3 132.9,1355.4 125.3,1364.9 133.6,1389.5 132.1,1361.2 132.4,1339 128.2,1331.4 131.8,1410.1 132.3,1490.1 132.8,1398.3 124.8,1428.2 133.1,1363.7 128.6,1365.5 135,1383.5 130.4,1414.3 125.5,1436.9 126.4,1389.5 123.8,1375.7 134.3,1488.1 128.1,1415.2 130.5,1405.2 121.2,1494.8 124.8,1455.5 134,1376.1 126.4,1345 126.7,1415.9 135.7,1349.2 123.3,1392.8 124.6,1392 134.3,1405.5 128.5,1407.6 125.4,1360.2 125.9,1466.4 126.6,1420.4 127,1399.5 129.2,1417 128.7,1371.1 125.6,1342.5 136,1360 133.6,1422.3 135.2,1424.3 130,1370.5 123.8,1329.1 135.1,1391.6 125.9,1340.1 131.3,1380.7 130.7,1344.9 132.4,1375.4 134.3,1416.2 133.7,1409.1 132.6,1362 123.7,1383.6 128.6,1384.1 129.8,1385.1 134,1387.6 129.2,1421.7 131.3,1453.5 128.8,1437.7 130.5,1381.9 135.6,1395 134.2,1367.9 131.6,1378.1 131.5,1412 124.9,1350.9 125.2,1523.6 124.6,1359.6 134.6,1388.9 127.6,1381.1 129.1,1450.8 127.8,1426.6 132.1,1334.3 131,1423.7 126.2,1385.2 125.6,1392.2 132.1,1396.1 133.3,1404.5 133.1,1432.9 132.7,1363.7 131.9,1380 132.3,1389.2 129.4,1430.7 131.4,1408.6 125.3,1417.5 130.9,1374.9 128.5,1365.4 133.5,1393.3 131.7,1480.7 123.2,1441.7 128.6,1422.4 132.1,1402.3 127.1,1380 133.7,1453.4 136,1395.4 124.5,1387.6 127.7,1330.6 130.4,1330.5 134.3,1379.7 124.6,1425.8 135.5,1369.8 123.3,1342.1 128,1350.3 123.2,1405.9 124.3,1489.1 131.5,1451.2 134,1350.6 133.3,1390.4 124.3,1404.9 123.4,1365.7 131.8,1551.1 131.1,1414.9 123.7,1406.9 130.8,1454.2 135,1401.2 123.8,1354.3 134.3,1373.2 130.9,1474.6 123.7,1407.7 126.4,1471.2 134.1,1405.6 126.5,1376.2 126.6,1401.5 124.3,1349.7 126.3,1436.9 135.3,1387.9 128.1,1395.5 132.4,1449.3 125.2,1396.1 126.4,1311.7 126.5,1370.8 124.9,1377.2 124.5,1418 130.8,1325.7 135.3,1372.9 126.2,1381 124.3,1359.8 124.3,1400.7 134.5,1410.2 124.1,1349.2 126.2,1380.8 123.3,1433.2 134.5,1472.9 129.3,1389.4 129.7,1349.1 129.2,1444.1 127.1,1373.5 127.8,1361.7 123.1,1377.3 133.9,1375.9 128,1430.2 135.5,1395.4 130.6,1396.5 126.7,1341.5 134.2,1317.2 134.8,1438.4 135.7,1412.8 124.9,1488.2 127.7,1378.8 126.1,1335.2 134.9,1414.8 123.6,1340.8 133.6,1393.8 135.5,1358.4 128.5,1425.7 130.7,1385.8 122.9,1330.4 135.4,1398.6 133.3,1361.5 122.1,1551.1 128.8,1464.8 127.9,1358.6 124.3,1512.4 124,1422.9 128.2,1354.1 130.8,1401.7 125.8,1360.3 134.5,1322.8 135.6,1371.8 130.7,1431.3 133.7,1450.1 126.8,1442.8 126.6,1406.2 126.2,1329.6 129.8,1366.5 123.6,1344.5 128.5,1461.3 132.2,1380.3 125.5,1425 124.9,1381.2 124.8,1464.8 126.3,1332 131.1,1410.4 125.7,1384.5 125.4,1417 126.2,1404.2 128.5,1352.3 133.2,1413.1 133.2,1311.7 126.8,1407.9 123.8,1440.4 134.3,1398.6 129.5,1433.1 134.2,1451.5 131.9,1410.1 123,1301.4 129.9,1427.4 135.2,1380.4 132.3,1424.6 132.7,1434.5 136.1,1398.4 132.6,1383.7 123.6,1296.8 133.4,1444 130.4,1338.9 123.4,1450.3 124,1462.5 123,1497.5 129.7,1390.1 134.3,1378.3 124.9,1371.7 133.1,1390.5 127.6,1404.9"/><polyline class="m mg" points="200.4,1349.8 191.6,1388.4 200.9,1392.2 200,1400.9 189.8,1405.2 201.9,1407 192.6,1408.9 189.8,1413.9 197.2,1417.6 192.6,1422.6 197.2,1433 190.7,1436.2 195.4,1451.1"/><rect class="s" x="96.5" y="1282.5" width="132" height="341"/><path class="k" d="M96.5 1310.5h-6.5M96.5 1350.5h-6.5M96.5 1391.5h-6.5M96.5 1431.5h-6.5M96.5 1471.5h-6.5M96.5 1511.5h-6.5M96.5 1552.5h-6.5M96.5 1592.5h-6.5M129.5 1623.5v6.5M195.5 1623.5v6.5"/><text class="t" x="83.4" y="1318">0.900</text><text class="t" x="83.4" y="1358.3">0.875</text><text class="t" x="83.4" y="1399.6">0.850</text><text class="t" x="83.4" y="1439.2">0.825</text><text class="t" x="83.4" y="1479.1">0.800</text><text class="t" x="83.4" y="1519.1">0.775</text><text class="t" x="83.4" y="1560">0.750</text><text class="t" x="83.4" y="1599.9">0.725</text><text class="x" style="letter-spacing:-1px" x="128" y="1653.2">PS</text><text class="x" style="letter-spacing:-.2px" x="194.6" y="1653.2">Curated</text><text class="x" transform="translate(19 1454.9) rotate(-90)">axon_mean_contraction</text></g>
<g><rect class="b" x="344.6" y="1434.3" width="52.5" height="85.1" fill="#db8cb3"/><path class="b" fill="none" d="M344.6 1479.3H397.1M370.9 1434.3V1297.4M370.9 1519.5V1608.1M357.8 1297.4H384M357.8 1608.1H384"/><rect class="b" x="410.3" y="1426.2" width="52.5" height="52" fill="#77e2a4"/><path class="b" fill="none" d="M410.3 1454.4H462.8M436.5 1426.2V1399.4M436.5 1478.2V1532.7M423.4 1399.4H449.7M423.4 1532.7H449.7"/><polyline class="m mp" points="370.1,1404.7 374.3,1555 373.4,1506.8 368,1391.7 376,1385.6 367.5,1488.2 376.8,1399 370.1,1535.9 372,1412.2 370.7,1563.8 368.8,1494.1 377,1308.9 373.7,1420.9 369,1496 372.3,1531.2 369.1,1509.8 369.3,1505 372.2,1398.8 373.7,1437.7 369.3,1410.7 375.8,1493.3 366.7,1467.3 368.5,1347.9 374.8,1513.1 370.3,1296.8 365.6,1543.8 372.7,1501.4 365.9,1437 375.7,1490.3 375.6,1381.6 374,1416.4 375.9,1559.8 364.9,1454.6 376.5,1502.7 373.1,1361.3 372.1,1512.2 373.7,1514 366.2,1426.2 365.8,1487.9 368.9,1511.2 369.6,1477.4 372,1532.2 366.5,1449.2 372.8,1523.5 376.2,1500.9 364.5,1539.4 369.8,1455.4 373.5,1397.8 365,1486.7 366.5,1485.4 368.6,1578.4 370.4,1389.8 372.9,1440.3 369,1434.5 365.3,1549.5 373.3,1432.8 377.5,1551.5 364.9,1571.5 374.5,1478.4 370.5,1517.2 365.2,1487.7 369.6,1480.7 368.3,1502.1 368.6,1521.9 373.5,1382.9 376.1,1406.6 369,1585.8 375.6,1437.1 368.3,1400.4 364.5,1510.5 372.4,1493.3 375,1417.1 371.5,1534.2 372.1,1559.5 368.3,1435.7 374.3,1416.6 366.6,1539 367.5,1547.3 366.5,1519 371.8,1587.7 372.3,1490.6 374.6,1541.1 376.6,1517.6 366.3,1500.9 368.5,1437.5 376.4,1432.3 368.3,1439.1 369.1,1449.6 367.7,1403.2 371.6,1522.4 370.1,1436.8 366.5,1582.1 368.5,1401.1 365.7,1526.4 365.7,1607.8 364.4,1376.7 372.8,1437.1 368.2,1556.3 374,1385.2 374,1474.8 365.2,1403.9 369.1,1555.7 367,1471.4 376.6,1465.3 375.2,1478.6 377.4,1452.8 367.9,1385.4 373,1414.8 368.9,1465 372.2,1444 366.2,1444.1 371.6,1449.2 366,1409.9 366.4,1496.7 376.3,1532 375.9,1404.2 364.3,1424.7 370.7,1476.6 370.4,1490.6 367.2,1385.3 373.9,1544.3 368.7,1507.1 371.3,1514 371,1545.1 371.9,1429.1 370.3,1537.9 373.7,1382.2 375.4,1547.3 377,1547.4 369,1541.2 370,1448.6 376.3,1527.8 377.4,1449.1 365.1,1381.3 374.7,1491.1 368.3,1478.8 373.3,1495.6 373,1575.3 368.6,1536.5 367.8,1387.9 369.8,1456.7 376,1532 371.8,1508 367.8,1387.4 372.9,1556.6 369,1506.1 371,1495.3 365.7,1356.3 367.4,1567.5 374.4,1467.4 373.6,1513.5 372.7,1382.6 376.1,1460.7 374.2,1504 377.3,1481.8 371,1458.4 371.3,1460.6 370.9,1441.8 368.9,1449.7 377.3,1432.5 366.2,1444 367.7,1448.6 369.4,1517.7 368.6,1511 374,1545.4 365.6,1555.4 376.4,1410 376.7,1553.1 375.5,1489.3 366.7,1398.8 373.1,1591 368.3,1485 367,1450.3 371,1456.7 372.3,1426.3 373.2,1444.5 370.7,1488.2 377.2,1524.1 373.6,1444.3 371.9,1479.3 367.8,1454.7 372.1,1457.9 371.1,1378.7 370.4,1509.9 367.4,1572.3 367.6,1483.3 373.7,1492.7 365.6,1514.7 366.7,1454 369.6,1537.3 365.9,1450.4 371.2,1426.8 373.3,1401.8 372.8,1543.6 365.5,1572.5 364.6,1394.4 371.5,1531.9 364.5,1437.1 370.9,1371.1 373.4,1399.5 371.3,1387.6 373.9,1545 375.7,1426.3 366.6,1494.6 369.9,1424.7 376.7,1407.8 372.5,1508.5 370.4,1517.7 368.7,1456.5 370.9,1451.2 375.6,1398.1 372.2,1418.2 373.8,1543.9 365.8,1490.9 374,1482.9 366.6,1444.1 370.4,1459.5 364.5,1527.7 365.4,1492.3 370.9,1475.5 367.2,1516.1 366.6,1453.7 371.4,1539 376.8,1319.1 370.8,1571.5 365.4,1422.2 364.4,1397.7 365.1,1421.7 371.1,1521.1 370.1,1415.9 370.3,1390.8 367.5,1457.1"/><polyline class="m mg" points="433.9,1398.7 441.4,1403.3 432.1,1404.6 441,1422.6 441.4,1426.9 433,1435.3 440.1,1435.6 435.8,1444.2 432.1,1463.2 439.9,1465.9 429.7,1469.7 442.9,1474.3 432.1,1485.5 438.6,1500.7 442.3,1514.8 436.7,1531.9"/><rect class="s" x="338.5" y="1282.5" width="131" height="341"/><path class="k" d="M338.5 1307.5h-6.5M338.5 1357.5h-6.5M338.5 1407.5h-6.5M338.5 1458.5h-6.5M338.5 1507.5h-6.5M338.5 1557.5h-6.5M338.5 1607.5h-6.5M370.5 1623.5v6.5M436.5 1623.5v6.5"/><text class="t" x="324.8" y="1315.6">800</text><text class="t" x="324.8" y="1364.8">700</text><text class="t" x="324.8" y="1415.6">600</text><text class="t" x="324.8" y="1465.7">500</text><text class="t" x="324.8" y="1515">400</text><text class="t" x="324.8" y="1565.6">300</text><text class="t" x="324.8" y="1614.8">200</text><text class="x" style="letter-spacing:-1px" x="369.4" y="1653.2">PS</text><text class="x" style="letter-spacing:-.2px" x="435.9" y="1653.2">Curated</text><text class="x" transform="translate(277.8 1454.9) rotate(-90)">axon_max_euclidean_distance</text></g>
<g><rect class="b" x="586" y="1508.5" width="52.5" height="52.2" fill="#db8cb3"/><path class="b" fill="none" d="M586 1540.7H638.5M612.2 1508.5V1297.4M612.2 1560.7V1608.1M599.1 1297.4H625.4M599.1 1608.1H625.4"/><rect class="b" x="651.6" y="1456.7" width="52.5" height="42.8" fill="#77e2a4"/><path class="b" fill="none" d="M651.6 1487.3H704.2M677.9 1456.7V1407.8M677.9 1499.4V1510M664.8 1407.8H691M664.8 1510H691"/><polyline class="m mp" points="616.2,1484.9 612.7,1571.6 608.8,1533.3 606.5,1540.6 610.5,1568.3 615.7,1573.7 615.4,1562.8 609.8,1480.3 605.7,1492.3 606,1536 610.2,1512.2 616.9,1477.9 618.6,1521.8 605.7,1526.3 613.2,1424.1 608.5,1524.6 611.8,1579 616.8,1589.8 615,1579.1 616.4,1516 610.8,1509.3 616.9,1493.8 613,1502.5 616,1559.3 613.5,1505.2 615,1467.8 616.4,1550.5 611.6,1577.8 606.7,1514.6 613.5,1544.5 612,1522.1 618.1,1533.9 614.3,1522.5 618.8,1497.7 618.8,1570.7 611.6,1515.8 616.6,1541 608.9,1554.5 614.8,1590.5 616.9,1552.6 606.5,1549.7 615.5,1591.3 609.6,1483.3 607.5,1543.6 613.2,1607.8 609.7,1548.2 615.8,1525.3 615,1501.7 613.3,1500.3 617.3,1543.7 606.6,1522 610.9,1486.7 607.1,1546.2 610.3,1537.5 617.9,1555.7 609.2,1473.7 613.8,1557.8 610.3,1580.6 616.5,1588.1 607.4,1527.8 614.5,1491.2 608.5,1497.4 612,1552.9 606.1,1523.9 617.9,1497 617.9,1525.4 607.9,1567.8 615.8,1542.5 616.5,1565.6 606.2,1580.6 614.7,1574.3 610.9,1588.5 605.9,1575.2 608.5,1436.8 615.9,1520.7 617.2,1521.9 617,1519 612.2,1583.8 613.2,1585.1 606.6,1539.5 611.5,1546.7 606.2,1535.9 612.6,1517.2 615.8,1587 607.3,1524.6 617.7,1538.9 609.5,1456.7 613.8,1500 617.2,1499.7 616.1,1522.5 614.6,1558.5 617.6,1535.2 605.8,1584.6 618.3,1525.5 613.2,1551.3 605.7,1530.9 608,1584.7 611.6,1526.1 614.1,1558.8 606.2,1537.3 613,1544.9 610.2,1581.1 610.8,1573.9 608.1,1472.8 618.3,1585.8 616.8,1501.7 617.2,1516.4 613.7,1549.2 614.2,1557.8 605.8,1506.1 608,1556.1 616.3,1595.5 617.6,1473.8 611.5,1547.3 604.8,1462.2 607.1,1554.4 616.9,1563.2 613.5,1541.1 615.5,1512 605.9,1562.4 607.5,1581.8 608,1607.2 608.1,1542 617.3,1300.5 616.1,1551.6 605.9,1543 611.1,1580.7 611.1,1488.7 609.4,1530.2 616,1560.1 618.6,1508.5 616,1435.3 614.6,1582.9 614.2,1569.5 612.6,1484.9 605.7,1500 614.9,1489 616.4,1501.7 606.6,1578.2 616.7,1545.2 616.1,1548.9 607.2,1551 610.5,1500.4 614.8,1480.1 610.4,1527.9 613.7,1446.1 612.2,1549.3 605.7,1483.6 611.5,1557.7 605.7,1492.6 617.5,1499.3 617.3,1539.6 606.3,1297.4 614.3,1557.3 618.2,1501.2 606.8,1572.2 607.2,1568.6 609,1513.8 613.2,1518.2 608.2,1520.9 613.6,1588 614.9,1548.3 617.2,1476.1 611,1547.6 618.5,1587.8 618.7,1551.1 609.7,1519.9 617.4,1557.6 609.4,1567.1 610,1504.6 608.9,1403.7 617.3,1568 607.1,1479.8 616.3,1513.3 610.2,1591.5 618.1,1541.1 610.7,1567 617.4,1590.4 608,1421.3 618.4,1523.1 613.8,1560.7 612.3,1581.1 616,1563.8 611.7,1551.1 616.7,1586.1 606.3,1478.8 618.8,1561.3 610.1,1490.8 615.1,1544.3 615.7,1565.7 609.5,1568.8 617.8,1429.7 606.2,1543.6 611.6,1508.8 618.3,1562.8 613.1,1541.4 612.9,1513.1 611.4,1553.9 614.5,1484.9 613.1,1504.3 617.1,1541.2 615.2,1511.5 606.5,1554.8 615.6,1464.1 615.1,1545.8 613.4,1591.4 607.8,1507.9 615.9,1581.6 616.2,1488.7 614.9,1550.5 617.1,1510.7 606.7,1601.1 610.5,1550 613.6,1496.6 606.3,1535.9 604.3,1432.1 616,1580.9 605.7,1498.9 615.5,1547.3 613.9,1591.1 610.6,1585.4 613.2,1506.9 608.8,1556 611,1536 609.4,1543.8 612,1536.5 612.6,1541.5 611.9,1586.7 607,1511.6 613.6,1530.8 613.3,1526.3"/><polyline class="m mg" points="679.4,1406.8 674.4,1441.2 676.2,1455.7 681.4,1455.3 681.8,1458.5 670.6,1481.7 681.8,1482.7 668.8,1485.5 676.2,1487.3 682.7,1488.8 679.9,1495.7 676.2,1501.3 684,1501.3 673.4,1506.8 671,1510.6"/><rect class="s" x="579.5" y="1282.5" width="131" height="341"/><path class="k" d="M579.5 1330.5h-6.5M579.5 1383.5h-6.5M579.5 1436.5h-6.5M579.5 1488.5h-6.5M579.5 1542.5h-6.5M579.5 1595.5h-6.5M612.5 1623.5v6.5M677.5 1623.5v6.5"/><text class="t" x="566.1" y="1338.2">2000</text><text class="t" x="566.1" y="1391.2">1500</text><text class="t" x="566.1" y="1444.4">1000</text><text class="t" x="566.1" y="1496.4">500</text><text class="t" x="566.1" y="1549.8">0</text><text class="t" x="566.1" y="1602.7">−500</text><text class="x" style="letter-spacing:-1px" x="610.7" y="1653.2">PS</text><text class="x" style="letter-spacing:-.2px" x="677.3" y="1653.2">Curated</text><text class="x" transform="translate(503.9 1454.9) rotate(-90)">axon_depth_pc_4</text></g>
<g><rect class="b" x="827.3" y="1470.2" width="52.5" height="76" fill="#db8cb3"/><path class="b" fill="none" d="M827.3 1508.1H879.9M853.6 1470.2V1297.4M853.6 1546.2V1608.1M840.5 1297.4H866.7M840.5 1608.1H866.7"/><rect class="b" x="893" y="1494" width="52.5" height="28.3" fill="#77e2a4"/><path class="b" fill="none" d="M893 1511.5H945.5M919.3 1494V1407.8M919.3 1522.3V1583.4M906.1 1407.8H932.4M906.1 1583.4H932.4"/><polyline class="m mp" points="850.6,1469.5 853.7,1540.3 849.2,1442.7 848.6,1483.4 851.6,1581.1 854.7,1575.6 850,1483.9 852.2,1507.6 854.1,1558 849.1,1530.5 856.8,1542.3 852,1455.5 850.9,1526.1 850.5,1525 853.9,1523.6 851.4,1465.5 858.8,1473.3 855.9,1476 848.9,1460.8 857.4,1574 853.2,1414.1 856.8,1583.3 858,1562.7 855,1563.7 855.7,1519.4 848.3,1492.2 848.8,1534.5 858.6,1447.8 859,1573.5 850.5,1498.1 847.4,1460.1 858.2,1532.5 857,1450.2 858,1436.3 852.1,1538.7 854.1,1580.8 852.5,1517.5 851.9,1499.6 859.7,1567.8 847.7,1584.9 848.6,1486.2 854.6,1460.7 853,1478.6 851.2,1577.8 858.8,1534.9 852.4,1507.6 849.5,1578.9 854.1,1429.7 847.2,1463.5 847.5,1533.7 848.9,1463.2 853.8,1438.5 857.8,1522.5 858.4,1494.2 855.1,1573.5 857.5,1505.9 847.5,1501.8 859.5,1557.7 857.9,1512.4 852,1489.1 856.2,1525.5 848.7,1563.6 855.6,1550.9 848.5,1581.2 848.3,1463.9 850.5,1570.8 852.3,1505.1 856.4,1517.8 853,1381.4 857.1,1477.3 857,1386.9 853.3,1565.3 850.5,1432.1 847.7,1503.3 851.6,1430.4 853.7,1561.8 856.6,1584.3 854.1,1527.2 849.3,1550.9 851.8,1467.1 848.8,1529 858.9,1570.8 857,1488.4 858.4,1574.3 857.8,1416.7 851.9,1580.7 852.5,1439.6 847.7,1528.4 855,1427.9 853.4,1426.5 854.2,1370.2 847.9,1489.8 858.8,1525.5 854.6,1495.8 857.3,1487.9 853.8,1580.2 855.6,1536.7 851.6,1585.2 852.4,1567.7 857.3,1500.5 859.1,1550.5 847.7,1500.4 851,1505.7 850.6,1478.6 852.1,1533.8 856.3,1580.4 856.8,1467.2 850.8,1486.2 847.5,1441.2 847.5,1353.5 859.8,1550.7 852.3,1482.1 859.1,1493.1 849.3,1575.9 853.2,1469 850.6,1481.8 856.9,1564.2 859.4,1471.1 856.3,1547.5 855.1,1515.8 847.8,1504.8 857.3,1601.6 859.5,1493.1 849.8,1570.4 857.5,1552.9 847.7,1512.6 858.4,1492 847.7,1475 847.3,1529.2 857.9,1530.2 849.9,1507.1 850.1,1535.5 850.3,1520 856.2,1426.1 853,1491.4 856.4,1475.1 855.9,1535.6 847.8,1448.2 858,1570.1 853.5,1516.5 857,1300.5 847.7,1445.3 854.8,1444.1 849.4,1488.4 857.8,1467.4 857.7,1544.1 852.6,1539.7 855.5,1495.5 858.3,1414.3 860.1,1502.5 847.7,1538.9 850.7,1562.1 858.1,1415.1 851,1541.8 851.2,1411.6 858.9,1475.5 850.4,1426.9 851.1,1467.1 858.9,1539.9 849.7,1520.7 859.2,1543.7 858.4,1533.3 856.5,1586.3 847.1,1540 847.3,1481.8 855.1,1540.4 858.7,1586.6 852.2,1455.1 847.4,1541.1 860.1,1433.2 848,1595.1 853.7,1452.6 849.4,1555.9 851.9,1456.3 853.2,1535.2 857.4,1546.7 854.9,1477 853.8,1517.7 856.1,1436 856.8,1587 850.9,1519.8 849.8,1493.2 851.6,1489.2 851.4,1478.7 847.4,1523.8 858.6,1417.3 848.6,1373.4 855.2,1516.4 855.2,1415.9 854.6,1540.6 848.5,1582.7 853.9,1444.4 850.8,1296.8 857.1,1554.4 850.5,1426.4 855.9,1492.9 849.3,1512.2 850.1,1468.4 853,1400 856,1424.6 849,1538.3 857.4,1497.4 854.8,1581 853.1,1542.9 856.7,1514.4 856.8,1565.7 852.6,1491 858.1,1479.4 857.2,1453.1 853,1607.6 856.7,1567.8 853.8,1586.4 852.8,1570.5 855.5,1492.1 853.6,1305.5 856.3,1559.1 852.1,1491.4 853.7,1513.5 849.3,1448.8 851.4,1510.8 858.8,1483.8 851.8,1439 854.9,1529.8 850.3,1569.2 850.9,1415.7 853.9,1555.9 854.5,1595.1 850.8,1493 855.3,1442.4 850.9,1504.8 858.1,1555.4 850.2,1422.4 847.7,1463.2 848.3,1437.5 854.4,1452.3 850.1,1569.3 851.7,1530.6"/><polyline class="m mg" points="912.9,1407.4 923.2,1446.4 916.7,1464.1 913.9,1485.5 924.6,1496.2 923.2,1501.3 912,1507.8 918.5,1509.3 922.2,1512.4 915.4,1516.7 924.1,1528.2 921.9,1532.9 920.4,1553.3 923.2,1582.1"/><rect class="s" x="820.5" y="1282.5" width="132" height="341"/><path class="k" d="M820.5 1305.5h-6.5M820.5 1355.5h-6.5M820.5 1406.5h-6.5M820.5 1455.5h-6.5M820.5 1506.5h-6.5M820.5 1555.5h-6.5M820.5 1605.5h-6.5M853.5 1623.5v6.5M919.5 1623.5v6.5"/><text class="t" x="807.5" y="1312.8">1600</text><text class="t" x="807.5" y="1363.3">1400</text><text class="t" x="807.5" y="1414.1">1200</text><text class="t" x="807.5" y="1463.3">1000</text><text class="t" x="807.5" y="1513.9">800</text><text class="t" x="807.5" y="1563.1">600</text><text class="t" x="807.5" y="1613.3">400</text><text class="x" style="letter-spacing:-1px" x="852.1" y="1653.2">PS</text><text class="x" style="letter-spacing:-.2px" x="918.7" y="1653.2">Curated</text><text class="x" transform="translate(748.9 1454.9) rotate(-90)">axon_max_path_distance</text></g>
<g><rect class="b" x="1068.7" y="1482.1" width="52.5" height="58.6" fill="#db8cb3"/><path class="b" fill="none" d="M1068.7 1515.6H1121.2M1095 1482.1V1297.4M1095 1540.7V1608.1M1081.8 1297.4H1108.1M1081.8 1608.1H1108.1"/><rect class="b" x="1134.4" y="1507.4" width="52.5" height="33.3" fill="#77e2a4"/><path class="b" fill="none" d="M1134.4 1524.1H1186.9M1160.6 1507.4V1482.1M1160.6 1540.7V1574.3M1147.5 1482.1H1173.7M1147.5 1574.3H1173.7"/><polyline class="m mp" points="1097.4,1406.1 1098.9,1540.8 1096.4,1355.6 1092.3,1465.1 1094.6,1414.5 1095.8,1557.7 1090.2,1549.3 1097.8,1507.2 1098.8,1515.6 1095.4,1423 1095.2,1448.2 1098.5,1481.9 1096.4,1515.6 1091.4,1557.7 1094.6,1431.4 1091.6,1423 1091.7,1557.7 1089.2,1498.7 1098,1473.5 1099.1,1406.1 1097.1,1566.1 1089.1,1574.5 1092.7,1507.2 1090,1473.5 1095.6,1406.1 1093.8,1549.3 1096.9,1481.9 1097.1,1507.2 1092.3,1372.4 1092.3,1515.6 1101.3,1582.9 1099.1,1532.4 1094.9,1498.7 1089.8,1397.7 1090.5,1566.1 1090.7,1557.7 1100.7,1549.3 1089.4,1498.7 1096.5,1532.4 1092.6,1524 1096.8,1481.9 1089.3,1364 1096.3,1540.8 1094.5,1532.4 1095.1,1574.5 1099.7,1540.8 1101,1540.8 1089.7,1498.7 1088.9,1507.2 1093.7,1465.1 1094.1,1498.7 1092.1,1380.9 1098.3,1414.5 1100.3,1431.4 1100.9,1473.5 1096.6,1524 1091.9,1448.2 1100.7,1549.3 1089.8,1498.7 1093.9,1406.1 1096.2,1532.4 1101.2,1515.6 1092.4,1431.4 1095,1481.9 1097.6,1439.8 1095.2,1532.4 1090.6,1431.4 1095.8,1481.9 1092.5,1406.1 1100.1,1524 1090.6,1490.3 1095.3,1490.3 1093.8,1414.5 1095.5,1557.7 1097.2,1498.7 1097.8,1515.6 1088.9,1507.2 1095.3,1473.5 1089.4,1456.6 1095.6,1524 1097.2,1439.8 1099.8,1507.2 1095.8,1549.3 1094.9,1456.6 1091.6,1566.1 1093.8,1532.4 1098.6,1524 1100.6,1557.7 1091.8,1507.2 1094.2,1515.6 1101,1448.2 1091.3,1456.6 1101.4,1540.8 1100.6,1456.6 1091.9,1540.8 1094.6,1557.7 1092.6,1566.1 1100.6,1490.3 1093.2,1524 1094.5,1549.3 1089.6,1582.9 1100.5,1532.4 1089.4,1524 1100,1372.4 1096.5,1473.5 1100.6,1515.6 1091.7,1431.4 1097.2,1423 1101.3,1355.6 1097.5,1490.3 1092.6,1456.6 1099,1540.8 1094.2,1549.3 1089.4,1532.4 1094.6,1574.5 1098.8,1364 1099.5,1465.1 1093.8,1549.3 1095.5,1507.2 1096.9,1490.3 1096.4,1540.8 1095.7,1515.6 1090.1,1524 1091.3,1397.7 1092.3,1448.2 1100.1,1355.6 1093.9,1481.9 1089.6,1608.2 1088.6,1456.6 1097.4,1456.6 1100.3,1532.4 1099.3,1566.1 1093.4,1465.1 1090.7,1540.8 1095.6,1448.2 1094.9,1549.3 1101,1507.2 1090.5,1549.3 1097.2,1574.5 1100.4,1557.7 1095.9,1515.6 1101.2,1574.5 1094.1,1566.1 1094.6,1540.8 1097.8,1423 1094.6,1507.2 1101.3,1549.3 1099.9,1515.6 1101.1,1397.7 1089.7,1532.4 1092.3,1524 1090.2,1540.8 1094.9,1566.1 1101.1,1498.7 1089.8,1532.4 1097.8,1549.3 1098.8,1448.2 1099.2,1591.4 1090,1481.9 1100.2,1465.1 1091.3,1465.1 1089.9,1465.1 1099.6,1549.3 1095.7,1498.7 1095.8,1532.4 1089,1507.2 1098.1,1414.5 1097.7,1540.8 1091.5,1473.5 1098.5,1515.6 1089.9,1515.6 1099.6,1439.8 1095.2,1338.8 1094,1574.5 1100.9,1448.2 1097.8,1397.7 1091.1,1515.6 1097.7,1380.9 1091.6,1490.3 1099.3,1582.9 1100.1,1439.8 1096.7,1338.8 1100.4,1515.6 1100.1,1380.9 1093.7,1557.7 1097.8,1524 1100.7,1524 1101.3,1524 1100.9,1532.4 1088.7,1481.9 1089.4,1498.7 1096.5,1591.4 1092.6,1557.7 1088.6,1524 1093.4,1364 1089.6,1481.9 1091.5,1498.7 1101.2,1557.7 1092.8,1490.3 1092.2,1498.7 1096.5,1524 1091.4,1507.2 1091.2,1507.2 1099.8,1456.6 1091.4,1540.8 1094.3,1566.1 1100.5,1439.8 1097.9,1490.3 1099.4,1515.6 1097.6,1498.7 1101.5,1574.5 1098.5,1414.5 1089.7,1490.3 1088.8,1524 1100.9,1439.8 1098.9,1439.8 1099.4,1498.7 1096.3,1540.8 1098.9,1465.1 1088.8,1582.9 1098.3,1481.9 1089.8,1540.8 1099.2,1490.3 1094.5,1574.5 1094.8,1524 1090.6,1423 1090.5,1431.4 1093,1532.4 1092.2,1490.3 1092.2,1566.1 1099.2,1532.4 1092.3,1473.5 1091.7,1296.7 1094.7,1549.3 1094,1439.8 1096.9,1473.5 1092.5,1532.4 1095.8,1507.2 1099.8,1515.6 1094,1481.9 1093.2,1507.2"/><polyline class="m mg" points="1163,1481.7 1155.2,1498.5 1161.7,1498.5 1158.9,1507.4 1158,1515.6 1160.8,1524.1 1166.4,1524.1 1153.4,1532.3 1158.9,1532.3 1161.7,1540.7 1164.5,1540.7 1155.2,1549 1158.9,1557.6 1153.7,1574.3"/><rect class="s" x="1062.5" y="1282.5" width="131" height="341"/><path class="k" d="M1062.5 1306.5h-6.5M1062.5 1347.5h-6.5M1062.5 1390.5h-6.5M1062.5 1431.5h-6.5M1062.5 1473.5h-6.5M1062.5 1515.5h-6.5M1062.5 1557.5h-6.5M1062.5 1599.5h-6.5M1094.5 1623.5v6.5M1160.5 1623.5v6.5"/><text class="t" x="1048.8" y="1313.7">45</text><text class="t" x="1048.8" y="1355.5">40</text><text class="t" x="1048.8" y="1397.7">35</text><text class="t" x="1048.8" y="1439.2">30</text><text class="t" x="1048.8" y="1481.4">25</text><text class="t" x="1048.8" y="1523.2">20</text><text class="t" x="1048.8" y="1565.6">15</text><text class="t" x="1048.8" y="1607.4">10</text><text class="x" style="letter-spacing:-1px" x="1093.5" y="1653.2">PS</text><text class="x" style="letter-spacing:-.2px" x="1160" y="1653.2">Curated</text><text class="x" transform="translate(1013.6 1454.9) rotate(-90)">axon_max_branch_order</text></g>
<g><rect class="b" x="1310.1" y="1361.3" width="52.5" height="54.5" fill="#db8cb3"/><path class="b" fill="none" d="M1310.1 1386.4H1362.6M1336.3 1361.3V1297.4M1336.3 1415.8V1608.1M1323.2 1297.4H1349.5M1323.2 1608.1H1349.5"/><rect class="b" x="1375.7" y="1359.8" width="52.5" height="45.2" fill="#77e2a4"/><path class="b" fill="none" d="M1375.7 1390.3H1428.2M1402 1359.8V1335.8M1402 1405V1480.8M1388.8 1335.8H1415.1M1388.8 1480.8H1415.1"/><polyline class="m mp" points="1341.2,1376.6 1340.8,1411.7 1338.4,1376.4 1331.6,1444.6 1331.8,1405.8 1336.8,1460.9 1333.3,1368.9 1335.2,1365.3 1332.2,1430.5 1330.3,1417.9 1340.4,1327.5 1330,1383 1336.1,1382.4 1337.9,1349.7 1333.3,1340.4 1342.7,1395.7 1342,1372.1 1339,1364.8 1337,1354.8 1339.2,1385.1 1337.6,1397.3 1339.2,1473.3 1340.2,1346 1342.8,1352.6 1333.8,1350.8 1330.3,1450.2 1338.9,1327.7 1332.5,1410.7 1330.2,1375.4 1342.8,1402.9 1341.9,1419.4 1333.5,1450.4 1331.1,1319.1 1340.2,1465.5 1331,1387.9 1338.5,1369.5 1341,1369.3 1338.3,1324 1330.6,1423.9 1336.1,1349.4 1339.1,1348.5 1335.8,1408.5 1335.4,1377.7 1333.9,1381.3 1338,1376.7 1342.8,1385.8 1337.2,1430.2 1332.6,1296.8 1331.8,1407.8 1329.9,1421.5 1329.9,1384 1342.9,1411 1342.3,1327.7 1330.1,1359 1339.8,1404.5 1330.8,1478.9 1341.9,1405.4 1342.3,1374.9 1329.8,1431.6 1332,1407.7 1334.7,1438.7 1335.4,1366 1341,1375.8 1341.4,1349.1 1340.6,1465.3 1340.2,1322.9 1337.5,1337.4 1332.6,1360.3 1330.6,1385 1335.1,1328.5 1341.1,1457.8 1342.5,1380 1340.1,1331.6 1332.2,1377.2 1341.5,1414.4 1340.5,1358.8 1331,1433.3 1342.2,1347.1 1332,1370.3 1341.5,1395.3 1342.4,1382.1 1335.4,1374.2 1332.8,1388.2 1337.1,1366.2 1340.2,1371.5 1333.3,1405.5 1333.6,1365.1 1334,1388.1 1331.1,1518 1330.5,1398.4 1332.6,1365.5 1330.6,1378 1335.4,1479.2 1336.5,1408.7 1342.3,1370.6 1337.3,1607.6 1336.1,1463.8 1339.8,1470.8 1335.4,1336.9 1335.6,1449.1 1331.5,1456.9 1336.6,1413.3 1333.1,1376.1 1334.8,1387.9 1331.2,1448 1341.7,1427.9 1331.5,1432.7 1342.2,1387.8 1341.2,1382.2 1334.7,1406.6 1335.3,1403.8 1339.3,1394.8 1339.2,1366.7 1338,1345.8 1340.8,1399.4 1332.9,1462 1338.2,1313.5 1340.7,1396.8 1336.3,1407.3 1338.3,1373.9 1337.5,1350.8 1339.5,1398.6 1336.1,1409.4 1333.3,1359.7 1336.7,1450.7 1333.5,1512.4 1338.1,1457.9 1338.9,1398.1 1340,1335.7 1339.9,1373.7 1337.6,1380.9 1335.3,1356.6 1332.9,1352.5 1332.8,1361.7 1331.6,1394 1342.6,1434.2 1340.7,1323.7 1339.1,1352.8 1337.6,1433.6 1338,1436.7 1341.4,1413.9 1340,1383.1 1330,1473.1 1333.8,1440.1 1331.6,1386.8 1336.9,1447.8 1337.6,1432.6 1337.2,1426.5 1333.4,1454.8 1338.1,1376.4 1332.8,1453.2 1340.3,1419.6 1335.1,1381.1 1338.9,1364.4 1335.6,1365.2 1333.4,1341.5 1335.6,1420.8 1340,1318.9 1342.5,1359.2 1340.4,1360.2 1335.1,1329.1 1331.6,1408.9 1340.5,1425.7 1331.9,1376.6 1342.3,1424.1 1332.2,1457.4 1332.1,1414.8 1341.4,1389.5 1333.3,1323.5 1342.7,1360.9 1337,1375.1 1338.1,1362.4 1337.7,1409.2 1330.7,1400.2 1330,1327.4 1334.8,1404.3 1330.8,1438.4 1335.5,1422.8 1336.3,1370.4 1339.9,1423.5 1337.8,1433.7 1340.8,1403.2 1340.3,1401.5 1331.2,1392.6 1337.7,1390.2 1339.8,1373.9 1338.7,1422 1337.7,1368.1 1340.2,1331.1 1339.7,1331 1331.4,1368.8 1331.3,1327.7 1337.5,1387.6 1332,1487.3 1329.9,1399.8 1338,1453.3 1332.8,1359.6 1339.3,1333.5 1340.8,1356.2 1340.7,1386.6 1333,1437.3 1330.7,1481.7 1333.2,1337.4 1337.5,1402.7 1338.4,1388.6 1340.5,1366.4 1335.8,1359.2 1330.8,1368.5 1342.9,1426.4 1334.8,1389.8 1332.3,1323.8 1330.8,1340.1 1331.3,1449.6 1340.6,1509.3 1341.5,1344.4 1339.2,1390.1 1340.5,1368.1 1341.2,1356.8 1330,1366.2 1342.1,1416.2 1331,1350 1331.6,1395.7 1330.5,1353.8 1336.9,1334.6 1332.4,1418.8 1342,1474.1 1331.2,1406.2 1332,1325.1 1332.7,1415.6 1341.7,1415.4 1331.3,1337.5 1339.5,1493.5 1332.4,1342.3 1332.2,1380.8"/><polyline class="m mg" points="1398.4,1334.9 1403.6,1340.9 1402.7,1352.6 1398.4,1358.1 1405.9,1360 1399.4,1374.9 1404,1385.1 1407.4,1385.5 1397.5,1394.8 1406.3,1396.2 1393.8,1403.7 1400.3,1403.7 1398.4,1409.3 1396.6,1413.3 1396.6,1480.3"/><rect class="s" x="1303.5" y="1282.5" width="131" height="341"/><path class="k" d="M1303.5 1339.5h-6.5M1303.5 1409.5h-6.5M1303.5 1479.5h-6.5M1303.5 1549.5h-6.5M1303.5 1618.5h-6.5M1336.5 1623.5v6.5M1401.5 1623.5v6.5"/><text class="t" x="1290.2" y="1347.5">0.90</text><text class="t" x="1290.2" y="1417.4">0.85</text><text class="t" x="1290.2" y="1487.1">0.80</text><text class="t" x="1290.2" y="1557.2">0.75</text><text class="t" x="1290.2" y="1626">0.70</text><text class="x" style="letter-spacing:-1px" x="1334.8" y="1653.2">PS</text><text class="x" style="letter-spacing:-.2px" x="1401.4" y="1653.2">Curated</text><text class="x" transform="translate(1237.5 1454.9) rotate(-90)">basal_dendrite_mean_contraction</text></g>
<g><rect class="b" x="1551.4" y="1329.3" width="52.5" height="107.4" fill="#db8cb3"/><path class="b" fill="none" d="M1551.4 1375.8H1603.9M1577.7 1329.3V1297.4M1577.7 1436.8V1608.1M1564.6 1297.4H1590.8M1564.6 1608.1H1590.8"/><rect class="b" x="1617.1" y="1314.8" width="52.5" height="79.2" fill="#77e2a4"/><path class="b" fill="none" d="M1617.1 1331.2H1669.6M1643.3 1314.8V1298.7M1643.3 1394V1504.6M1630.2 1298.7H1656.5M1630.2 1504.6H1656.5"/><polyline class="m mp" points="1583.4,1403.1 1572.4,1346.9 1581.5,1368.4 1583.9,1373.1 1573.9,1509.6 1574.2,1403 1580.2,1347.2 1576.4,1369.9 1583.9,1302.5 1571.3,1482 1577.5,1397.6 1580.3,1395.2 1578.5,1419.6 1580.9,1385.2 1578.1,1478.6 1581.8,1389.4 1577.2,1298.4 1581.6,1355.9 1571.7,1429.1 1574.3,1507.6 1573.8,1328.9 1572.1,1421 1584.1,1479.3 1571.7,1558 1575.5,1393.2 1576.8,1389.2 1580.4,1450.6 1582.7,1563.9 1572.9,1455.2 1579.9,1483.6 1573,1322.4 1571.3,1371 1573.1,1329.3 1576.6,1345.8 1575.3,1390.2 1575.4,1348.7 1575,1307.3 1579.8,1370.1 1574.2,1359.9 1573.8,1455.3 1580.2,1412.5 1581.6,1364.4 1573.7,1342.7 1583.2,1405.4 1582.1,1441.9 1582.7,1307.5 1582.7,1403.5 1581.8,1298.2 1572.4,1319 1580.4,1504.4 1576.8,1365 1577.8,1422.9 1583.7,1318.9 1571.2,1384.3 1582.9,1549.6 1575.8,1347.4 1571.8,1362.5 1581.1,1326.7 1584.1,1380.7 1576.6,1376.6 1575.6,1486 1576.9,1483.7 1576.4,1362.5 1582.3,1377.7 1575,1308.7 1578,1425.6 1575.6,1314.5 1574.4,1356.4 1574.3,1500.4 1579.8,1476.4 1582.7,1313.9 1578.3,1314.7 1571.1,1356.1 1574.3,1353.9 1578.2,1376.1 1580,1370.6 1583.8,1310.2 1582.8,1319.3 1578.5,1472.3 1581.1,1491.5 1579.9,1314.1 1572.4,1322.6 1571.7,1320.2 1576.6,1387.6 1581.8,1492.3 1574.9,1422.7 1576.8,1442.6 1577.1,1347.2 1582.4,1319.4 1576.9,1326.2 1580.8,1298.5 1583.1,1343.8 1578.3,1441.9 1578.5,1306.5 1581,1425.1 1578.8,1405.6 1571.6,1305 1574.4,1299.7 1572.4,1494.2 1573.6,1580.3 1584.3,1326.2 1578.6,1573.8 1575,1397.2 1583.6,1320 1582.8,1304.2 1574.7,1331.3 1573.3,1316.5 1582.4,1359.7 1579.2,1338.6 1573.2,1339.2 1580.1,1329.9 1577.3,1490.4 1577,1354.9 1581.1,1363.5 1579.7,1447.5 1576.2,1510.1 1575,1326 1578.8,1307.9 1583.6,1403.8 1572.3,1352.6 1572.2,1515.1 1579.9,1356.5 1571.5,1445.4 1582.4,1324.6 1579.7,1336.8 1579.7,1308.7 1581.3,1518.7 1574.7,1501 1578.8,1465.8 1571.2,1574.3 1581.2,1391.2 1577.2,1346.6 1581.9,1319.2 1575,1434.5 1573.4,1386.2 1576.5,1305.7 1583.3,1474 1579.7,1317.1 1584,1339.3 1573.3,1470.2 1572.1,1429.4 1580.6,1462.5 1575.8,1387.6 1574.7,1382.4 1582.3,1328.9 1572.2,1404.3 1581.6,1342.6 1571.9,1474.6 1574.3,1328.3 1572.3,1327.9 1575.7,1371.8 1583,1498.6 1580.1,1334.9 1575.3,1501.8 1579,1352 1572.3,1341.9 1572.9,1469.2 1575.4,1324.2 1574.8,1340.2 1580.6,1481.5 1576.7,1416.6 1573.2,1333.4 1573,1332.9 1580,1485.4 1578,1318.3 1582.4,1394.5 1571.3,1522.8 1573.5,1386.5 1578.2,1365.4 1571.6,1313.2 1571.7,1316.8 1580.7,1472.4 1571.5,1416.9 1577.7,1406.1 1579.2,1506.6 1575.8,1607.6 1580.1,1376 1579.2,1302.2 1579,1497.5 1584.2,1472.4 1576.4,1439.8 1575,1376.1 1578.4,1363.4 1578.2,1469.8 1571.4,1299.3 1579,1417.1 1572.7,1490.9 1576.4,1428.4 1571.9,1487.6 1572.4,1356.1 1572.1,1311.4 1579,1419.1 1578.6,1368.8 1572.8,1299 1572.5,1330.5 1574,1561.7 1578,1401.6 1580.7,1372.8 1576.4,1543.1 1579.3,1355.6 1571.2,1390 1583.6,1320.3 1577.3,1393.4 1582.8,1311.2 1572.7,1406.5 1584.2,1416.1 1584,1381.5 1577.6,1398.5 1571.7,1487.7 1579.1,1467.6 1574.8,1494.7 1575.4,1482.7 1577.9,1342 1577.3,1344.1 1576.1,1340.4 1584,1463.2 1575.3,1514.4 1581.7,1314.4 1573.6,1424.1 1580.7,1337 1580.4,1313 1578,1383.9 1573.6,1464.9 1574.3,1411.8 1571.3,1368.8 1583.8,1347.4 1582.7,1573.8 1577.4,1444.2 1577.9,1491.5 1571.7,1381.8 1572.7,1316.2 1573.8,1322.9 1581.9,1305 1579.9,1477.4 1581.2,1320.5"/><polyline class="m mg" points="1637.9,1298.7 1644.5,1297.4 1636.5,1309.8 1643.1,1314.5 1641.7,1322.8 1648.2,1326.5 1645,1336.4 1648.7,1362.8 1644.5,1367.4 1645.8,1373.4 1642.6,1454.2 1646.9,1465.6 1644.5,1479.9 1639.8,1503.7"/><rect class="s" x="1544.5" y="1282.5" width="132" height="341"/><path class="k" d="M1544.5 1297.5h-6.5M1544.5 1372.5h-6.5M1544.5 1447.5h-6.5M1544.5 1522.5h-6.5M1544.5 1597.5h-6.5M1577.5 1623.5v6.5M1643.5 1623.5v6.5"/><text class="t" x="1531.6" y="1305">0.5</text><text class="t" x="1531.6" y="1379.7">0.4</text><text class="t" x="1531.6" y="1455">0.3</text><text class="t" x="1531.6" y="1529.7">0.2</text><text class="t" x="1531.6" y="1605.1">0.1</text><text class="x" style="letter-spacing:-1px" x="1576.2" y="1653.2">PS</text><text class="x" style="letter-spacing:-.2px" x="1642.7" y="1653.2">Curated</text><text class="x" transform="translate(1490.5 1454.9) rotate(-90)">axon_soma_percentile_x</text></g>
<g><rect class="b" x="1792.8" y="1452.9" width="52.5" height="77.1" fill="#db8cb3"/><path class="b" fill="none" d="M1792.8 1530.1H1845.3M1819 1452.9V1297.4M1819 1530.1V1608.1M1805.9 1297.4H1832.2M1805.9 1608.1H1832.2"/><rect class="b" x="1858.4" y="1452.9" width="52.5" height="77.1" fill="#77e2a4"/><path class="b" fill="none" d="M1858.4 1491.6H1911M1884.7 1452.9V1414.3M1884.7 1530.1V1569.7M1871.6 1414.3H1897.8M1871.6 1569.7H1897.8"/><polyline class="m mp" points="1820.9,1491.6 1818.6,1530.1 1818.3,1491.6 1821.8,1569.7 1823.5,1414.3 1818.2,1608.1 1813.1,1452.9 1817.7,1452.9 1816.9,1491.6 1818.7,1530.1 1813.3,1530.1 1824.4,1491.6 1816.2,1452.9 1822,1530.1 1814.4,1530.1 1824.9,1530.1 1813.9,1297.4 1813.7,1491.6 1824.7,1569.7 1820.4,1491.6 1820.3,1491.6 1825.6,1608.1 1818.9,1569.7 1819.5,1608.1 1813.8,1569.7 1813.4,1452.9 1815.1,1569.7 1819.8,1491.6 1823.4,1414.3 1812.8,1452.9 1821.5,1530.1 1817.7,1569.7 1822.4,1491.6 1824.9,1491.6 1819.2,1491.6 1818,1530.1 1816.6,1530.1 1823,1491.6 1814.3,1608.1 1817.4,1452.9 1813.7,1530.1 1818.9,1530.1 1819.2,1530.1 1813.4,1530.1 1823.6,1608.1 1818.2,1452.9 1814.4,1414.3 1824.3,1452.9 1822,1569.7 1825.5,1375.8 1815.5,1452.9 1813.9,1491.6 1823.8,1491.6 1815.7,1414.3 1815.2,1452.9 1823.3,1530.1 1816.1,1414.3 1821.1,1530.1 1815.1,1569.7 1821.6,1452.9 1812.9,1569.7 1817.2,1530.1 1825.1,1491.6 1821.1,1491.6 1825.3,1491.6 1814,1530.1 1815.2,1491.6 1817.6,1530.1 1819.9,1452.9 1821.6,1452.9 1820,1491.6 1816.8,1530.1 1813.5,1491.6 1812.9,1530.1 1820.4,1530.1 1812.6,1530.1 1821.4,1452.9 1822.8,1491.6 1813.4,1491.6 1821,1491.6 1814.6,1530.1 1823.1,1452.9 1814.8,1530.1 1821.4,1491.6 1815.5,1569.7 1818.9,1569.7 1813.1,1530.1 1819.8,1530.1 1813.9,1530.1 1818.8,1491.6 1816.1,1491.6 1818.4,1452.9 1824.2,1530.1 1818.9,1491.6 1815.1,1491.6 1824.7,1491.6 1822.3,1452.9 1816.5,1530.1 1820.6,1452.9 1817.6,1530.1 1814.3,1491.6 1825.4,1530.1 1819.4,1569.7 1813.6,1452.9 1817.5,1569.7 1823.5,1452.9 1820.8,1452.9 1812.6,1414.3 1821.9,1491.6 1823.6,1452.9 1823.8,1491.6 1816.4,1608.1 1820.6,1569.7 1815.9,1530.1 1824.1,1452.9 1818.2,1569.7 1814.7,1569.7 1816.2,1530.1 1814,1491.6 1820.9,1530.1 1823.4,1491.6 1817.8,1375.8 1819.8,1491.6 1813,1491.6 1817.1,1569.7 1814.7,1530.1 1824.1,1452.9 1825.6,1530.1 1824.5,1491.6 1818.3,1491.6 1825,1569.7 1813.7,1530.1 1824.1,1491.6 1814.1,1452.9 1814.1,1375.8 1823.1,1452.9 1816.7,1530.1 1820.3,1530.1 1820.4,1530.1 1818.1,1452.9 1817,1530.1 1814.4,1569.7 1824.4,1491.6 1812.6,1491.6 1825.3,1491.6 1819.8,1297.4 1818,1414.3 1815.8,1569.7 1816.4,1569.7 1825.4,1414.3 1812.6,1608.1 1822.5,1569.7 1815.4,1452.9 1815,1608.1 1817.5,1414.3 1815.7,1491.6 1813.5,1530.1 1822.1,1297.4 1819.6,1336.2 1821.8,1452.9 1818.5,1491.6 1823.4,1530.1 1824.9,1491.6 1815.6,1452.9 1822.7,1530.1 1819.2,1530.1"/><polyline class="m mg" points="1880.2,1414.3 1886.4,1414.3 1888.6,1452.4 1889.5,1452.9 1876.5,1491.6 1878.4,1491.6 1880.2,1491.6 1887.7,1491.6 1878.4,1530.1 1882.1,1530.1 1888.2,1530.1 1880.8,1569.1"/><rect class="s" x="1786.5" y="1282.5" width="131" height="341"/><path class="k" d="M1786.5 1297.5h-6.5M1786.5 1336.5h-6.5M1786.5 1375.5h-6.5M1786.5 1414.5h-6.5M1786.5 1452.5h-6.5M1786.5 1491.5h-6.5M1786.5 1530.5h-6.5M1786.5 1569.5h-6.5M1786.5 1608.5h-6.5M1819.5 1623.5v6.5M1884.5 1623.5v6.5"/><text class="t" x="1772.9" y="1305">12</text><text class="t" x="1772.9" y="1344.4">11</text><text class="t" x="1772.9" y="1383.4">10</text><text class="t" x="1772.9" y="1421.9">9</text><text class="t" x="1772.9" y="1460.5">8</text><text class="t" x="1772.9" y="1499.2">7</text><text class="t" x="1772.9" y="1537.7">6</text><text class="t" x="1772.9" y="1577.3">5</text><text class="t" x="1772.9" y="1615.7">4</text><text class="x" style="letter-spacing:-1px" x="1817.5" y="1653.2">PS</text><text class="x" style="letter-spacing:-.2px" x="1884.1" y="1653.2">Curated</text><text class="x" transform="translate(1737.6 1454.9) rotate(-90)">basal_dendrite_max_branch_order</text></g>
<g><rect class="b" x="2034.1" y="1559.3" width="52" height="48.9" fill="#db8cb3"/><path class="b" fill="none" d="M2034.1 1577.5H2086.1M2060.1 1559.3V1297.4M2047.1 1297.4H2073.1M2047.1 1608.1H2073.1"/><rect class="b" x="2099.1" y="1565.4" width="52" height="24.5" fill="#77e2a4"/><path class="b" fill="none" d="M2099.1 1567.8H2151.1M2125.1 1565.4V1559.3M2125.1 1589.9V1608.1M2112.1 1559.3H2138.1M2112.1 1608.1H2138.1"/><polyline class="m mp" points="2054.1,1607.8 2053.7,1556.7 2057.8,1559.1 2061.1,1572.4 2057.7,1607.8 2056.5,1575.8 2056.1,1571.6 2061.1,1607.8 2057.2,1555.4 2053.7,1541.7 2061.5,1607.8 2060.8,1580.4 2062.2,1580.7 2059.8,1607.8 2056.4,1580.7 2059.6,1607.8 2055,1570.6 2058.8,1551.9 2062.8,1607.8 2052.3,1591.4 2054.7,1569.2 2055.1,1526.1 2058.5,1554.4 2065.4,1563.7 2057.5,1544.8 2062.3,1567.4 2056.9,1554.3 2064,1583.7 2064.7,1582.7 2064.4,1564 2053.8,1607.8 2059.9,1525.4 2055,1520.4 2061.3,1607.8 2058.5,1607.8 2058.8,1566.9 2059.4,1607.8 2053.5,1607.8 2057.1,1585.3 2059.3,1568.2 2060.9,1512.4 2058.1,1536.4 2060,1547.3 2061.7,1558.7 2062.8,1560.4 2059.9,1566.7 2057.3,1538.3 2062.8,1548 2066.5,1607.8 2057.9,1536.4 2061.6,1557 2059.4,1607.8 2059.5,1607.8 2063.9,1607.8 2053.8,1607.8 2066.4,1582.7 2065.9,1556.5 2063.9,1550.5 2054.8,1521.6 2057.9,1585 2062.1,1607.8 2061.5,1566.7 2055.4,1513.9 2060.2,1607.8 2062.3,1607.8 2058.3,1559.2 2062.5,1568.4 2054.5,1607.8 2059.9,1577.5 2063.4,1607.8 2062.2,1559.8 2066.3,1578.1 2060.8,1607.8 2061.9,1561.7 2063.8,1545.6 2065.6,1575.5 2059.9,1565.7 2064.7,1528.6 2053.5,1607.8 2061.3,1535.3 2060,1576.3 2056.8,1607.8 2061.2,1551.8 2063.3,1582.5 2055.5,1517.9 2060.3,1531.1 2061.8,1575.1 2058.2,1560.6 2057.3,1572.7 2055.6,1561.4 2054.6,1565.2 2060,1583.6 2061.6,1581.6 2060.7,1607.8 2057.2,1607.8 2064.5,1572.3 2063.4,1542.5 2065.5,1607.8 2060.4,1571.1 2055.7,1571.2 2054.8,1584.6 2055.2,1531.4 2054.3,1526.2 2059.5,1607.8 2059.7,1559.4 2055.8,1579.5 2062,1607.8 2063.7,1607.8 2054.1,1583.7 2056.3,1573.9 2058.3,1556.1 2060.3,1560.3 2062.1,1578 2063,1533.6 2064.7,1580.5 2062.8,1577 2064.8,1570.7 2058.3,1607.8 2057.6,1563.5 2054.1,1573.6 2065,1607.8 2064.6,1580.8 2066,1563 2056.5,1570.6 2061.7,1567.7 2064.7,1447.7 2065.8,1577.8 2053.9,1607.8 2056.2,1536.8 2058.8,1516.7 2057.4,1607.8 2065.3,1544.1 2063.5,1607.8 2058.2,1559.4 2059.5,1574.7 2062.6,1544.2 2055.7,1577.5 2053.5,1570.5 2064.6,1535.1 2055.3,1607.8 2065,1524.7 2066.4,1577.6 2054.9,1570.7 2065.1,1526.2 2059.5,1574 2056.4,1519.7 2059.7,1570.9 2061.5,1567.5 2060.4,1575.2 2057,1525.3 2056,1526.1 2063.1,1568.2 2057.1,1521.2 2060.4,1582.7 2063,1509.9 2065.1,1607.8 2058.9,1607.8 2060.4,1544.8 2060.7,1578 2066,1516.8 2063.8,1555.5 2063.4,1297.4 2053.5,1542.4 2055.4,1583.9 2063.3,1563.5 2059.2,1531.4 2064.2,1579.7 2062.1,1607.8 2066.1,1607.8 2063.4,1580.2 2059.4,1607.8 2053.8,1582.1 2062.3,1560.5 2055.8,1560.8 2054.8,1533.1 2054.9,1518 2064,1571.9 2058,1563.3 2058,1571.2 2064.7,1580.7 2063.7,1534.2 2062,1607.8 2063.7,1607.8 2055.7,1561.4 2065.9,1566.1 2057.4,1574.3 2063.7,1574.2 2066.3,1534.7 2065.5,1607.8 2066.6,1585.2"/><polyline class="m mg" points="2128.1,1559.3 2121.5,1566.3 2129.9,1567.2 2125.3,1571 2120.6,1574.3 2129.9,1579.3 2120.1,1584 2117.8,1607.6 2124.7,1607.6"/><rect class="s" x="2027.5" y="1282.5" width="130" height="341"/><path class="k" d="M2027.5 1302.5h-6.5M2027.5 1345.5h-6.5M2027.5 1388.5h-6.5M2027.5 1432.5h-6.5M2027.5 1476.5h-6.5M2027.5 1520.5h-6.5M2027.5 1564.5h-6.5M2027.5 1608.5h-6.5M2060.5 1623.5v6.5M2125.5 1623.5v6.5"/><text class="t" x="2014.3" y="1310.3">140</text><text class="t" x="2014.3" y="1352.7">120</text><text class="t" x="2014.3" y="1396.4">100</text><text class="t" x="2014.3" y="1440.5">80</text><text class="t" x="2014.3" y="1484.1">60</text><text class="t" x="2014.3" y="1528">40</text><text class="t" x="2014.3" y="1572.1">20</text><text class="t" x="2014.3" y="1615.7">0</text><text class="x" style="letter-spacing:-1px" x="2058.6" y="1653.2">PS</text><text class="x" style="letter-spacing:-.2px" x="2124.5" y="1653.2">Curated</text><text class="x" transform="translate(1967.3 1454.9) rotate(-90)">axon_exit_distance</text></g>
<g><rect class="b" x="103.3" y="1776.2" width="52.5" height="96.8" fill="#db8cb3"/><path class="b" fill="none" d="M103.3 1817.7H155.8M129.5 1776.2V1724.4M129.5 1873.1V2034.6M116.4 1724.4H142.7M116.4 2034.6H142.7"/><rect class="b" x="168.9" y="1798.7" width="52.5" height="74.3" fill="#77e2a4"/><path class="b" fill="none" d="M168.9 1823.6H221.4M195.2 1798.7V1770.6M195.2 1873.1V1947.8M182 1770.6H208.3M182 1947.8H208.3"/><polyline class="m mp" points="124.2,1724.4 128.1,1817.3 133.4,1724.4 132.9,1770.3 125.7,1817.3 134.1,1798.7 132.3,1830.7 129.9,1806.5 134.2,1724.4 132,1848.3 129.3,1947.8 128,1910.2 123.2,1798.7 134,1873.1 133.4,1972.3 131.4,2003.5 133.9,1873.1 130.2,1947.8 123.7,1873.1 126.7,1910.2 124.6,1972.3 128.6,1848.3 135.4,1798.7 130.1,1873.1 129,1817.3 131.3,1873.1 133.1,1910.2 132.2,1848.3 123.6,1910.2 131.4,1817.3 125.2,1786.1 128.9,1910.2 134.4,1806.5 131.2,1848.3 128.9,1863.8 126.5,1817.3 133.7,1836.3 135.8,1848.3 124.9,1777.7 125.2,1817.3 129.4,1873.1 132.1,1770.3 135.5,1848.3 128.5,1910.2 135.1,1873.1 132.8,1817.3 135.3,1830.7 133.1,1936.6 135.6,1936.6 130.7,1883.7 124,2003.5 125.2,1806.5 135.3,1786.1 130,1910.2 129.4,1910.2 131.2,1724.4 123.5,1724.4 129.9,1848.3 131.7,1724.4 134,1910.2 122.6,1764.7 129.3,1863.8 133.6,1848.3 132.9,1848.3 134.2,1798.7 133.8,1817.3 133.5,1798.7 124.2,1873.1 134.4,1873.1 132.1,1910.2 129.9,1910.2 133.7,1848.3 126.6,1777.7 134.2,1777.7 128.1,1910.2 133.1,1830.7 124.8,1798.7 124.3,1777.7 127.5,1910.2 127.2,1910.2 123.6,1724.4 127.9,1786.1 129.8,1817.3 134.6,1863.8 123,1830.7 125.5,1817.3 125.7,1947.8 130.8,1798.7 135.9,1873.1 130,1777.7 127.7,1873.1 130.8,1724.4 130.8,1724.4 130.3,1786.1 135.8,1777.7 131.5,1910.2 129.4,1873.1 135,2003.5 133,1873.1 130.3,1848.3 130.9,1883.7 125,1817.3 133.4,1806.5 127.1,1724.4 123.7,1724.4 128.3,1798.7 131.6,1830.7 123.3,1848.3 128,1817.3 135,1947.8 129.1,1848.3 126.4,1848.3 127.1,1817.3 128.3,1863.8 130.6,1786.1 129.1,1724.4 124.9,1830.7 125.3,1848.3 128.1,1724.4 124.3,2034.2 133.6,1947.8 126.8,1910.2 129.6,1910.2 125.5,1817.3 132.5,1863.8 131.7,1972.3 135,1848.3 123.3,1883.7 130.2,1873.1 126.4,1798.7 127.1,1830.7 127.6,1798.7 128,2003.5 127.2,1817.3 127.7,1873.1 125,1863.8 124.7,1972.3 127.1,1786.1 133.8,1972.3 134.1,1830.7 131.7,1836.3 132.4,1910.2 127.5,1798.7 134.1,1798.7 129.9,1798.7 132.7,1724.4 127.8,1863.8 127.2,1817.3 125.9,1798.7 133.7,1724.4 131.1,1786.1 131.1,1936.6 123.4,1817.3 131.7,2003.5 129.4,1798.7 126.9,1863.8 129.1,1947.8 125.4,1724.4 129.2,1972.3 134.3,1947.8 129.5,1830.7 134.8,1817.3 132.4,1817.3 134.8,1724.4 133.6,1777.7 131.9,1798.7 129,1806.5 123,2003.5 129.9,1873.1 127.3,1936.6 135.6,1817.3 134.9,1817.3 135.2,1883.7 132.2,1873.1 123.3,1777.7 134.7,1798.7 128.9,1817.3 127.9,1873.1 125.9,1848.3 124,1848.3 127.4,1806.5 127.1,1848.3 135.3,1724.4 130.6,1873.1 131.9,1798.7 133.9,1836.3 127.3,1910.2 126.7,1786.1 131.8,1830.7 129,1830.7 128.1,1798.7 133.7,1770.3 127.8,1836.3 124.6,1724.4 134.8,1947.8"/><polyline class="m mg" points="197.6,1769.9 194.4,1785.7 188.9,1798.7 195.4,1798.7 198.1,1817.3 192.6,1830.3 188.9,1873.1 195.4,1873.1 197.2,1873.1 199.5,1910.2 189.4,1947.2"/><rect class="s" x="96.5" y="1709.5" width="132" height="341"/><path class="k" d="M96.5 1724.5h-6.5M96.5 1798.5h-6.5M96.5 1873.5h-6.5M96.5 1947.5h-6.5M96.5 2022.5h-6.5M129.5 2050.5v6.5M195.5 2050.5v6.5"/><text class="t" x="83.4" y="1732">1.0</text><text class="t" x="83.4" y="1806.3">0.8</text><text class="t" x="83.4" y="1880.7">0.6</text><text class="t" x="83.4" y="1955.4">0.4</text><text class="t" x="83.4" y="2029.7">0.2</text><text class="x" style="letter-spacing:-1px" x="128" y="2080.1">PS</text><text class="x" style="letter-spacing:-.2px" x="194.6" y="2080.1">Curated</text><text class="x" transform="translate(42.3 1881.8) rotate(-90)">basal_dendrite_stem_exit_side</text></g>
<g><rect class="b" x="344.6" y="1752.2" width="52.5" height="66.7" fill="#db8cb3"/><path class="b" fill="none" d="M344.6 1783.8H397.1M370.9 1752.2V1724.4M370.9 1819V2034.6M357.8 1724.4H384M357.8 2034.6H384"/><rect class="b" x="410.3" y="1752.2" width="52.5" height="34.2" fill="#77e2a4"/><path class="b" fill="none" d="M410.3 1767.9H462.8M436.5 1752.2V1737.4M436.5 1786.4V1955.6M423.4 1737.4H449.7M423.4 1955.6H449.7"/><polyline class="m mp" points="373.8,1822.3 376.6,1798.5 374.9,1778.6 371.3,1799.8 367.3,1735.3 374.7,1749.1 369.5,1732.2 368,1793.5 370.6,1734 375.5,1879.9 367.3,1819.4 373.1,1923.6 372.5,1851.4 365.6,1748.1 375.5,1853.4 371.3,1761.3 364.9,1810.6 365.2,1754.2 368.2,1743.6 367.9,1788.1 371.4,1758 368.9,1786.9 372.7,1739.9 376.6,1780.1 367.3,1775.1 377.5,1776.9 372.6,1858.9 369.8,1740.9 371.5,1823.1 367.5,1788.8 371.2,1738.2 376.4,1802.8 373.6,1800.7 370.6,1728 376.1,1836.8 370.1,1794.3 366.6,1777.2 368.1,1759.8 374.1,1731 366.7,1874.1 372.1,1768.8 370.1,1801.1 369.2,1787.4 377.4,1925.8 365.4,1836.5 374.8,1756.4 365,1808 372.2,1727.7 376.2,1735.4 374.8,1729.2 377.5,1758.4 365.4,1765.8 375.5,1981.6 368.3,1758.8 366.1,1808.4 366.2,1814.3 370.8,1827.7 367.5,1746 376.7,1754.7 376.2,1757.7 376.4,1829.8 366.2,1868.7 364,1950.6 367.6,1780.7 374.7,1793.7 365.1,1866.3 376.9,1786.9 367.7,1737 377.1,1893.2 374.4,1776.6 366.8,1754.7 369.4,1748.7 372.4,1752.9 364.7,1756.1 376.2,1732.6 371.8,1808.1 369.7,1834.5 374.1,1727.8 370.6,1734 377.5,1819.2 376.1,1755.9 365.5,1768.8 369.5,1740.3 371.2,1863.3 376.9,1899.5 373.7,1738.9 366.3,1728.4 367.5,1744.8 372.5,1766.8 366.4,1748.7 374.6,1899.7 364.7,1825.1 372.2,1726 374.4,1873.8 366.7,1771.4 369.9,1787.6 364.9,1778.1 369.6,1734.7 376.7,1762.4 374.5,1760.6 365.5,1803.2 370.5,1813.5 374.8,1756.7 377,1738.1 366.4,1805.9 375.6,1816 376.8,1734.9 376.4,1744.6 367.8,1779.4 369.2,1729.6 373.1,1742.6 372.3,1758.9 372.5,1864.6 368.5,1861.1 376.1,1802.5 372.5,1889.9 369.9,1752.9 373.6,1726.7 366.6,2034.2 364.7,1813.5 375.9,1831 375.5,1757.5 369.4,1770.9 369.8,1746.4 376.2,1796.3 376.6,1725.8 370.7,1765.3 367.9,1799 373.7,1856.2 369.9,1766.8 376.3,1827.9 367.8,1751.5 371.4,1873.7 366.6,1774 367.4,1765.8 375.9,1801.2 376,1846.3 374.8,1770.6 365.6,1743 369.6,1801.8 373.7,1793.5 372.8,1737.1 371.5,1785.4 374.5,1755.6 374.5,1782.1 367,1827.9 375.4,1801.1 373.2,1856.3 373.7,1819.8 371,1801.7 364.8,1733.8 370.2,1727.5 372.4,1794 371.6,1823.7 376.9,1747.1 364.4,1813.4 365.9,1822.6 372.3,1736.2 367.2,1860.5 372.7,1750.7 366.5,1783.8 370.2,1761.9 375.6,1738.7 376.3,1817.9 365.7,1754.6 364.5,1801.3 374.9,1771.8 369.3,1730.8 376.9,1750.1 370,1827.6 373.2,1889.7 369.6,1766.5 365.5,1765.6 376,1752.6 376.3,1811.9 369.7,1764.6 365.8,1744 370.9,1924.5 367.7,1832 368.7,1734 366.3,1812.4 374.6,1744.8 374.1,1812.4 375.3,1794.3 375.2,1770.9 373.4,1789 366.6,1757.4 376.2,1796.3 366.6,1749.6 367.1,1794.3 375.7,1819.4 373.2,1765.7 371.1,1822.2 366.7,1817.7 372.6,1798.2 365.5,1732.3 375.5,1805.4 370.8,1771.6 366.6,1760.1 368.1,1780.7 376.5,1762.8 368.6,1784.5 376.9,1800 365.8,1724.7 366,1793.5 364.4,1748.5 366.1,1740.5 367.3,1808.7 372.9,1825.5 369.8,1855.8 369.6,1790.3 375.4,1805.1 370.7,1747.8 367.6,1736.9 375,1801.7 371.9,1818 372,1790.9"/><polyline class="m mg" points="439.5,1736.8 431.1,1744.2 433,1744.2 436.3,1746.1 435.8,1752.6 431.1,1761.5 442.7,1766.6 434.9,1768.4 441.9,1771.2 434.5,1781.8 442.3,1799.4 439,1809.3 435.2,1855.2 430.2,1954.8"/><rect class="s" x="338.5" y="1709.5" width="131" height="341"/><path class="k" d="M338.5 1724.5h-6.5M338.5 1793.5h-6.5M338.5 1861.5h-6.5M338.5 1929.5h-6.5M338.5 1997.5h-6.5M370.5 2050.5v6.5M436.5 2050.5v6.5"/><text class="t" x="324.8" y="1732">0.5</text><text class="t" x="324.8" y="1800.7">0.4</text><text class="t" x="324.8" y="1868.9">0.3</text><text class="t" x="324.8" y="1936.8">0.2</text><text class="t" x="324.8" y="2005.6">0.1</text><text class="x" style="letter-spacing:-1px" x="369.4" y="2080.1">PS</text><text class="x" style="letter-spacing:-.2px" x="435.9" y="2080.1">Curated</text><text class="x" transform="translate(283.7 1881.8) rotate(-90)">basal_dendrite_soma_percentile_x</text></g>
<g><rect class="b" x="586" y="1949.1" width="52.5" height="65.2" fill="#db8cb3"/><path class="b" fill="none" d="M586 1985H638.5M612.2 1949.1V1724.4M612.2 2014.3V2034.6M599.1 1724.4H625.4M599.1 2034.6H625.4"/><rect class="b" x="651.6" y="1987.4" width="52.5" height="44.1" fill="#77e2a4"/><path class="b" fill="none" d="M651.6 2007.3H704.2M677.9 1987.4V1831.6M677.9 2031.4V2033.7M664.8 1831.6H691M664.8 2033.7H691"/><polyline class="m mp" points="610.6,2020.8 617.5,2000.1 605.7,2000.3 606.2,1942.7 611.1,1937.9 611.7,1723.8 617.4,1983.8 613.1,2002.4 607.4,2004.1 615.8,1927.2 612.2,2013.7 615.7,1972.1 617.6,1987.9 609.4,1920.1 614.4,2010.4 606,2022.9 606.6,1969.1 610.9,1995.7 608.3,1973.7 609.7,2020.7 613.5,1904.1 618.2,2024 615,1987.2 608.2,2001.2 607.4,1997.2 616.5,1966.5 618.2,2001.5 613.6,1953.5 610.9,1972.5 618.5,1979.8 612.4,2032.7 609.6,2026 605.8,2011.5 609,1958.9 616.9,1948.1 616.7,1905.8 612.4,2022.4 611.8,1929.2 618.3,2034.1 611.1,2026.1 615.5,1952.8 618.1,1948.8 611.4,1987.5 606.3,1873.1 605.6,1926.5 612.3,2016.5 609.4,1976.8 610.8,1840.3 617.1,2027.4 611.8,1976.2 611.1,1945 608.5,2003.8 606.2,1922.4 618,2000.5 613,2023.4 614.1,1879 616.6,1919.8 616.8,2006.2 613.8,2028.4 606.5,2026.6 611.7,2024.1 614.6,2016.8 608.7,1977 610.3,1972.2 605.9,2032.7 605.7,1841.8 610.5,1971.8 614.8,1961.6 617.8,1906.3 610,2029.1 614.3,2029.1 608.6,1989.5 614.4,2001.9 617.5,1959.2 613.3,2022.9 608.7,1951 609.8,1978.5 614.2,1970.5 611.7,1973.4 616.1,1907.8 606,1927.8 614.2,1969.4 618.3,1917.5 605.7,1894.8 606.9,1914.2 606.9,2012.5 615.6,1885.9 612.2,1967.7 608.7,2016 610.1,2012.4 612.1,1909.2 606.4,2032.8 617.9,1962 616.6,1914.2 611,1921.6 608.7,1983.8 606.9,1930.7 613.7,1966.2 610.5,1939.1 609,1945.1 610.2,1943.7 610.8,1856.1 612.2,1733.1 610.9,1997 616.2,1907.7 617.3,2026.3 609.8,1909 618.7,1947.4 612.8,2014.6 615.7,1925.1 610.3,1962.1 609,2018.4 607.4,1956.3 618.7,1975.4 608.6,2021 611.3,2029.7 607.4,2021 607.2,1999.2 611,1992.4 617.8,1988 613.5,1956.6 618.1,2020.9 615.2,2014.8 609.1,1810.8 610.1,1916.6 617,1952.7 618.7,2024 618.3,1961.7 618.5,2003.4 613,2031.5 614.1,2034 613.9,1940.3 618.1,2028.7 613.9,1919 607.3,2018.4 615.5,1997.4 616.2,1965.9 607.3,1965 616,2010.4 608.4,2015.7 611.8,1938.3 616.2,1971.5 617.6,2007.5 613.9,2021.6 609.2,2018.6 611.6,1930 612.9,1955.1 617.1,2014.2 617.8,1982.3 605.7,1997.4 606,1920.3 614.8,1990.7 607.5,1984.6 606.8,1978.3 614.1,1966.4 613.6,1986.6 606.3,1975.2 617.7,2006.4 612.5,1982.7 616.2,1978.8 611.1,2020.8 615.8,2016.5 616.1,2008.5 612.6,2031.8 616.9,1954 612.2,1863.2 618.8,1918.1 614.3,1965.6 607.5,1984.9 605.8,2004.5 616.1,1994.3 613.4,1943.4 606.1,2016.8 614.1,1955.4 609.1,2030.5 617,2007.6 612.6,1984.8 615.8,1988.4 608.4,1971.1 605.9,1936.8 616.1,2024.7 607.7,1922.8 614.5,2011.7 607.1,1995 616,2032.7 612.2,1894.8 613.6,2017.4 616.1,2010.2 611.5,2005.1 608.9,2025.5 606.7,1864.1 606.3,2030.3 614.4,1996.3 611.5,2023.7 606.5,1999.5 610,2022.9 616,1990.5 614.5,1956.8 606.1,1989.8 616.9,2014.1 615.6,2000.6 612.2,1737.7 607.7,1945.7 612.5,1937.1 612.6,2026.9 616.7,2000.5 611.4,1980.4 617.6,1932 606.6,2002.5 606.2,1911.9 605.8,2000.1 610,1988 611,2030.1 612,2027.3 607.5,1912.4 616.4,1987.1 605.7,1950.6 608.4,2022.9 607.1,2031.7 616.9,1870.3 614.9,1956.3 606.7,1981.1 616.6,2016.3 616.9,1892 609,1976.3 611.7,1786.1 609.2,1911.4 615.2,1950.9 612.9,2004 607,1933.2 613.5,2009.9"/><polyline class="m mg" points="681.4,1831 680.9,1892 674.7,1900.4 677.2,1982.5 680.9,1987.4 673.4,1994.2 680.9,2001.7 679,2011.5 671.6,2015.6 678.5,2023.4 678.1,2028.6 681.8,2030.5 674.4,2033.3 676.2,2034.6"/><rect class="s" x="579.5" y="1709.5" width="131" height="341"/><path class="k" d="M579.5 1711.5h-6.5M579.5 1752.5h-6.5M579.5 1792.5h-6.5M579.5 1833.5h-6.5M579.5 1873.5h-6.5M579.5 1913.5h-6.5M579.5 1954.5h-6.5M579.5 1995.5h-6.5M579.5 2035.5h-6.5M612.5 2050.5v6.5M677.5 2050.5v6.5"/><text class="t" x="566.1" y="1718.9">400</text><text class="t" x="566.1" y="1759.7">350</text><text class="t" x="566.1" y="1800.2">300</text><text class="t" x="566.1" y="1840.7">250</text><text class="t" x="566.1" y="1881">200</text><text class="t" x="566.1" y="1921.5">150</text><text class="t" x="566.1" y="1961.9">100</text><text class="t" x="566.1" y="2002.8">50</text><text class="t" x="566.1" y="2042.7">0</text><text class="x" style="letter-spacing:-1px" x="610.7" y="2080.1">PS</text><text class="x" style="letter-spacing:-.2px" x="677.3" y="2080.1">Curated</text><text class="x" transform="translate(519.2 1881.8) rotate(-90)">axon_bias_x</text></g>
<g><rect class="b" x="827.3" y="1950.2" width="52.5" height="62.6" fill="#db8cb3"/><path class="b" fill="none" d="M827.3 1986.3H879.9M853.6 1950.2V1724.4M853.6 2012.8V2034.6M840.5 1724.4H866.7M840.5 2034.6H866.7"/><rect class="b" x="893" y="1972.5" width="52.5" height="25.8" fill="#77e2a4"/><path class="b" fill="none" d="M893 1990H945.5M919.3 1972.5V1917.1M919.3 1998.3V2027.3M906.1 1917.1H932.4M906.1 2027.3H932.4"/><polyline class="m mp" points="852.3,1793.9 853.5,1966.5 858.4,1986.3 859.1,1972.8 854.5,2010.4 853.9,1983.2 850,1941.3 860.2,2030.8 855.6,2026.8 858.8,1945.9 858.6,1948 854.3,2023.7 853.5,1985.4 848.3,1959.3 857.7,1977.6 858.6,1957.6 851.8,2033.4 857.9,1999.8 845.6,1886.4 851.9,2015.4 860.1,2026.3 849.8,1912.4 854.5,1979.6 848,2013.5 856.2,2018.2 859.6,1916 852,1990.7 856.8,1983.1 849.8,1979.7 850.3,1853.4 857.6,2012.1 850.8,1982.7 860.1,1968.7 854.2,1990.7 856.9,2012.7 854.6,1952.8 851.4,1926.6 845.6,1859.1 855.3,1929.5 857.5,1910.7 858.9,2001 853.9,1955.5 849,1989.2 850.8,2015.8 857.7,1924 855.9,2023.1 856.8,1991 854.2,2012.4 860.2,2022.2 859.3,2032.3 851.3,1995.3 856.2,2030.6 852.4,1935.2 850,1950.5 854.8,2033.6 851.7,1954.5 849.9,1882.3 847.7,1899.6 852.6,1966.3 856,1937.1 852.9,1966 851.1,1917.9 853.5,2019.1 852.7,1949.1 855,2016.6 847.8,1962.7 848.8,1942.4 857.9,1931.7 855.2,2019.1 854.6,2005.4 849.3,1876.8 860.2,1992.9 858.2,2018 855.6,2025.8 852,1958.3 857,1952.2 852.7,1953.9 855.1,2003.2 853.7,1922.7 851.6,2008.2 851,1904 859.5,1999.1 857.7,1998 855.1,1967.3 858.6,1856.1 856.9,2031 858.8,1925 858.4,1939.5 858.6,1867.9 852.4,2030.8 856,2001.8 852.4,1958.9 851.5,1993.7 848.3,1951 851.9,1980.7 848.2,1907.9 855.1,1957.5 853.8,2013.4 857.1,1988.8 858.3,1936.1 852.7,1838.1 847.8,1905.5 859,2004.4 859.4,1911 847.7,1997.6 857.8,1925.1 856.1,1960.8 859.7,1987.3 853.2,1971.9 857.4,1930.8 855.6,2024.9 850.9,2018 853.5,1985.3 855.4,2011.7 856.8,2026.4 849.5,2025.1 856.6,2027.4 855.6,2031.3 856.2,1980.6 855.5,2021.2 854,1907.1 846.2,1723.8 854.5,1984.9 848.7,2012.4 854.8,2020.2 860,1981.5 848.5,2006.9 849.2,1921.2 849.9,2029.1 849.9,1925.9 853.8,2014.4 858.3,1999.6 847.7,2006.9 854.6,2005.9 850.9,1975.7 853.9,2022.5 855.4,2009.8 858.5,1985.3 853.9,1965.4 854.6,1965.2 850.8,1919.1 856,2008.4 856.8,2029.1 855.3,1927.9 852.6,1997.2 854.4,1996.8 847.8,1999.4 853.4,2011.9 850.2,1954.1 850.1,1999.1 851.8,1996.6 854,2020.7 852.5,2003.1 849.3,2008.7 852.6,2028.7 856.5,2002.5 849,1845.5 855.1,1975.7 851,1920.2 850.1,2001.8 859.6,1945.7 854.5,2012.9 856.7,1991.8 847.1,1997.8 848.6,1986.9 848.8,1973.6 851.8,2018.1 859.6,1940.1 850.7,1946.6 850.1,1963.2 858.4,2015.8 850.1,2025.5 847,1970.5 856.3,2027.4 853.2,2034.1 847,1984.8 852.2,1920.2 849.1,1907.7 848.6,2032.9 857.6,1919.6 851.9,1987.1 848.4,1989.4 858.5,2010.1 850.8,1959.2 852,2020.3 859,1950.6 859.2,1946.7 850.8,2030 847.2,1923.7 856.7,1948.1 855.5,1937 859.7,1943.3 857.1,1929.8 852.1,1927.1 853.8,1937 849.9,2003.9 849.2,1989.5 857.7,1936.8 854,1841.5 860.1,1978.4 857.6,1971.8 854.7,2033.7 847.8,1987 850.1,2026.7 854.6,1950.7 849.7,1980.9 848.1,1997.1 849.3,2006 848,1952.7 853.6,2009.7 854.9,1977.6 848.4,2033.3 853.7,2024 851.8,2034.5 856.3,1976.6 849.5,1944.7 855.7,2026 853.7,2020 851.2,1910 859.2,1914 850.8,2014.5 856.1,1985.1 855.9,2014.4 847.1,2034.4 848.3,1988.9 857.7,1793.1 853.5,2007.1 849.9,1893.5 848.4,1920.3 849.8,1956.9 847.3,2017.5 851,1999 855.5,1971.1 848,1942.6"/><polyline class="m mg" points="914.8,1916.2 921.7,1916.2 924.6,1947.4 915.7,1970.1 921.3,1973.8 919.1,1986.8 920.4,1991.5 913.9,1995.2 916.7,1997.4 912.9,2002.1 918.5,2022.5 922.2,2027.3"/><rect class="s" x="820.5" y="1709.5" width="132" height="341"/><path class="k" d="M820.5 1737.5h-6.5M820.5 1812.5h-6.5M820.5 1886.5h-6.5M820.5 1960.5h-6.5M820.5 2035.5h-6.5M853.5 2050.5v6.5M919.5 2050.5v6.5"/><text class="t" x="807.5" y="1745">200</text><text class="t" x="807.5" y="1819.7">150</text><text class="t" x="807.5" y="1894">100</text><text class="t" x="807.5" y="1968.4">50</text><text class="t" x="807.5" y="2042.7">0</text><text class="x" style="letter-spacing:-1px" x="852.1" y="2080.1">PS</text><text class="x" style="letter-spacing:-.2px" x="918.7" y="2080.1">Curated</text><text class="x" transform="translate(760.5 1881.8) rotate(-90)">basal_dendrite_bias_x</text></g>
<g><rect class="b" x="1068.7" y="2020.6" width="52.5" height="14.5" fill="#db8cb3"/><path class="b" fill="none" d="M1068.7 2035.1H1121.2M1095 2020.6V1724.4M1081.8 1724.4H1108.1M1081.8 2035.1H1108.1"/><rect class="b" x="1134.4" y="1998.3" width="52.5" height="34.4" fill="#77e2a4"/><path class="b" fill="none" d="M1134.4 2015.1H1186.9M1160.6 1998.3V1914.3M1160.6 2032.7V2034.6M1147.5 1914.3H1173.7M1147.5 2034.6H1173.7"/><polyline class="m mp" points="1096.8,2020.9 1100.9,2034.6 1095.6,2003.6 1095.6,2034.6 1092.2,2034.6 1100.4,2034.6 1088.9,2034.6 1091.2,1879.9 1100.5,1956.8 1088.8,2034.6 1093.8,2034.6 1088.1,1808.9 1100,2034.6 1099.5,2034.6 1089.5,1993.1 1091.2,2024.1 1101.2,2006.1 1092.9,2005.5 1088.9,1998.1 1099.7,2014.9 1095.7,1969.3 1095.3,2034.6 1094.6,2012.9 1098.6,2034.6 1094.5,2017.2 1094.6,1959.4 1090,2032.2 1100.4,1991.2 1093.1,2034.6 1101.4,2029.4 1099.5,2014.5 1090.7,1973.9 1093.4,2034.6 1096.2,2034.6 1090.6,2034.6 1097.9,2022.9 1099,2034.6 1095,2024 1093.6,2034.6 1096.8,1723.8 1097,1981.3 1091.8,1856.1 1097.9,2031 1100.8,2030.9 1088.9,1977.6 1089.7,1987 1097.2,1959.8 1101.3,2027.1 1099.7,2034.6 1089.8,2034.6 1094.6,1842.2 1092.2,2034.6 1100.5,1976.4 1096.3,2022.7 1090.4,2006.9 1091.2,2034.6 1098.7,1835.9 1092.6,2034.6 1097.4,1909.7 1100.6,2034.6 1092.2,2034.6 1090,2034.6 1091.8,2008.8 1089.6,2034.6 1090.3,2031.2 1095.3,2020.9 1087.2,1925.5 1089,1848.3 1093.9,1970.2 1095.4,1966.7 1092.9,2034.6 1097.6,2034.6 1098.7,1874.4 1096.2,1953.9 1100.2,2023.5 1097.3,1963.6 1095,2034.6 1089.9,2034.6 1101.1,2023.7 1096.3,2034.6 1089.9,1998 1088.7,2026.7 1091.4,2034.6 1096.3,2031.6 1088.6,2028.3 1099.4,1982.2 1098.7,2034.6 1091.3,2034.6 1094,2023 1092,2025.7 1096.9,2022.6 1101.5,2030.7 1099.1,2016.6 1098.2,2034.6 1094.4,1995 1091.9,2008.2 1094.9,1993.5 1093.8,2002.5 1099.3,1999.9 1098.1,2033.3 1095.2,2034.6 1093.6,1985.2 1089.4,1886.8 1091.5,2034.6 1092,2034.6 1097.2,2028.9 1098.7,2034.6 1092.4,2034.6 1094,2034.6 1089.1,2034.6 1092.5,2034.6 1095.9,1871.2 1090.4,1965.6 1100.9,1998.9 1097.8,2034.6 1098.3,2027.4 1098.8,2034.6 1099.6,1959.5 1101.2,2034.6 1099.7,1958.5 1098.9,2034.6 1098.7,2034.6 1095.7,2033.2 1089.8,2005.8 1098.5,2034.6 1097.4,2018.4 1100.1,2034.2 1092.4,2034.6 1090.3,1932.9 1099.9,2015.5 1090.5,1991.6 1091.3,2034.6 1095.9,1915.8 1096.8,1953.4 1089.3,1988.2 1091.5,2034.6 1098.6,2011.7 1093.1,1866 1093.4,2030.7 1092.4,2034.6 1100.5,2034.6 1090.5,2034.6 1095.5,2028.7 1089,1963 1096.3,2007.4 1095.3,1976.1 1093.3,1979.8 1100.7,1981.8 1090.8,2034.6 1099.6,2034.6 1098,2034.6 1096.3,2029.6 1101,2034.6 1089.8,1899.4 1096,2034.6 1100.1,2008.9 1099.5,2034.6 1100.2,1986.5 1090.9,2029.9 1094.5,2034.6 1097.4,1960.6 1094.7,1955.8 1097.6,2034.6 1096.5,2012.7 1088.9,2034.6 1096.2,1982 1095.3,2034.6 1101.3,2034.6 1099.9,2016.2 1098.9,2034.6 1097.5,2034.6 1100.4,2034.6 1093.9,2034.6 1096.5,2034.6 1095.8,2034.6 1095.6,1999.6 1090.1,1992 1098.4,2008.2 1096.1,2034.6 1096.7,2034.6 1098.7,2034.6"/><polyline class="m mg" points="1160.8,1913.4 1157.6,1923.1 1162.3,1931.4 1157.1,1964.5 1158,2007.3 1156.2,2011.9 1164.9,2012.5 1159.9,2022.1 1155.2,2031.8 1164.1,2032.3 1160.4,2034.6"/><rect class="s" x="1062.5" y="1709.5" width="131" height="341"/><path class="k" d="M1062.5 1747.5h-6.5M1062.5 1788.5h-6.5M1062.5 1829.5h-6.5M1062.5 1870.5h-6.5M1062.5 1911.5h-6.5M1062.5 1952.5h-6.5M1062.5 1994.5h-6.5M1062.5 2035.5h-6.5M1094.5 2050.5v6.5M1160.5 2050.5v6.5"/><text class="t" x="1048.8" y="1754.6">0.7</text><text class="t" x="1048.8" y="1795.9">0.6</text><text class="t" x="1048.8" y="1837">0.5</text><text class="t" x="1048.8" y="1878.2">0.4</text><text class="t" x="1048.8" y="1919.5">0.3</text><text class="t" x="1048.8" y="1960.6">0.2</text><text class="t" x="1048.8" y="2001.8">0.1</text><text class="t" x="1048.8" y="2042.7">0.0</text><text class="x" style="letter-spacing:-1px" x="1093.5" y="2080.1">PS</text><text class="x" style="letter-spacing:-.2px" x="1160" y="2080.1">Curated</text><text class="x" transform="translate(1007.7 1881.8) rotate(-90)">basal_dendrite_frac_below_axon</text></g>
<g><rect class="b" x="1310.1" y="1942.2" width="52.5" height="92.9" fill="#db8cb3"/><path class="b" fill="none" d="M1310.1 1968.8H1362.6M1336.3 1942.2V1724.4M1323.2 1724.4H1349.5M1323.2 2035.1H1349.5"/><rect class="b" x="1375.7" y="1935.3" width="52.5" height="99.8" fill="#77e2a4"/><path class="b" fill="none" d="M1375.7 1956.5H1428.2M1402 1935.3V1849.3M1388.8 1849.3H1415.1M1388.8 2035.1H1415.1"/><polyline class="m mp" points="1338.4,1941.3 1342.6,2034.6 1341.4,1968.2 1333.7,2034.6 1340.7,1941.3 1340.9,1956.5 1336.5,1941.3 1336.1,2034.6 1333.9,1968.2 1337.5,2034.6 1333.9,2034.6 1335.9,1956.5 1341.9,2034.6 1342.7,1879.4 1339.8,1941.3 1337.3,2034.6 1331.8,1956.5 1333.7,1848.3 1337,2034.6 1340.2,1848.3 1336,2034.6 1342,1968.2 1335.7,2034.6 1337.2,2034.6 1332.6,1724.4 1337.3,1941.3 1330.7,1982.7 1334.9,1982.7 1339.1,1801.9 1333,1918 1334.1,1941.3 1333.1,2034.6 1342.4,2034.6 1340.4,1724.4 1332.7,1982.7 1338.2,1941.3 1334.8,1956.5 1333.2,1956.5 1331.7,1968.2 1334,1941.3 1340,1801.9 1341.6,1918 1332.3,1941.3 1340.2,1941.3 1342.5,2034.6 1337.4,1918 1332,1879.4 1330.9,1956.5 1334.2,1956.5 1342.5,1941.3 1334,2034.6 1330.9,1941.3 1336.3,1956.5 1335.6,1941.3 1338.6,1918 1341.2,1941.3 1331.9,1918 1337.6,2034.6 1340,1941.3 1342.5,2034.6 1342.5,1941.3 1334.2,2034.6 1338.8,2034.6 1337.1,1879.4 1336.2,2034.6 1328.9,1901.7 1340,2034.6 1336.6,2034.6 1338.3,2034.6 1335,1968.2 1338.4,2034.6 1340.8,2034.6 1338.2,1956.5 1341.1,1941.3 1331.6,1918 1337.8,2034.6 1334.3,1956.5 1331.3,1976.6 1337.1,1879.4 1342,1956.5 1332.9,2034.6 1332,2034.6 1341.6,1968.2 1337.7,1941.3 1333.6,2034.6 1334.4,1968.2 1337.6,1941.3 1339.7,1848.3 1334.9,1956.5 1332.7,2034.6 1334.3,2034.6 1332.6,1976.6 1333.6,2034.6 1337.5,2034.6 1337.4,1848.3 1329.8,2034.6 1337.8,2034.6 1334.9,2034.6 1337.4,1918 1336.1,2034.6 1331.1,1956.5 1338.6,1879.4 1330.2,1976.6 1337.9,2034.6 1333.5,2034.6 1338.1,1956.5 1330.7,1801.9 1330.1,1848.3 1340.5,1879.4 1336.7,1968.2 1332.9,1918 1337.4,2034.6 1329.9,2034.6 1338.3,2034.6 1335.8,2034.6 1334.7,1956.5 1338.2,2034.6 1337,2034.6 1331.7,1901.7"/><polyline class="m mg" points="1397.5,1848.3 1407.4,1848.3 1400.3,1918 1401.2,1918 1396.6,1941.3 1402.2,1941.3 1405.9,1941.3 1395.7,1956.5 1399.9,1956.5 1398.1,1976 1396.6,2034.6 1403.1,2034.6 1406.8,2034.6"/><rect class="s" x="1303.5" y="1709.5" width="131" height="341"/><path class="k" d="M1303.5 1709.5h-6.5M1303.5 1756.5h-6.5M1303.5 1802.5h-6.5M1303.5 1849.5h-6.5M1303.5 1895.5h-6.5M1303.5 1942.5h-6.5M1303.5 1988.5h-6.5M1303.5 2035.5h-6.5M1336.5 2050.5v6.5M1401.5 2050.5v6.5"/><text class="t" x="1290.2" y="1717.1">0.7</text><text class="t" x="1290.2" y="1763.9">0.6</text><text class="t" x="1290.2" y="1810.4">0.5</text><text class="t" x="1290.2" y="1856.9">0.4</text><text class="t" x="1290.2" y="1903.3">0.3</text><text class="t" x="1290.2" y="1949.8">0.2</text><text class="t" x="1290.2" y="1996.3">0.1</text><text class="t" x="1290.2" y="2042.7">0.0</text><text class="x" style="letter-spacing:-1px" x="1334.8" y="2080.1">PS</text><text class="x" style="letter-spacing:-.2px" x="1401.4" y="2080.1">Curated</text><text class="x" transform="translate(1249.1 1881.8) rotate(-90)">basal_dendrite_stem_exit_down</text></g>
<g><rect class="b" x="1551.4" y="1918.6" width="52.5" height="116.5" fill="#db8cb3"/><path class="b" fill="none" d="M1551.4 1968.8H1603.9M1577.7 1918.6V1724.4M1564.6 1724.4H1590.8M1564.6 2035.1H1590.8"/><rect class="b" x="1617.1" y="1935.3" width="52.5" height="99.8" fill="#77e2a4"/><path class="b" fill="none" d="M1617.1 1942.2H1669.6M1643.3 1935.3V1849.3M1630.2 1849.3H1656.5M1630.2 2035.1H1656.5"/><polyline class="m mp" points="1571.1,2034.6 1575.6,2034.6 1582.3,1941.3 1579,1976.6 1579.7,2034.6 1584.2,1968.2 1582.9,1968.2 1572.2,1956.5 1575.8,1941.3 1574.6,1982.7 1576.3,1918 1577.3,1941.3 1574.9,2034.6 1574.3,2034.6 1577.1,1879.4 1577.9,1976.6 1576.7,1918 1583.7,2034.6 1582.3,1976.6 1574.3,1879.4 1584.1,1968.2 1582.8,1901.7 1577.3,1956.5 1576.3,1918 1574.3,1941.3 1571.5,1956.5 1580.9,1901.7 1577.8,1956.5 1573,1918 1579.5,1879.4 1571.7,1835 1581.6,1918 1581.7,2034.6 1577.6,1956.5 1576,1848.3 1574.1,1918 1583.9,1976.6 1572.7,2034.6 1575,1918 1574,2034.6 1573.5,1968.2 1581.8,1848.3 1576.6,2034.6 1584.1,2034.6 1583.8,1879.4 1571.6,1941.3 1573.8,2034.6 1572.1,1941.3 1582.2,1968.2 1573.6,2034.6 1580.1,1848.3 1575.6,2034.6 1580.4,2034.6 1581,1835 1579.1,1956.5 1573.5,1941.3 1580.4,2034.6 1578.9,1982.7 1581,2034.6 1576.4,2034.6 1582.7,1956.5 1573.9,1941.3 1576.8,2034.6 1581.4,1801.9 1571.6,2034.6 1579.4,2034.6 1578.4,1956.5 1584.1,2034.6 1572.1,1956.5 1581,1848.3 1580.3,1941.3 1572.8,2034.6 1578.1,1879.4 1571.7,1941.3 1578.9,1941.3 1572.6,2034.6 1575.8,1901.7 1576.2,2034.6 1578.1,1982.7 1583.1,1918 1577.3,2034.6 1580.1,2034.6 1582.6,2034.6 1575.8,1879.4 1575.9,2034.6 1579.5,1930.5 1577.5,2034.6 1581.2,1968.2 1577.8,1968.2 1579.2,1941.3 1580.5,1801.9 1581.7,2034.6 1579,2034.6 1582.6,2034.6 1574.6,1956.5 1576.2,2034.6 1573.3,1968.2 1580.5,2034.6 1570.8,1988.7 1572.4,1982.7 1575.8,2034.6 1573.7,1956.5 1583.3,2034.6 1580.5,1723.8 1577.1,2034.6 1581,1918 1579,1941.3 1576.1,1941.3 1580.5,2034.6 1581.3,2034.6 1574,1801.9 1579.8,1956.5 1574.8,1918 1576.2,2034.6 1572.8,2034.6 1581.3,1956.5 1572.9,1956.5 1580.6,2034.6 1576.4,2034.6 1575.1,2034.6 1583.6,1976.6 1581.5,1941.3 1576.3,1918"/><polyline class="m mg" points="1649.1,1848.3 1643,1879 1640.4,1901.3 1640.7,1918 1643.5,1941.3 1647.2,1941.3 1649.1,1941.3 1645,1956.5 1636.5,2034.6 1642.6,2034.6 1648.2,2034.6"/><rect class="s" x="1544.5" y="1709.5" width="132" height="341"/><path class="k" d="M1544.5 1709.5h-6.5M1544.5 1756.5h-6.5M1544.5 1802.5h-6.5M1544.5 1849.5h-6.5M1544.5 1895.5h-6.5M1544.5 1942.5h-6.5M1544.5 1988.5h-6.5M1544.5 2035.5h-6.5M1577.5 2050.5v6.5M1643.5 2050.5v6.5"/><text class="t" x="1531.6" y="1717.1">0.7</text><text class="t" x="1531.6" y="1763.9">0.6</text><text class="t" x="1531.6" y="1810.4">0.5</text><text class="t" x="1531.6" y="1856.9">0.4</text><text class="t" x="1531.6" y="1903.3">0.3</text><text class="t" x="1531.6" y="1949.8">0.2</text><text class="t" x="1531.6" y="1996.3">0.1</text><text class="t" x="1531.6" y="2042.7">0.0</text><text class="x" style="letter-spacing:-1px" x="1576.2" y="2080.1">PS</text><text class="x" style="letter-spacing:-.2px" x="1642.7" y="2080.1">Curated</text><text class="x" transform="translate(1490.5 1881.8) rotate(-90)">basal_dendrite_stem_exit_up</text></g>
</svg></body></html>
